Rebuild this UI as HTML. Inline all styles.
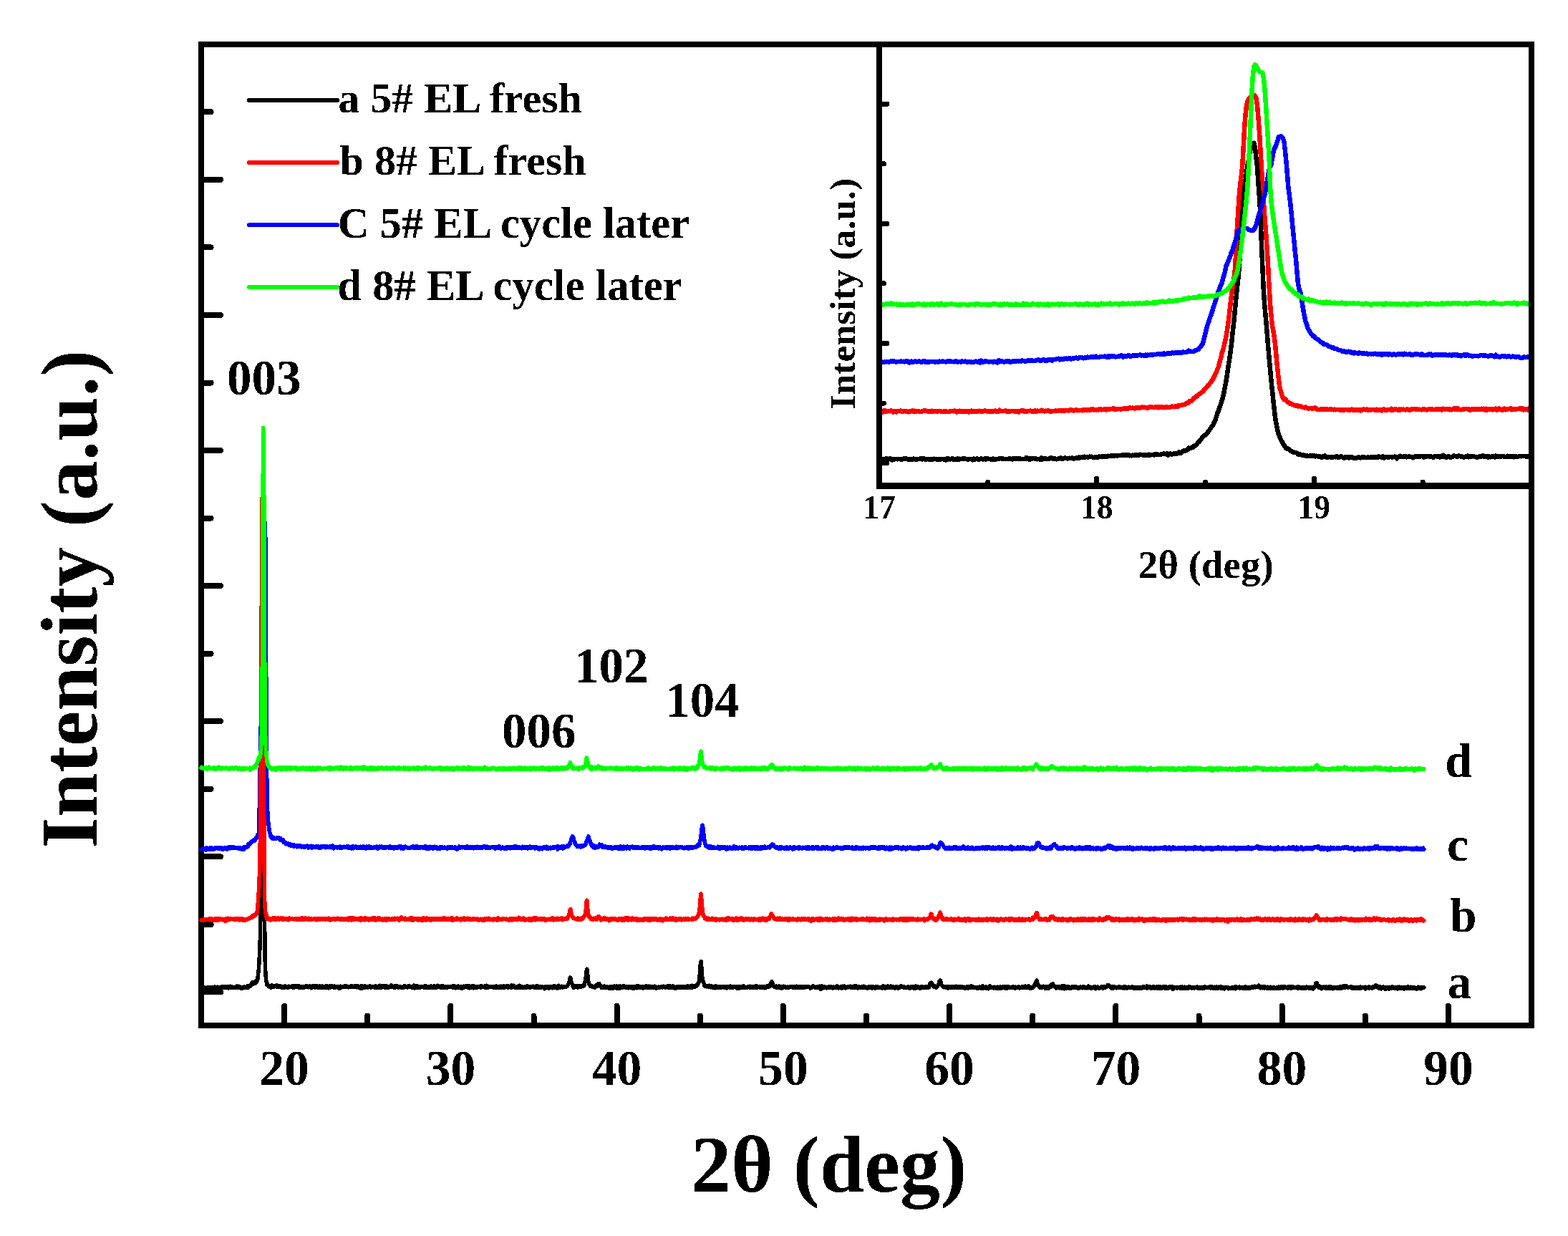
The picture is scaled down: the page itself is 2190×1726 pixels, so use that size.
<!DOCTYPE html><html><head><meta charset="utf-8"><style>html,body{margin:0;padding:0;background:#fff;}svg{display:block}text{font-family:'Liberation Serif','Times New Roman',serif;font-weight:bold}</style></head><body>
<svg width="2190" height="1726" viewBox="0 0 2190 1726" shape-rendering="crispEdges">
<rect width="2190" height="1726" fill="#fff"/>
<defs><filter id="aa" x="0" y="0" width="2190" height="1726" filterUnits="userSpaceOnUse" color-interpolation-filters="sRGB"><feComponentTransfer><feFuncA type="discrete" tableValues="0 1"/></feComponentTransfer></filter><clipPath id="cm"><rect x="277" y="58" width="1866" height="1378"/></clipPath><clipPath id="ci"><rect x="1228" y="62" width="911" height="616.5"/></clipPath></defs>
<g stroke="#000" fill="none" stroke-width="8">
<rect x="281" y="62" width="1858" height="1370"/>
</g>
<path d="M397.1 1432V1404.8M513.2 1432V1418.6M629.4 1432V1404.8M745.5 1432V1418.6M861.6 1432V1404.8M977.8 1432V1418.6M1093.9 1432V1404.8M1210.0 1432V1418.6M1326.1 1432V1404.8M1442.2 1432V1418.6M1558.4 1432V1404.8M1674.5 1432V1418.6M1790.6 1432V1404.8M1906.8 1432V1418.6M2022.9 1432V1404.8M281 250.8H308M281 156.3H294.6M281 439.9H308M281 345.4H294.6M281 629.0H308M281 534.5H294.6M281 818.1H308M281 723.6H294.6M281 1007.2H308M281 912.7H294.6M281 1196.3H308M281 1101.8H294.6M281 1385.4H308M281 1290.9H294.6" stroke="#000" stroke-width="8" stroke-linecap="round" fill="none"/>
<g clip-path="url(#cm)" fill="none" stroke-width="5.5" stroke-linejoin="round" stroke-linecap="round" shape-rendering="crispEdges">
<path stroke="#000000" d="M281.0 1379.2l.5 2 .5-1.6 .5 .4 .5 .1 .5-.5 .5-.5 .5 1.4 .5-.2 .5-1.8 .5 3.2 .5-1 .5-1.4 .5 1.3 .5-1.1 .5 .3 .5 .6 .5-1.6 .5 1.4 .5 .6 .5-.1 .5-1.3 .5 .9 .5-1.9 .5 1.1 .5 .4 .5-1.4 .5 .9 .5 1.4 .5 .6 .5-1.4 .5 0 .5-1.3 .5-.2 .5-.2 .5 1.4 .5 .2 .5-1.1 .5-.5 .5 1.1 .5 .1 .5-.4 .5 1 .5-1 .5 0 .5-.8 .5 .9 .5 .9 .5-1 .5 0 .5 .3 .5-.2 .5 .2 .5 0 .5 0 .5-1 .5 .8 .5-1.5 .5 1.4 .5-1.1 .5 .8 .5 .4 .5-.7 .5 .4 .5-1.3 .5 .6 .5 1.1 .5-1.4 .5 1.4 .5-1.6 .5 .4 .5-.2 .5 .8 .5 .4 .5-1.2 .5 .6 .4 1.4 .5-1.5 .5-.4 .5 .9 .5-.4 .5-.4 .5-.8 .5 1.9 .5-1 .5 .4 .5-.8 .5 1.7 .5-.4 .5 .2 .5-.9 .5 .5 .5 .3 .5 .1 .5-.5 .5-.3 .5-.2 .5-.3 .5-.1 .5 1 .5-.5 .5-1.3 .5 1.4 .5 1 .5-1 .5-1.2 .5 1.3 .5 .7 .5-.4 .5-.5 .5 1.7 .5 0 .5-1.5 .5 .7 .5-.3 .5 .3 .5 .5 .5-.5 .5-.5 .5-.6 .5-.1 .5 .5 .5 .9 .5-.7 .5-.2 .5 .1 .5-.2 .5 .4 .5-1.3 .5-.7 .5 1.1 .5-.6 .5 1.9 .5-1.4 .5-.3 .5-1.3 .5 .9 .5-1.1 .5 .8 .5-.7 .5-1.7 .5 .4 .5-2.8 .5 1.2 .5 1.2 .5-.6 .5-.8 .5-.4 .5-1.2 .5-.2 .5 .9 .5 .9 .5-3.1 .5 1.9 .5-.3 .5-.1 .5-1.8 .5-1 .5-2 .5-4.3 .5-4.4 .2-2.5 .1-.7 .1-1.1 .1-1.8 .1-1.5 .1-2.1 .1-1.7 .1-.3 .1-2.6 .1-1.7 .1-.9 0-1.5 .1-1.6 .1-2.3 .1-2 .1-1.5 .1-1.9 .1-1 .1-2.9 .1-1.9 .1-2.9 .1-1.6 .1-5.7 .1-1.8 .1-3.9 0-5.8 .1-2.1 .1-6.3 .1-4.4 .1-5 .1-2.9 .1-5.2 .1-5.8 .1-5.3 .1-6.7 .1-7.7 .1-9.5 .1-9.9 .1-9.5 0-11.7 .1-9.9 .1-10.4 .1-12.5 .1-13.6 .1-14.1 .1-14 .1-17.1 .1-15.5 .1-16.6 .1-16.8 .1-13.2 .1-18.8 .1-21.5 0-23.9 .1-25.3 .1-27.5 .1-24.4 .1-16.8 .1-16.1 .1-13.1 .1-12.7 .1-9.1 .1-7.7 .1-11.7 .1-7 .1-7.6 .1-4.1 .1-3.2 0 1.3 .1 .9 .1 12.9 .1 14.9 .1 9.7 .1 21.6 .1 26.1 .1 16.8 .1 36.6 .1 40.9 .1 36.5 .1 36.3 .1 29.8 .1 16.9 0 17.9 .1 17.8 .1 19.5 .1 18.4 .1 18.3 .1 17.9 .1 16.9 .1 15.8 .1 13.5 .1 15.9 .1 14.8 .1 12.2 .1 10.6 .1 5.3 0 8.4 .1 7.1 .1 1.9 .1 4.4 .1 1.7 .1 3.7 .1 3.8 .1 1 .1 2.9 .1 1.6 .1 1.5 .1 1.7 .1 1.2 .1 1.5 0 .7 .1-.2 .1 2.4 .1 .6 .1-1.3 .1 2.4 .1 .8 .1 .7 .1 .3 .1-.8 .1 1.3 .1-.9 .1 1.9 .1 2 0-.7 .1 .4 .1-.8 .1-.2 .1 .2 .1 1 .1-.6 .1 .3 .1 1.5 .1-2 .1 .4 .1 .7 .1 .5 .1 0 0-.8 .5 1.7 .5 .3 .5 .8 .5-.7 .5 1.2 .5 .2 .5-.5 .5 .3 .5-.2 .5 1.4 .5-3.4 .5 1.2 .5-.2 .5 .9 .5-.3 .5 .1 .5 .8 .5-1.9 .5 .5 .5 .4 .5-.8 .5 1.1 .5-.1 .5-.8 .5-.8 .5 2.5 .5-.8 .5 0 .5-.2 .5 0 .5 .6 .5-.6 .5-.4 .5 1 .5-.4 .5-.6 .5-.1 .5 1.6 .5-.4 .5 1.1 .5-1.9 .5-.1 .5 .9 .5 .8 .5-.6 .5-.1 .5 1.1 .5-2 .5-.3 .5 .3 .5 .4 .5 .5 .5 .5 .5-.5 .5 .8 .5-1.7 .5 2 .5-2 .5 1.5 .5-1.6 .5 .9 .5-.2 .5 .4 .5 .2 .5-.8 .5 .1 .5 .3 .5-1.2 .5 .4 .5-.6 .5 1.2 .5 1.6 .5-1.1 .5-1.2 .5 .2 .4 1.2 .5-1.1 .5-.8 .5 .4 .5 0 .5 0 .5 1.3 .5-.5 .5-1.1 .5 .7 .5-.5 .5 0 .5-.3 .5 2.5 .5-1.6 .5 .7 .5 .2 .5-.9 .5 .7 .5 0 .5-.3 .5 1.5 .5-1.4 .5-.4 .5 .7 .5 .8 .5-.6 .5-1.1 .5-.3 .5 0 .5 .2 .5 .8 .5 .3 .5-2.3 .5 1.7 .5-.9 .5 1.4 .5 .2 .5-1.3 .5 .2 .5-.3 .5 1 .5-1.5 .5 .3 .5 .4 .5 1.4 .5 .9 .5-1.8 .5-.9 .5 .9 .5-.7 .5 1 .5-1.2 .5 .6 .5 .3 .5 .4 .5-.5 .5 1 .5-.8 .5-1.5 .5 2.1 .5-.9 .5-.3 .5 1.6 .5-1.9 .5 .8 .5-.6 .5 1.6 .5-1.3 .5 .5 .5-1.3 .5 2.2 .5-1.9 .5 1.5 .5 .1 .5 .1 .5 .4 .5-2.2 .5 1.2 .5-.2 .5 .2 .5 .5 .5-.7 .5-.7 .5 .5 .5 1.2 .5-2 .5 .9 .5-.8 .5 1.6 .5-2.1 .5 1 .5 .2 .5 .2 .5 1.7 .5-.6 .5-2 .5 2.4 .5-2.5 .5-.5 .5 .3 .5 1.2 .5 .3 .5-2.1 .5 2 .5-.5 .5 .7 .5-.8 .5 1 .5-.3 .5-1.3 .5 2 .5-1 .5 .4 .5 .4 .5-1.6 .5 .6 .5-.5 .5-.1 .5 .9 .5 0 .5 .8 .5 0 .5-1 .5-.6 .5 3 .5-.8 .5-1.7 .5-.6 .5 .4 .5 .5 .5 .6 .5-.1 .5-.4 .5-.5 .5 .3 .5-.3 .5 .3 .5-.2 .5 .5 .5-1.8 .5 1.1 .5 .1 .5-.6 .5 .7 .5-.7 .5 .3 .5 .3 .5 0 .5-.2 .5 1.2 .4-.6 .5 0 .5 0 .5-.7 .5-.2 .5 1.3 .5-.9 .5-1 .5-.3 .5 1.8 .5-.7 .5 .5 .5-.4 .5 .1 .5 .2 .5-.8 .5 .9 .5 .7 .5-.2 .5-1.8 .5 .3 .5 0 .5 .8 .5 .9 .5-.4 .5-1.6 .5 1.4 .5 .5 .5-.9 .5 1.7 .5-1.9 .5 1.4 .5 .9 .5-2.7 .5 .7 .5 .6 .5 2 .5-3.7 .5 1.7 .5-.2 .5-.5 .5-.3 .5 .2 .5 .2 .5-.7 .5 2.1 .5-2 .5 .5 .5-.2 .5 .2 .5 .4 .5-.6 .5 .3 .5 1.5 .5-.5 .5-1 .5 .9 .5-1.2 .5 .7 .5-1.2 .5 .2 .5 .2 .5 1.6 .5-.8 .5 .2 .5-.3 .5 .2 .5 0 .5 .3 .5-.4 .5-.9 .5 .1 .5 1.5 .5 .2 .5-.6 .5-1.7 .5 2.4 .5-.9 .5-.3 .5 .1 .5-.3 .5 1.6 .5-.1 .5-2.1 .5 .7 .5 .4 .5 .7 .5-2.8 .5 2.5 .5 .6 .5-1.5 .5 .2 .5 1 .5-.7 .5-1.3 .5 .2 .5 .1 .5-.3 .5 1 .5-.4 .5 .5 .5 .5 .5 .8 .5-1.2 .5-1.6 .5 2.5 .5-1.2 .5 1 .5-1.2 .5 .6 .5-.4 .5 .1 .5 1 .5-1.5 .5 .7 .5 0 .5-.5 .5-1.3 .5 1.9 .5-2.4 .5 1 .5 .8 .5 .7 .5 .3 .5 0 .5-.2 .5-.7 .5 1.2 .5-1.2 .5 1.1 .5-2.5 .5 .9 .5 .3 .5 .4 .5-1.7 .5 2.4 .5 .1 .5-.2 .5-.9 .5 1.4 .5-1.5 .5 1.1 .5-.7 .5 0 .5-.1 .5 .1 .5 .9 .5 .2 .5 0 .5-.4 .5-.1 .4-.2 .5 1 .5-1.7 .5-.1 .5 .5 .5-1.3 .5 1.1 .5 .1 .5-.7 .5 .3 .5 1 .5-.7 .5 .2 .5 .7 .5-1.2 .5-.4 .5 .8 .5 .4 .5-1.7 .5 1.9 .5-.8 .5 0 .5-.4 .5 .5 .5 .9 .5-.3 .5 .2 .5-.9 .5 1.5 .5-.3 .5-.9 .5-2 .5 2 .5 2 .5-2.1 .5-.7 .5 2.1 .5-1.8 .5 .9 .5 .2 .5-1.7 .5 1.2 .5 .8 .5-1.2 .5 .8 .5-.5 .5 .8 .5 .6 .5-2.2 .5 .6 .5 .5 .5-.8 .5-.1 .5 .3 .5 .1 .5-.3 .5 .7 .5 .4 .5 0 .5-.1 .5 .4 .5-1.9 .5 .9 .5 .2 .5 .3 .5-1.6 .5 2.6 .5-2.1 .5 .9 .5 .4 .5 .2 .5-1.3 .5 .1 .5 .7 .5 .1 .5 .3 .5-.7 .5-.5 .5-.5 .5 2.3 .5-2.3 .5 1.5 .5-.3 .5 .4 .5 .1 .5 .3 .5-1 .5 .3 .5-1.8 .5 1.5 .5-.7 .5 .6 .5 1 .5-.8 .5 .7 .5-.9 .5 .4 .5-.6 .5-1.6 .5 1.4 .5 .3 .5 .3 .5-.1 .5-.1 .5 .8 .5-.2 .5-.8 .5 1 .5-2.2 .5 1.3 .5 .1 .5 1.1 .5-1.4 .5-.7 .5 1.3 .5 1.1 .5-1.4 .5 .1 .5-.1 .5 .2 .5 .9 .5 .5 .5-1.1 .5-.4 .5 1.4 .5-1.3 .5 0 .5-.3 .5 0 .5 .4 .5-.4 .5 .6 .5-.3 .5 .4 .5-.7 .5 .1 .5 .3 .5-.1 .5 0 .5 .8 .5-1.7 .5-.6 .5 2 .5-.7 .5 1.2 .5-1.1 .5-.8 .5 2.5 .5-1.3 .5-.7 .5-.2 .4 1 .5-1 .5 .8 .5 .6 .5-1.9 .5 .8 .5 .6 .5 .9 .5-.5 .5-1.1 .5 1.5 .5-1.4 .5 .1 .5 .4 .5-1.1 .5 3.2 .5-1.4 .5-.8 .5-.6 .5-.4 .5 1.1 .5 .3 .5-.8 .5 .1 .5 .6 .5-.5 .5-1.3 .5 1.9 .5-.4 .5 .4 .5-1.1 .5-1 .5 .6 .5 1.2 .5 1.3 .5 .2 .5-1.5 .5-1.3 .5 .8 .5 .6 .5 0 .5-.3 .5 1 .5-1.7 .5-1 .5 1 .5-.2 .5 2.5 .5-1.8 .5-.9 .5 1.5 .5 .3 .5-.7 .5 .1 .5 .6 .5-.3 .5-1 .5 1 .5 .3 .5-.5 .5 .4 .5-.2 .5-.6 .5 .1 .5 .5 .5-.8 .5 1.2 .5 .1 .5-2.5 .5 1.5 .5-.5 .5 .1 .5 .6 .5-.3 .5 .6 .5-.2 .5 .1 .5-.9 .5 .3 .5 1.4 .5-3 .5 3.2 .5-1.7 .5 1.3 .5-2.9 .5 1.7 .5 .9 .5-.5 .5 .6 .5-1.4 .5 .3 .5-.1 .5 .9 .5-.1 .5-.4 .5-.1 .5 0 .5 .3 .5-.8 .5 .6 .5 0 .5-.3 .5 0 .5 1.5 .5-1.6 .5 .8 .5 .7 .5-.5 .5-.5 .5 .8 .5-1.9 .5 .2 .5 .6 .5 .1 .5 .1 .5 1.5 .5-.1 .5-1.3 .5 .2 .5-.9 .5 .9 .5-1.2 .5 2 .5-1.4 .5 .8 .5-1.4 .5 2 .5-.5 .5 1 .5-1.5 .5-1.2 .5 .6 .5-.3 .5 2.1 .5-1.7 .5-.1 .5 1 .5-.2 .5 .2 .5-.8 .5-1.1 .5 .5 .5-.6 .5 2.6 .5-.3 .5-1 .5 .8 .5 0 .5 0 .5-.1 .5 .3 .4-.6 .5-1.8 .5-.4 .5 3.1 .5-.5 .5-2.4 .5 2 .5-.7 .5 .2 .5-1.5 .5 2.5 .5-.7 .5 .7 .5 .2 .5 .2 .5 .3 .5-1.1 .5 0 .5-.7 .5 .9 .5-.6 .5-.7 .5 1.8 .5-.3 .5-2.6 .5 .6 .5 1.3 .5-.9 .5 1.9 .5-.7 .5 .3 .5 .2 .5 .3 .5-1.2 .5 .7 .5-.3 .5 .4 .5-.1 .5 .6 .5-.7 .5-.7 .5 .4 .5-.9 .5 1.1 .5 .9 .5-1.6 .5-.8 .5 1.2 .5-.3 .5 .3 .5-.4 .5 .5 .5-.8 .5 1.9 .5-1.3 .5 .5 .5 .2 .5-.7 .5 .5 .5-.5 .5-.2 .5 .2 .5 .5 .5-1.3 .5 .3 .5 0 .5 .2 .5 1.3 .5-.9 .5-.2 .5 .4 .5 .6 .5-1.3 .5 1.3 .5-2.5 .5 1.1 .5 1.8 .5 0 .5-1 .5-.5 .5 1 .5-1 .5 1.5 .5-.3 .5-.3 .5-1.2 .5 1.4 .5-.9 .5 0 .5-.2 .5 .3 .5 .4 .5 .3 .5 0 .5 1.9 .5-2.8 .5 1.1 .5-1.3 .5 .3 .5-.7 .5 1.8 .5-.7 .5-.1 .5-.2 .5 .8 .5-1.1 .5 .7 .5 1.6 .5-2 .5-.4 .5-.3 .5 1.4 .5-.6 .5-.6 .5-.1 .5 .7 .5-.8 .5 2.3 .5-1.7 .5 0 .5 .1 .5-1.3 .5 .3 .5 .8 .5 .2 .5-.9 .5 2.2 .5-.9 .5 .6 .5-.1 .5-1 .5 2 .5-1.8 .5-1.5 .5-.4 .5 1.8 .5 .6 .5-.6 .5 1.3 .5-1.6 .5 .7 .5 .1 .5-1.4 .5 1 .5 .1 .5 .5 .5 0 .5-.1 .5-1.4 .5 1.1 .5 .2 .4-.8 .5 .4 .5 0 .5 .2 .5-1 .5 .2 .5-.4 .5-.4 .5-.9 .5-.3 .5-1.4 .5-.6 .5-1.1 .5-2.4 .5-2.6 .5-2.6 .5 1.1 .5 .5 .5 3.6 .5 2.1 .5 .9 .5 1.3 .5 1.9 .5 .1 .5 .5 .5 2.4 .5-1.7 .5-.2 .5 .5 .5-.9 .5 .4 .5 .5 .5-.9 .5 .6 .5-.1 .5 .3 .5-1.4 .5 2.6 .5-1.4 .5 .5 .5-1.2 .5-.2 .5 .9 .5-.3 .5 .7 .5-1.2 .5-.1 .5 .8 .5 .2 .5 0 .5-.9 .5 0 .5-1.1 .5 1.2 .5-.7 .5-1 .5-3.4 .5-.2 .5-4.5 .5-3.5 .5-5.4 .5-3.8 .5-1.3 .5 3.9 .5 4.9 .5 4.4 .5 4.7 .5 1.2 .5 2.6 .5 .1 .5 .5 .5 1.6 .5 .2 .5-1.1 .5 .8 .5 .3 .5 .6 .5-.9 .5 .3 .5 .3 .5 .6 .5 .2 .5-1 .5 1.7 .5-1 .5-.9 .5-.6 .5 .7 .5-1.6 .5 1.7 .5-.1 .5 .1 .5-1.2 .5-2.3 .5 .6 .5 .8 .5-1.8 .5 1.7 .5 1.7 .5 .1 .5-1.2 .5 1.4 .5 .6 .5 1.7 .5-1.8 .5-.3 .5 .9 .5 .1 .5 .2 .5 .6 .5-1.1 .5-.9 .5 1 .5 0 .5 .8 .5-.1 .5-1.2 .5 1.1 .5 .2 .5-.9 .5 .9 .5-.6 .5 0 .5-.2 .5 .7 .5 1.6 .5-2 .5-1.1 .5 .7 .5-.2 .5 .7 .5-.4 .5 2 .5-1.3 .5 .8 .5-1.9 .5 .4 .5 1.7 .5-2.8 .5 1.3 .5-1.2 .5 2.3 .5-2.2 .5 .8 .5 .1 .5-1.1 .5 3.1 .5-2 .5 1.4 .5-1.8 .5-.5 .4 1.2 .5 0 .5 2 .5-2.9 .5-.4 .5 .6 .5 .8 .5 .2 .5-1 .5 .3 .5 .7 .5 .4 .5-1.3 .5 .6 .5-2.2 .5 1.3 .5 1.1 .5-.3 .5-.2 .5 1.4 .5-1.4 .5-.6 .5 .9 .5 0 .5-1 .5 1.6 .5 .6 .5-1.8 .5-.2 .5 .6 .5 1 .5-1.3 .5-.2 .5 .1 .5 .7 .5-.1 .5-.2 .5 1 .5 .8 .5-2.1 .5 1.2 .5-.6 .5 2 .5-2.9 .5 .4 .5 .4 .5-1.2 .5 .9 .5 .7 .5-1.6 .5 1.2 .5 1.2 .5-1.8 .5-.2 .5-1.2 .5 1.8 .5-1.1 .5 1.6 .5 .8 .5-.8 .5-1 .5 1.1 .5-.9 .5-.4 .5 .4 .5 .6 .5-.5 .5 .7 .5 1.2 .5-1.1 .5 .1 .5-1.1 .5 1.5 .5-.7 .5 .5 .5-1.4 .5 .8 .5-2 .5 1.5 .5-.3 .5-.2 .5 2.1 .5-2.5 .5 1.1 .5 0 .5 .5 .5 .4 .5-2 .5 .8 .5-.1 .5 1 .5 .2 .5-1 .5-.1 .5-.4 .5 1.1 .5 1 .5-1 .5-.8 .5-.1 .5 .1 .5-.7 .5 2.5 .5-1.2 .5-.4 .5 2 .5-1.5 .5 .9 .5-.9 .5 .6 .5-.7 .5-.4 .5 .6 .5 .2 .5 .3 .5-.7 .5-.3 .5-.1 .5 .5 .5-.6 .5 .2 .5 .6 .5 0 .5 0 .5-1 .5-.5 .5 1.3 .5-.1 .5-.4 .5 .5 .5 .4 .5-.8 .5 .5 .5-1 .5 .5 .5-.4 .5-.5 .5 1.4 .5-2.4 .5 2 .5 .7 .5-.3 .5-1.5 .5 1.4 .5-1.6 .5 .7 .5 1.8 .5-1 .5 .8 .5-1.7 .5-.8 .4 1 .5 1.5 .5-.2 .5 .1 .5-.9 .5 0 .5-.1 .5 2.4 .5-2.2 .5 1.3 .5-1.5 .5 1.2 .5-1.8 .5 .4 .5 .6 .5-.7 .5 .2 .5 .1 .5-.2 .5 1.5 .5-.3 .5-1.9 .5 2.3 .5-1.3 .5 0 .5-.1 .5 .8 .5-.1 .5-1 .5 .5 .5-1 .5 2.3 .5-2 .5 0 .5 .1 .5 .6 .5 .5 .5-.9 .5 .3 .5-.3 .5 1.2 .5-.8 .5-1.4 .5 2.3 .5-.8 .5 1.2 .5-2 .5 .1 .5 .2 .5-.9 .5 .7 .5 1.2 .5-.4 .5-2.4 .5 2.8 .5-.8 .5 .3 .5-.6 .5 0 .5-.1 .5-.1 .5-.9 .5 1.4 .5-.7 .5-.1 .5-.2 .5-.7 .5-.1 .5-1.4 .5 .8 .5-.7 .5-1.3 .5-2.5 .5 .2 .5-4.3 .5-4.4 .5-6.3 .5-7.1 .5-5.5 .5-1.3 .5 5.1 .5 8.9 .5 5.7 .5 5.5 .5 1.5 .5 1.4 .5 1.9 .5 .1 .5 3.5 .5 .7 .5-.5 .5 .5 .5 .3 .5-.2 .5 .8 .5-1.1 .5 .5 .5 .3 .5-1.1 .5 .6 .5 1.2 .5 0 .5-2.1 .5 2.6 .5-.4 .5 .4 .5-.6 .5 .5 .5-1.4 .5 .8 .5-.6 .5 .4 .5 1.3 .5 .4 .5-1.2 .5-.3 .5 .9 .5-.2 .5 1.1 .5-1 .5-2.2 .5 1.8 .5-.3 .5-.3 .5 .7 .5-.1 .5-.3 .5 1.4 .5-.8 .5 0 .5-.2 .5 .8 .5-1.7 .5 1.7 .5-1.1 .5 1.3 .5 0 .5-.7 .5-.7 .5 .6 .5 0 .5-1.3 .5 .8 .5-.3 .5 1.6 .5 .2 .5-1.8 .5 .2 .5-.6 .5 1.2 .5 .4 .4 .7 .5-2.3 .5 1.7 .5-.8 .5-.5 .5 .3 .5-.3 .5 .9 .5-.3 .5 .9 .5-1.3 .5-1 .5 .6 .5 1 .5-1.3 .5 .5 .5 1 .5-1.4 .5 1.6 .5-.4 .5-.6 .5 .4 .5-.4 .5 .1 .5 .1 .5 .2 .5-.1 .5-.5 .5-.1 .5 2.3 .5-2.4 .5 .7 .5 1 .5-.2 .5-1.2 .5 2 .5-.2 .5-1.5 .5-.7 .5 1.4 .5-.6 .5-.1 .5-.4 .5 .2 .5 .5 .5 .6 .5-2.2 .5-.3 .5 2.5 .5-1.3 .5 1.1 .5-.4 .5 .9 .5-.3 .5-.9 .5 .1 .5 .4 .5 .3 .5-1 .5-.7 .5 1.2 .5-.1 .5-.1 .5-.6 .5 1.2 .5-1.8 .5 1 .5 1.3 .5-1.8 .5 1.1 .5 .1 .5-.1 .5-1.5 .5 2 .5-.7 .5 .3 .5-.1 .5-.2 .5 .8 .5 .2 .5-2.5 .5 .8 .5 .5 .5-1.5 .5 2.7 .5-1.7 .5 1 .5-.2 .5-.3 .5-.6 .5 .4 .5 .4 .5 .5 .5-.7 .5-.2 .5 .1 .5 1.2 .5-.8 .5-.7 .5-.5 .5 .7 .5-.4 .5 .3 .5 1.4 .5-.6 .5-.3 .5 .1 .5 1 .5-2.2 .5 1.2 .5-.5 .5 .2 .5-.1 .5-.4 .5 .6 .5-2.1 .5 1.7 .5 0 .5-1.5 .5-.5 .5 1.6 .5-2.9 .5-.6 .5-1.3 .5-.8 .5-.5 .5-.9 .5 4 .5-1.4 .5 1.9 .5 .5 .5 1.8 .5 .1 .5 .7 .5 .3 .5-.1 .5-.4 .5 .7 .5-1.8 .5 1.9 .5-.1 .5-.2 .5-1.2 .5 2 .5-1.5 .5 1 .5-1.8 .5 1.2 .5-.3 .5-.1 .4 .1 .5 1.8 .5-1.3 .5 .3 .5 1.3 .5-2.6 .5 2.2 .5-1.4 .5-.2 .5 .1 .5-1 .5 .2 .5 .3 .5 .4 .5 1 .5 .3 .5-1.1 .5 .5 .5 .1 .5-.5 .5 .3 .5-.6 .5 .9 .5-.6 .5 .2 .5 .2 .5-.1 .5-.7 .5-.4 .5 .9 .5-.3 .5 0 .5 .3 .5-.4 .5 .8 .5 0 .5-1 .5 1 .5-1 .5 1.2 .5 0 .5-.5 .5 .7 .5 .1 .5-.5 .5-1.7 .5 1.5 .5 0 .5 .5 .5-1.3 .5 1.2 .5-.2 .5 0 .5-1.2 .5 .3 .5 1.4 .5-.2 .5-.7 .5 .9 .5-.6 .5-.5 .5-.9 .5 2 .5-.9 .5 .3 .5-1.5 .5 .9 .5 .6 .5-.4 .5-.3 .5-.3 .5 1 .5-.5 .5 .1 .5 0 .5-.3 .5 .3 .5-.2 .5 .4 .5-1 .5 .2 .5 .8 .5-.1 .5 .2 .5 1.4 .5-.9 .5 .3 .5-.6 .5-.4 .5-.5 .5-.8 .5 .4 .5-.7 .5 .9 .5-.4 .5 .5 .5 .7 .5-.3 .5 1 .5 0 .5 .1 .5-.1 .5-.5 .5-.6 .5 .8 .5-.6 .5 .1 .5 .4 .5-1.1 .5-.4 .5 1.5 .5 1 .5-.4 .5 1.9 .5-3.8 .5 .5 .5-1.2 .5 1.1 .5 2 .5-.2 .5-1.9 .5 .5 .5-.4 .5-.4 .5 .9 .5-.1 .5 .3 .5 .1 .5 .4 .5 .5 .5-1.1 .5-.1 .5 .1 .5 .4 .5-.5 .5-.6 .5 .4 .5 .9 .5-1.3 .5 1.3 .5-1.6 .5 1.5 .5 0 .5-.6 .5 .1 .5-.1 .5 1.4 .5-1.6 .5-.2 .5 .8 .5 .6 .4-.6 .5-.4 .5 .9 .5-1.3 .5 0 .5-.4 .5 1.8 .5-2.5 .5 .7 .5 1.1 .5 .2 .5 .9 .5-.9 .5-.7 .5 1.4 .5-.3 .5 .1 .5-.1 .5-.4 .5-1.4 .5 .3 .5 2.2 .5-1.4 .5-1.4 .5 1.4 .5 .7 .5-.4 .5-.3 .5-1.8 .5 1.8 .5-.1 .5 1.3 .5-1.2 .5-.1 .5-.3 .5 .3 .5 .3 .5-.6 .5-.3 .5-.3 .5 1.1 .5-.4 .5 0 .5-.9 .5 .6 .5-.8 .5 2.1 .5 .1 .5-.5 .5-.4 .5 .4 .5-1.4 .5 .1 .5 1.8 .5-1.6 .5 .7 .5-.4 .5-1.3 .5 1.3 .5 1.1 .5 .3 .5-2.8 .5 .7 .5 .7 .5 1.2 .5 .2 .5 .3 .5 0 .5-1.5 .5-.5 .5 1.5 .5-.9 .5 .2 .5-.3 .5 0 .5 1 .5-1.5 .5-.5 .5 .8 .5 .6 .5-.4 .5 .2 .5-1.4 .5 .8 .5 1.5 .5-1 .5-.3 .5 1.3 .5-1.2 .5 .9 .5-.4 .5 .2 .5 .4 .5 .9 .5-.7 .5-1.6 .5-.2 .5 .6 .5 .1 .5 .7 .5-.5 .5 .1 .5-1.4 .5 1.2 .5 .5 .5 .8 .5-.6 .5-.6 .5-.9 .5 .9 .5 0 .5-.1 .5 .2 .5 .2 .5 0 .5 1.3 .5-2.4 .5-.4 .5 1.5 .5-1.2 .5 .7 .5 .1 .5-.5 .5 1.2 .5-.2 .5-.3 .5 .3 .5 .2 .5-.9 .5 .7 .5-.3 .5-.1 .5-.4 .5 1.7 .5-1.1 .5-1.3 .5 1.4 .5-2.2 .5 2.1 .5 .3 .5 .5 .5-.9 .5-.7 .5 2 .5-.7 .5 .2 .5-1.1 .5 .6 .5-1.7 .5 1.6 .5-1.9 .4 .8 .5-.3 .5 1.9 .5-.1 .5-1.2 .5 1.4 .5-.9 .5-1.5 .5 1.2 .5-1 .5 1.3 .5 .2 .5-.8 .5 1.2 .5 .2 .5-1.5 .5 1.1 .5-.5 .5-.1 .5 1.4 .5-1.8 .5 .3 .5 .2 .5 .5 .5 .2 .5-1.3 .5 1.7 .5 .4 .5 .1 .5-1.4 .5-.5 .5-.4 .5 1 .5-.3 .5 0 .5-.4 .5-1.2 .5 1.5 .5 .1 .5-.2 .5-.8 .5 .9 .5 .1 .5-.8 .5 1.4 .5-.5 .5 .1 .5 .2 .5-.5 .5 .1 .5 .5 .5 .2 .5 .1 .5-.8 .5 .7 .5 .3 .5-2 .5 .8 .5 .3 .5 0 .5 1.3 .5-.4 .5-1 .5 0 .5-.9 .5 .3 .5 1.7 .5-2.3 .5 1.8 .5-1 .5 .3 .5 .1 .5 1.5 .5-1.1 .5 .1 .5 .4 .5-2.5 .5 3.1 .5-2.7 .5 .8 .5 1 .5-1.4 .5-.4 .5 2.2 .5-1.1 .5 .9 .5-.3 .5-.6 .5 1.5 .5-1.5 .5 1.7 .5-2.2 .5-.1 .5 .2 .5 .7 .5-1 .5 .3 .5 1.6 .5-.9 .5 .7 .5-.6 .5-.7 .5-.2 .5 .7 .5-.1 .5-.5 .5-.1 .5 1.5 .5-.4 .5-.6 .5-.6 .5-.2 .5 1.6 .5-2.3 .5 1.6 .5-3 .5-1.7 .5 1.4 .5-2.9 .5 .5 .5-.7 .5 .5 .5 2.1 .5 .3 .5 1.5 .5 .3 .5-.8 .5 1.9 .5-.5 .5 .4 .5 .5 .5-1.4 .5 1.5 .5 0 .5 .9 .5-.9 .5-.6 .5-1 .5 0 .5-1.8 .5 .3 .5-1.9 .5-1.9 .5-1.5 .5-.9 .5-.1 .5 .2 .5 3.7 .5 .8 .5 1.7 .5 .8 .4 .1 .5 1.3 .5-.2 .5-.1 .5 .8 .5 .6 .5 0 .5-.3 .5-.5 .5 .2 .5 .2 .5-.9 .5 1.7 .5-.6 .5-1 .5 2.1 .5 .4 .5-2.4 .5 .8 .5-.5 .5 1.2 .5-1.5 .5 1.3 .5 0 .5 .5 .5-2.2 .5 .8 .5 .5 .5 .8 .5-.6 .5 .5 .5-.2 .5-1 .5 .5 .5-.2 .5 .1 .5-.4 .5 1.2 .5-.3 .5-1.7 .5 2 .5-1 .5-.6 .5 2 .5-1 .5 .3 .5-.3 .5 0 .5-1.3 .5 1.9 .5-1.1 .5 .6 .5-.1 .5-.7 .5-.2 .5 .9 .5 1 .5-1.4 .5 0 .5 .5 .5-.5 .5 1.5 .5-.7 .5 1.5 .5-1.7 .5 1.5 .5-2 .5 .6 .5-1 .5 .5 .5 .1 .5 .7 .5 .5 .5-1.2 .5-.9 .5 1.1 .5-.1 .5-.2 .5 1 .5 .2 .5-1.4 .5 0 .5-1.4 .5 1.5 .5 1.1 .5-1.4 .5 1.4 .5-.2 .5 0 .5 0 .5-.5 .5 .8 .5 0 .5-.5 .5-.3 .5 1 .5 .2 .5-1.6 .5 1.1 .5-.6 .5 1.7 .5-2 .5-.2 .5-.2 .5 1.4 .5-1.5 .5 1.3 .5-.9 .5 1.4 .5 .2 .5-.4 .5-2.3 .5 .4 .5-.9 .5 3.9 .5-2.4 .5 .2 .5 .3 .5 .4 .5-.7 .5 .3 .5 0 .5-1 .5 2.3 .5 0 .5-1.3 .5-.1 .5 1.5 .5 .4 .5-1.8 .5 .4 .5-.7 .5 .5 .5-2.1 .5 .2 .5 2 .5-.4 .5 .4 .5-.2 .5 .4 .5-.3 .5-.3 .5 .4 .5-.8 .5 1.6 .5-1.8 .5 .4 .5 1 .5-1 .5 1 .5 .4 .4-.5 .5-.9 .5 1.8 .5-1.1 .5-1.1 .5 2.2 .5-1.3 .5 .3 .5 .2 .5-1 .5 1 .5-1.6 .5 .2 .5 .4 .5 2 .5-1.2 .5 .4 .5-1.2 .5 .7 .5-1.9 .5 1.4 .5 .5 .5-.8 .5-1 .5 .2 .5 1.7 .5 .6 .5-1.3 .5 1.4 .5-2.1 .5 1.4 .5-.2 .5 .5 .5-1.9 .5 1.9 .5-.7 .5-.7 .5 .3 .5 .2 .5 .3 .5-.8 .5 0 .5 .7 .5-.1 .5 .4 .5 .3 .5-2.1 .5 1.3 .5 .3 .5-.2 .5-.8 .5 1.3 .5 .8 .5-1.4 .5-.5 .5 1.2 .5-.6 .5 .1 .5 .1 .5-.6 .5 .4 .5-.6 .5-.9 .5 2.3 .5-.6 .5-.3 .5 1.1 .5-1.1 .5 .9 .5-.2 .5-.8 .5-.8 .5 1.3 .5-.2 .5 .6 .5-1.9 .5 1.1 .5 .2 .5 .1 .5-.2 .5 .2 .5-2 .5 1.5 .5-.3 .5-.7 .5 1.3 .5-.4 .5-.6 .5-.2 .5 1.3 .5-2.2 .5 1.9 .5-.8 .5 .9 .5 1.3 .5-.7 .5-.8 .5 1.1 .5 .3 .5-.7 .5 .5 .5-1.3 .5 .2 .5-.7 .5-.5 .5 0 .5-1.2 .5-.3 .5 .6 .5-2.6 .5-2.4 .5 0 .5-1 .5-1.6 .5 1.5 .5 3.5 .5 .3 .5 1.4 .5 .4 .5 .3 .5 2.1 .5-1.1 .5 1.2 .5 1.1 .5-.9 .5-.5 .5 .7 .5 0 .5-.7 .5 .5 .5-1.1 .5-.4 .5 1 .5-.9 .5 .8 .5 .4 .5 .3 .5 1.2 .5-2.1 .5 .4 .5 0 .5-.5 .5 2.3 .5-2.1 .5 .4 .5 0 .5 1.9 .5-2.2 .5-.4 .5 1.4 .5-1.7 .4-1.4 .5 2 .5-.7 .5-2.4 .5-.4 .5 .4 .5-.8 .5-.2 .5 .7 .5 2.9 .5 .1 .5-1.1 .5 1.1 .5 .4 .5-.1 .5 .4 .5 1.5 .5-1.8 .5-.1 .5 .6 .5-.4 .5 .2 .5 0 .5-.4 .5 1.7 .5-1.4 .5 1.5 .5-1.6 .5-.1 .5 .9 .5-.4 .5 .9 .5-.1 .5 1.2 .5-4 .5 1.5 .5 .7 .5-.1 .5 .1 .5 2.1 .5-3.8 .5 2.3 .5-.7 .5 .2 .5 .8 .5-.9 .5 .7 .5 .4 .5-.1 .5-2.4 .5 1 .5-.5 .5 .4 .5 .4 .5 1.8 .5-2.1 .5 .3 .5 .1 .5 1.3 .5-1.6 .5 .7 .5 .3 .5-.2 .5-2 .5 .6 .5 1.5 .5-1.9 .5 1.2 .5-1 .5 1.5 .5-.4 .5-1.1 .5 1 .5-.6 .5 .3 .5 1.4 .5-.7 .5 0 .5 1 .5-1.1 .5 .9 .5-.7 .5-.1 .5-.5 .5-.4 .5-.1 .5 .1 .5 1.1 .5-.1 .5-1 .5 1.6 .5-1.4 .5 .2 .5-.8 .5 .4 .5 1.4 .5-.4 .5-.8 .5 1.4 .5-1 .5 .2 .5 .7 .5-.5 .5-.6 .5-.5 .5 1.8 .5-2.8 .5 1.3 .5-.8 .5 .8 .5 1.1 .5-.9 .5 0 .5 .3 .5 1.5 .5-.5 .5-.8 .5-.7 .5 .2 .5 .6 .5-.5 .5 .1 .5-.7 .5-.2 .5 .2 .5 1 .5-.9 .5 2.6 .5-1.5 .5 .1 .5 .3 .5-1.6 .5-.1 .5 .7 .5 .7 .5-.1 .5 .9 .5-.2 .5-.3 .5 .1 .5-.7 .5 .5 .5-.9 .5-.1 .5 1 .5-2 .5 2.4 .5 .3 .5-1.8 .5 .9 .5-.5 .4-.9 .5 1 .5 0 .5 .3 .5-1.2 .5 .1 .5-.9 .5 .9 .5-1.3 .5 .3 .5-1.5 .5 .5 .5-.7 .5 .4 .5 1.8 .5-.6 .5 .5 .5 .9 .5-.9 .5 2.3 .5-1.9 .5 .4 .5 2 .5-2.9 .5 2.7 .5-1 .5 .1 .5-1.1 .5 .9 .5-1.1 .5 1.7 .5-.9 .5-.3 .5 .1 .5 .3 .5 .9 .5-.5 .5-.9 .5 0 .5-.2 .5 1.4 .5-.2 .5-1.2 .5-.4 .5 1.2 .5-.4 .5 .8 .5-.5 .5 .4 .5 .3 .5 .2 .5-.9 .5 .7 .5-1 .5-.5 .5 1.1 .5 .7 .5 .2 .5-1.1 .5-1.3 .5 1.6 .5-.4 .5 .6 .5 .4 .5-1.2 .5-.2 .5 .2 .5-.2 .5-.2 .5 .9 .5-.7 .5 .3 .5 0 .5-.2 .5 .9 .5-.8 .5 .3 .5 .6 .5-.7 .5-1 .5 .8 .5 0 .5 .8 .5 .8 .5-1.1 .5-.3 .5 1.2 .5-1.6 .5 .8 .5 .1 .5-.4 .5-.1 .5 .3 .5 1 .5-.7 .5-.9 .5 .7 .5 .5 .5 .6 .5-.8 .5-.4 .5 .9 .5-.4 .5-.5 .5-.7 .5 .6 .5 .7 .5-1.6 .5-.3 .5 1.5 .5-1.5 .5 .2 .5 .8 .5 0 .5 .2 .5 .1 .5 .2 .5-.4 .5-.6 .5-1.5 .5 3.1 .5-.4 .5-.1 .5-.5 .5-.6 .5 1 .5-.4 .5-1 .5 1.8 .5-1.8 .5 .7 .5 1.6 .5-1.9 .5 .8 .5 .6 .5-.8 .5-1 .5 .7 .5 .3 .5-1.1 .5 2.2 .5-.8 .5 .3 .5-.4 .5 .1 .5-.5 .5-.9 .5 1.6 .5-.5 .5 1.2 .5-2 .4 .9 .5 1.5 .5-2.6 .5 .1 .5 1.1 .5 1.1 .5-2.2 .5 1 .5-.2 .5-.3 .5 .2 .5 1.1 .5-.8 .5-1.1 .5 .6 .5 .5 .5-1.1 .5 .5 .5 .2 .5-1.3 .5 3 .5-2.6 .5 1.3 .5-.2 .5-.3 .5 1.3 .5-.8 .5-.7 .5 1.5 .5-.5 .5-1.2 .5-.3 .5 1.8 .5-.8 .5-1 .5 1.5 .5-1.5 .5 .6 .5-.1 .5-.9 .5 2 .5 2.1 .5-2.1 .5-.2 .5-.5 .5 .2 .5 .2 .5 .3 .5-.8 .5 .4 .5-.2 .5 .6 .5 .2 .5 .2 .5-1.2 .5 0 .5 .9 .5-.7 .5 0 .5 .5 .5 0 .5 .7 .5-1.9 .5 1.7 .5-1.2 .5 .9 .5-1.5 .5 .9 .5-.4 .5 1.8 .5-2 .5 1.6 .5-1.5 .5-.2 .5 1 .5 .6 .5-.8 .5 .5 .5-.3 .5-.2 .5 1.1 .5-1.1 .5 .7 .5-1.6 .5 .8 .5 .8 .5-1 .5-1.3 .5 2.2 .5-.1 .5-.7 .5 .3 .5-.3 .5 .5 .5 .6 .5-.6 .5-.3 .5-.3 .5 .2 .5-.2 .5 1.1 .5-1.5 .5 .3 .5 .7 .5 0 .5-.1 .5-.5 .5 .5 .5-1.2 .5-.1 .5 .2 .5 1.2 .5 .8 .5-1.4 .5-.1 .5 .2 .5 1.6 .5-1.2 .5-.1 .5-.4 .5 .7 .5 .7 .5-.9 .5-.7 .5 1.6 .5-1 .5 1.3 .5-2.1 .5 .7 .5 .3 .5-1.5 .5 1.4 .5 .3 .5-.5 .5 .4 .5-.2 .5-.7 .5 1.1 .5-1.1 .5 .4 .5-.4 .5 1.1 .5-.9 .5 0 .5-1.2 .5 1.4 .5 .9 .5-2.3 .5 1.9 .5-.4 .5-1.2 .4 1 .5 1 .5-.7 .5 .2 .5 .6 .5-1.1 .5 .9 .5-1.6 .5 .3 .5 1.8 .5-.1 .5-.3 .5-1.8 .5 .9 .5-.5 .5 2.1 .5-2.4 .5 0 .5 .6 .5 .6 .5-.6 .5 .2 .5 .4 .5-.2 .5-1.4 .5 .5 .5 2.1 .5-1.2 .5 1.4 .5-.3 .5-.3 .5-.7 .5 1.1 .5-1.5 .5 2 .5-1.2 .5 0 .5-.8 .5-.1 .5 .3 .5-.2 .5-.3 .5-.2 .5 1 .5 .7 .5 .6 .5-.9 .5-.6 .5 .5 .5 .8 .5-1.1 .5 .6 .5-.4 .5-.2 .5-.5 .5 .9 .5-1.1 .5-.2 .5 1 .5 .5 .5 0 .5-.1 .5-.8 .5 .1 .5 .9 .5 .7 .5-3.5 .5 2.9 .5-.8 .5-.2 .5-.5 .5 .1 .5-.4 .5 1.1 .5-.9 .5 .5 .5-.9 .5 2 .5-.4 .5-1.4 .5 1.2 .5-.6 .5-.4 .5 .7 .5 .6 .5 .5 .5-.9 .5 .6 .5-.3 .5 0 .5 .2 .5-1.8 .5 .8 .5 1.4 .5-2.2 .5 .4 .5 2 .5-2.1 .5 .8 .5 .1 .5-.4 .5 .9 .5-.1 .5-1.1 .5 1.8 .5-1.9 .5 .2 .5 .2 .5 .3 .5-1 .5 1 .5-1.9 .5 1.2 .5-.3 .5 .1 .5 .4 .5 .1 .5-.8 .5 .4 .5-1.2 .5 .7 .5 .8 .5-1.3 .5 .1 .5 .1 .5 .6 .5-.3 .5-.4 .5-.5 .5 1.1 .5-2.2 .5 2.6 .5-.8 .5 1.2 .5-.4 .5 1.1 .5-1.4 .5-.9 .5 1.5 .5-.3 .5 .3 .5 1 .5-1.5 .5 1.2 .5 .1 .5 .2 .5-2.3 .5 1.6 .5-.6 .5 .4 .5-.5 .4 .4 .5 .9 .5 .6 .5-.7 .5-1.4 .5 1.8 .5-1.8 .5 .6 .5 1.1 .5-1.3 .5 1 .5-.7 .5-.7 .5 1 .5-.5 .5 1.7 .5 0 .5-.2 .5-1.9 .5 2.2 .5-1.2 .5 .2 .5-.3 .5-.5 .5 .5 .5 .6 .5 .4 .5-.7 .5-.4 .5-.3 .5 .1 .5 1.4 .5-.7 .5-.3 .5-1.4 .5-.1 .5 1.8 .5 0 .5 .3 .5-.6 .5-.7 .5-.7 .5 .5 .5-1 .5 1.9 .5 .2 .5 .6 .5-2.3 .5 .3 .5 1.5 .5-.2 .5-1.8 .5 1 .5 .6 .5-.4 .5 .6 .5-.3 .5-.4 .5 .7 .5-.3 .5 .9 .5-2 .5 .9 .5-.3 .5 .3 .5 .5 .5 .2 .5-2.1 .5 2.5 .5-.5 .5 0 .5-.3 .5 .6 .5-.4 .5-1.6 .5 .8 .5 .3 .5-.1 .5 0 .5 .8 .5-1.3 .5 .3 .5-.2 .5 .7 .5 .3 .5-1 .5 1 .5-.7 .5 1.5 .5-2.8 .5 1.7 .5 .9 .5-1.2 .5-.5 .5 .2 .5 1 .5-.8 .5 1.2 .5-.7 .5-.5 .5 .1 .5 .7 .5 .4 .5-1.4 .5-.3 .5 0 .5 1.3 .5 1 .5-1.8 .5 .9 .5-.8 .5 1 .5-1.8 .5 1.5 .5-1.4 .5 .4 .5 .8 .5-.4 .5 .1 .5 .5 .5-.3 .5 1 .5-.6 .5-1.2 .5 .5 .5-.3 .5 .1 .5 1.6 .5-2 .5 1.5 .5 .1 .5 .8 .5-2.2 .5 0 .5-.3 .5-1 .5 1 .5-.8 .5-4.2 .5 .5 .5 .5 .5-1.7 .5 .9 .5 1.6 .5 1 .5 .7 .5 .7 .5 2 .5-2.8 .5 1.6 .5-.4 .4 1.2 .5-.5 .5 .8 .5-.4 .5 1.8 .5-2.7 .5 .6 .5 1.1 .5-.9 .5 .4 .5-1.3 .5 1.7 .5-.6 .5 .5 .5-1.1 .5 .3 .5-.2 .5 1.9 .5-2.6 .5 1.6 .5-.1 .5 .8 .5-.8 .5-1 .5 1.2 .5-1.7 .5 2.1 .5-.8 .5-.5 .5 .2 .5 .8 .5-1.7 .5 2.5 .5-1.8 .5 1.7 .5-1 .5 1.3 .5-2.4 .5 1.6 .5-.7 .5-.5 .5 1.2 .5-.9 .5-.3 .5 .4 .5-.5 .5 .4 .5 .2 .5 .8 .5-.9 .5-.5 .5 1.1 .5-.8 .5-.5 .5-.2 .5 2.2 .5-1.4 .5 1.3 .5-2.1 .5-.1 .5 2 .5-1.6 .5-.1 .5-.2 .5-.8 .5 1.4 .5-1.9 .5 1.2 .5-1.5 .5 2.7 .5-1.5 .5 .4 .5-1.9 .5 1.8 .5-.6 .5 .1 .5 .2 .5 1.4 .5-.4 .5-.3 .5 0 .5 0 .5 .1 .5 .3 .5-.7 .5 .2 .5-.9 .5 1.6 .5 .5 .5-.8 .5 1.5 .5-1.7 .5 .6 .5 .9 .5-.7 .5-.8 .5 .9 .5-.6 .5 1.2 .5-.3 .5-.7 .5 .6 .5 .9 .5-.5 .5-.2 .5-.8 .5-.3 .5-.1 .5 1.4 .5-1.6 .5 1.1 .5 .9 .5-2.4 .5 1.4 .5-1 .5 .7 .5 .5 .5-1.2 .5-.2 .5 .7 .5 .4 .5-.4 .5-.5 .5 1.3 .5-1.4 .5-.2 .5 1.1 .5 1.6 .5-2 .5 .3 .5-.7 .5 .3 .5-.4 .5 1 .5-.7 .5-.1 .5 1.3 .5-1.8 .5 1.8 .5-.9 .5-.6 .5 .7 .5-.2 .5 .4 .5-.5 .5 1.5 .5-.7 .5-.1 .5-1.8 .5 .5 .5 1 .4-.7 .5-.6 .5-.3 .5 .7 .5-2.3 .5 .7 .5-.4 .5 2 .5-1.8 .5 1 .5 1.4 .5-1 .5 .6 .5 0 .5 .6 .5 1.3 .5-2.5 .5 1 .5 1.4 .5 .6 .5-2 .5 1.3 .5-.5 .5 0 .5-1.6 .5-.1 .5 1.4 .5-.2 .5 0 .5-.8 .5 2 .5-1.2 .5 2.2 .5-2.3 .5 .5 .5 .3 .5-.8 .5-.5 .5 .3 .5 .5 .5-.4 .5 1.9 .5-1.9 .5 .9 .5 .1 .5-.5 .5-.9 .5 1.2 .5 .3 .5-.6 .5-.1 .5-1.7 .5 .8 .5 .7 .5 .3 .5 .5 .5-.8 .5 .3 .5-.9 .5 1.3 .5 0 .5-.6 .5 .8 .5-.9 .5-.2 .5 .2 .5 1.7 .5-2.7 .5 1.3 .5-.4 .5 .4 .5-1.2 .5 1.7 .5-.1 .5-.7 .5-.1 .5 .4 .5 .6 .5-1.8 .5 2.2 .5-1.3 .5 .9 .5-1.3 .5 2.1 .5-1.3 .5 1.2 .5-1.8 .5-.1 .5 1.4 .5-.3 .5-.3 .5 .7 .5-.6 .5-.6 .5-1.2 .5-.3 .5 2.2 .5 0 .5-1.1 .5 1.1 .5-.6 .5 .2 .5 .7 .5-1.9 .5 1.4 .5 .2 .5-.6 .5 .3 .5-1 .5 1 .5 .4 .5 .1 .5-1.2 .5 1.2 .5-.4 .5 .3 .5-.6 .5 .6 .5-.4 .5 1.7 .5-2.1 .5 1.1 .5-.8 .5-1.2 .5 1.5 .5 .6 .5-.4 .5 .1 .5-1.2 .5 .8 .5-1.3 .5 2.4 .5-.1 .5-2 .5 .5 .5-.7 .5 .4 .5 .2 .5-.5 .5 .5"/>
<path stroke="#0000ff" d="M281.0 1186.6l.5-.8 .5 .8 .5-.8 .5 .2 .5-1.1 .5 1.7 .5-1.7 .5 .6 .5-.7 .5 1.3 .5-1.2 .5 1.1 .5 1 .5-1.2 .5-2 .5 2.4 .5-.6 .5 .3 .5-.2 .5 .5 .5-.1 .5-.9 .5-.9 .5 .9 .5 .6 .5-2.1 .5 1.5 .5-1.5 .5 2.2 .5 .6 .5-.8 .5-1 .5 .9 .5 .4 .5 .2 .5-.2 .5-.3 .5-1.6 .5 .6 .5 .4 .5-.3 .5-1.5 .5 1.3 .5-.5 .5 .7 .5 .1 .5-1.4 .5 .5 .5 .7 .5-1 .5 .8 .5-.6 .5 0 .5 1.2 .5-.8 .5-.3 .5 1.5 .5-1.4 .5 .2 .5 0 .5 2.3 .5-1.8 .5 .1 .5-.9 .5 .9 .5 .2 .5-1.8 .5 1.2 .5 .9 .5 .1 .5-1.2 .5 1.6 .5-2.3 .5 1.3 .5-.4 .4-1.3 .5 1.6 .5-1.8 .5 .5 .5 .4 .5-.8 .5 1.7 .5-1.2 .5-.6 .5 1.1 .5-.2 .5-.9 .5 .4 .5 1.1 .5 0 .5-1.9 .5 1.9 .5 0 .5 .2 .5-1.2 .5-.2 .5 .6 .5-.4 .5 .4 .5-.2 .5 .2 .5-.1 .5 .5 .5 .1 .5-.2 .5-.2 .5 1.7 .5-.5 .5-.3 .5-1 .5 1.2 .5-.5 .5 .6 .5-.3 .5 1.8 .5-1.8 .5-.8 .5 1.7 .5 0 .5 .1 .5-3.2 .5 1.1 .5-.2 .5-1 .5 1 .5 0 .5-.1 .5-.5 .5-1 .5 .7 .5-1.5 .5-2.8 .5 1.3 .5-1 .5 .3 .5-1.2 .5-.5 .5 .8 .5-2.1 .5-.9 .5 .9 .5 0 .5-.9 .5-.2 .5-.7 .5-.9 .5 .2 .5-.6 .5 1.3 .5-1.5 .5 .7 .5-1.7 .5-1.3 .5 .1 .5-.8 .5 .1 .5-3.4 .5 .5 .5-.2 .5-2.3 .2-.2 .1-.7 .1 .9 .1-.6 .1-3.4 .1-1 .1-1.3 .1-1.7 .1-2.6 .1-3.2 .1-3 0-6 .1-8 .1-8.1 .1-7 .1-6.5 .1-4.2 .1-5.1 .1-6.4 .1-3.1 .1-6.3 .1-4.7 .1-6.2 .1-6 .1-5.3 0-7.1 .1-5 .1-5.9 .1-3.5 .1-5.2 .1-4.7 .1-5 .1-4.2 .1-6 .1-7.2 .1-7.5 .1-5.3 .1-6.3 .1-7 0-2.7 .1-4.6 .1-4.2 .1-4 .1-6 .1-2.3 .1-6.3 .1-7.8 .1-6.1 .1-5.4 .1-6 .1-4.4 .1-4 .1-2 0-.6 .1-.9 .1-.6 .1-.2 .1 .5 .1-.8 .1-.6 .1 2.9 .1-.8 .1 2.3 .1-.2 .1 .9 .1-.7 .1 .7 .1-.9 0-.9 .1-1.1 .1-4.1 .1-4.5 .1-8.1 .1-6.2 .1-4.6 .1-5.5 .1-5.2 .1-5.5 .1-7.2 .1-6.4 .1-7.4 .1-7.5 0-8.2 .1-8.7 .1-11.7 .1-11.4 .1-8.6 .1-5 .1-2.7 .1-7.2 .1-15.2 .1-7.9 .1-5.7 .1-3.6 .1-2.8 .1-5.7 0-4.3 .1-4.5 .1-2.1 .1-1.3 .1 2.3 .1 1.2 .1 3 .1 5.1 .1 14.4 .1 16.7 .1 19.7 .1 21.4 .1 22.2 .1 14.2 0 10.9 .1 18.1 .1 19.8 .1 16.3 .1 20.1 .1 16.5 .1 16.1 .1 21.2 .1 19.5 .1 19.9 .1 9.9 .1 4.8 .1 6.4 .1 8.7 0 11.8 .1 11 .1 11.4 .1 6.7 .1 7.5 .1 7.1 .1 2.3 .1 6.8 .1 .4 .1 3.3 .1 4.3 .1 1.6 .1 2.2 .1 1.2 0 2.2 .5 7 .5 5.4 .5 4.1 .5 3.3 .5 4.7 .5 1.2 .5 3 .5 1.9 .5 .9 .5-.1 .5-1.1 .5 2.8 .5 .5 .5-.5 .5 1 .5-.1 .5-2.1 .5 1.1 .5-.2 .5 1.5 .5-.4 .5-.8 .5 .3 .5 .2 .5-1.2 .5 .4 .5 .1 .5-.2 .5 .2 .5 .5 .5-1 .5 .3 .5 1.6 .5 .8 .5 .5 .5-2.5 .5 2 .5-.6 .5 .6 .5 .7 .5 .9 .5 .6 .5-1.8 .5 1.9 .5 1.9 .5-.2 .5-1 .5 .7 .5 .3 .5 1.6 .5 .7 .5-2 .5 1.5 .5-.5 .5 .9 .5-.5 .5-.5 .5 .6 .5 .1 .5 1.8 .5-1.5 .5 1.1 .5-.9 .5 .3 .5 .8 .5-.5 .5 2.1 .5-.4 .5-1.7 .5 1.3 .5 .9 .5-2 .5 .7 .5 1.6 .5-1.7 .4 1.2 .5-.5 .5 .3 .5-.9 .5 .8 .5-.2 .5 1.8 .5-.8 .5-.4 .5 0 .5 .6 .5-1.7 .5 .5 .5 .1 .5 .1 .5-.6 .5 1.7 .5-.7 .5 1.4 .5-1.1 .5-.1 .5 .6 .5 .1 .5-.6 .5 .7 .5 .6 .5-1.3 .5 1.4 .5-1.1 .5 .8 .5-.7 .5-.2 .5 .5 .5-1 .5-.4 .5 1.2 .5-.1 .5-.7 .5 2.5 .5-1.3 .5-.8 .5 1 .5 0 .5-.7 .5 .1 .5-1.2 .5 1.6 .5 1.3 .5-.6 .5 0 .5-1.3 .5-.3 .5 1.5 .5-.5 .5-.3 .5-.1 .5 1 .5-.3 .5-.8 .5 .3 .5-1.2 .5 .4 .5 1.3 .5-.7 .5-.3 .5 .8 .5 .8 .5-1.6 .5 .4 .5 .1 .5 2 .5-1 .5-.6 .5-1.3 .5 1.7 .5-.2 .5-.5 .5-.5 .5 .3 .5-.9 .5 .9 .5 0 .5-.3 .5 .4 .5-.9 .5 2 .5-1 .5-.7 .5 1.5 .5-.2 .5-.8 .5-.6 .5 .9 .5 .4 .5 .2 .5 .2 .5-.1 .5-1.7 .5 1.2 .5-1.5 .5 2.1 .5-.4 .5 .4 .5-.6 .5-.1 .5-.4 .5-1.7 .5 2 .5 2.1 .5-1 .5-1.1 .5 .4 .5 .1 .5-.8 .5 .5 .5 .2 .5-.6 .5 .7 .5 .6 .5-.3 .5-.4 .5-.3 .5 .6 .5-.9 .5-.1 .5 1.5 .5-1.3 .5-.7 .5 1.7 .5-.1 .5 .3 .5-1 .5 1 .5-1 .5-.6 .5 .6 .5 .3 .5-1 .5 .7 .5 .3 .5-.5 .5 .4 .5-.1 .5-.5 .5 .8 .5 .2 .5-1.9 .5 1 .5 1.1 .5-.3 .5-1.7 .4 1.6 .5 .8 .5-.3 .5-.1 .5-.7 .5 .2 .5-.9 .5 .8 .5 1.8 .5-1.8 .5-.7 .5 1.1 .5-1.9 .5 3.2 .5-1.2 .5-.7 .5 0 .5-.4 .5 .7 .5 0 .5-1.2 .5 1.9 .5-1 .5-.6 .5 1.6 .5-.2 .5-1 .5 0 .5 1.3 .5-1.1 .5 .4 .5 .9 .5-1.9 .5-.2 .5 .5 .5 .2 .5 .4 .5 .7 .5-1 .5 1.6 .5-1.1 .5-1.7 .5 1.5 .5 .6 .5 .2 .5-1.3 .5 .4 .5 1.8 .5-1.6 .5-.8 .5-.4 .5 .8 .5 .6 .5-1.1 .5 1.9 .5-1.6 .5-.9 .5 1.9 .5-.4 .5-.2 .5 1.1 .5-1.4 .5 1 .5-.9 .5 1.6 .5-1.2 .5 0 .5 .4 .5-.5 .5 .4 .5-.5 .5 .6 .5-.4 .5-.4 .5 .8 .5-.1 .5-1.1 .5 .6 .5-1.1 .5 1.4 .5 .5 .5 1.2 .5-1.6 .5 .6 .5 .3 .5-.6 .5-1.9 .5 1 .5 .6 .5 0 .5-.1 .5-.8 .5-.7 .5 1.7 .5 .6 .5-1.3 .5 .8 .5-.8 .5 .3 .5-.3 .5 1 .5-1.3 .5 .8 .5 .6 .5-.7 .5-.9 .5 1.2 .5-.4 .5-.8 .5 .8 .5-.1 .5 .7 .5-.8 .5 .4 .5 .4 .5-1.9 .5 2.1 .5-.7 .5-.7 .5 .8 .5 .7 .5-1.3 .5 .1 .5 1.4 .5 .2 .5 .3 .5-1.4 .5-.8 .5 0 .5 .5 .5-.5 .5 1.1 .5 .6 .5-1.8 .5 1.9 .5-1.7 .5 .1 .5-.5 .5 1.6 .5-.6 .5 .1 .5-2.2 .5 1.7 .5 .7 .5-2.3 .5 3.5 .5-1.2 .5 .6 .5-1.1 .5 .9 .5 .3 .4 1 .5-2.7 .5 2.3 .5-2.3 .5 .9 .5-.4 .5 .2 .5-1.4 .5 1.3 .5-.7 .5 .7 .5 .4 .5-.2 .5-.1 .5 1.1 .5-.7 .5 .2 .5 .5 .5-1 .5 .1 .5 .4 .5-.7 .5 1.1 .5-1.4 .5 .4 .5 0 .5-.1 .5 .2 .5-.3 .5-1.5 .5 2.7 .5-1.2 .5 .9 .5-1.4 .5 1.2 .5-1.4 .5 2.1 .5-1.2 .5-.2 .5-1.8 .5 .4 .5 1.3 .5-.1 .5 0 .5 .1 .5 1.1 .5-1 .5 0 .5-.3 .5-.2 .5 1.1 .5-.6 .5 0 .5 .5 .5-.2 .5 .6 .5-.1 .5-1.5 .5 .4 .5 1.3 .5-1 .5 .8 .5-1.2 .5-1.1 .5 .1 .5 1.2 .5 .2 .5 2.1 .5-1.2 .5-.1 .5 .2 .5-1.9 .5 1.3 .5-.2 .5 1.6 .5-2 .5-.6 .5 1.2 .5-.2 .5 .2 .5 .1 .5 0 .5-.6 .5 .1 .5 2.1 .5-2.2 .5 .8 .5-1.1 .5-.5 .5 1.9 .5-.5 .5 .9 .5-.2 .5-.6 .5-.8 .5 2 .5-1.3 .5 1.5 .5-1 .5 .1 .5-.2 .5-.1 .5-.5 .5 1.9 .5-2.4 .5-.5 .5 1.4 .5-.7 .5 1.2 .5-.9 .5 1.1 .5-.8 .5-.7 .5 .3 .5 .8 .5-1 .5-.1 .5 .4 .5 .4 .5 .7 .5-.6 .5 .3 .5-.8 .5 1.5 .5 .3 .5-2.1 .5 .7 .5-.3 .5 .3 .5-.5 .5-.2 .5-.5 .5 .6 .5 .4 .5 .7 .5-.3 .5-.7 .5-.2 .5-.6 .5 1.6 .5-.5 .5 .4 .5 .1 .5-.1 .5-.5 .5-.1 .5-.6 .5 .3 .5 .8 .5 1.3 .5-1.9 .4 .4 .5 2.2 .5-2.3 .5-.3 .5 .3 .5-.2 .5-1.3 .5 2.1 .5-2 .5 .9 .5 .1 .5 .6 .5-.5 .5-.1 .5-.3 .5 .8 .5-.5 .5-.3 .5-.4 .5 .3 .5 .8 .5-1.3 .5 1.3 .5-.1 .5 .8 .5-1.4 .5-.2 .5 .7 .5-.3 .5-1.6 .5 2.8 .5-.7 .5-.1 .5-.7 .5 .9 .5-.5 .5 1.4 .5-.7 .5 .6 .5-2 .5 .3 .5 .3 .5-.1 .5 1.6 .5-.9 .5-1.1 .5 .6 .5 1.6 .5-1.6 .5 .7 .5-1.7 .5 .8 .5 .3 .5-.1 .5 .2 .5 .3 .5 .6 .5-2.2 .5 1.4 .5 .5 .5-.4 .5 .7 .5-1 .5-.2 .5-.3 .5 1.3 .5-1.6 .5 .6 .5 .3 .5 .5 .5-.7 .5-.5 .5 1.2 .5-1.3 .5 .3 .5-1 .5 1.7 .5-.1 .5-1.4 .5 1.2 .5 .5 .5-.9 .5-.7 .5 1.1 .5 .6 .5-1.9 .5 2 .5-.6 .5 .7 .5-1.5 .5 1.5 .5-.4 .5 .3 .5-.5 .5 .6 .5-.8 .5-.2 .5-.4 .5-.4 .5 1.2 .5-.3 .5 .1 .5-.1 .5 .5 .5-.2 .5-.5 .5 1 .5 1 .5-2.2 .5 .3 .5 .7 .5-.9 .5 1.3 .5-1.3 .5-.4 .5 .2 .5 1.5 .5-2.3 .5 1.6 .5-1.6 .5 2.1 .5-.2 .5 .2 .5 1.1 .5-1.7 .5 1 .5-.4 .5 .3 .5-1.3 .5 1.4 .5-1.1 .5 1.4 .5-.4 .5-.7 .5 .4 .5 0 .5-.2 .5 1.8 .5-2.6 .5-.4 .5 0 .5 .8 .5 .2 .5 .5 .5 .3 .5-.6 .5-.1 .5-.8 .5 1.5 .5 .3 .5-1.1 .4 .6 .5-1 .5 .4 .5 .1 .5 .6 .5-1.7 .5 1.1 .5 .6 .5-.4 .5 .2 .5-2.3 .5 1.2 .5 .3 .5-.2 .5-1.2 .5 2.5 .5-.6 .5-1.6 .5 1 .5 .4 .5 .7 .5-.2 .5-1.3 .5 .3 .5 .7 .5 .5 .5-1.1 .5-.1 .5 .9 .5-.3 .5 .9 .5-.7 .5 .4 .5-2.2 .5 .4 .5-.1 .5 .6 .5 .8 .5-.5 .5 .6 .5-.9 .5 1.3 .5-.1 .5-2 .5 .5 .5 .4 .5 1 .5 0 .5 .8 .5-2.5 .5 1.3 .5-.2 .5-.2 .5 .1 .5-1.5 .5 1.8 .5-.5 .5-.6 .5 2 .5-1.6 .5 .7 .5-.7 .5-.7 .5 .8 .5 .6 .5-1 .5 1.2 .5 .9 .5-.4 .5-1.1 .5-.4 .5 1.3 .5-1.7 .5 .2 .5 2.1 .5-1 .5 .1 .5-.6 .5 2.4 .5 .2 .5-2.5 .5 .8 .5-.9 .5 .6 .5 .7 .5-.1 .5-1.1 .5 .5 .5 1.8 .5-1.4 .5 .4 .5-.7 .5-.5 .5-.8 .5 .1 .5-.5 .5 .4 .5 .2 .5 1.2 .5-1.8 .5 1.6 .5-1.8 .5 3.4 .5-2.4 .5 .6 .5 1.2 .5-1.5 .5 .2 .5 0 .5 .4 .5-.9 .5 1.8 .5-.5 .5-.8 .5 .9 .5-1.1 .5-.3 .5 .3 .5 .5 .5-1.6 .5 .9 .5 .6 .5-1.2 .5 1.1 .5-1.1 .5 1 .5-.2 .5 .3 .5-.9 .5-.9 .5-.5 .5 4.8 .5-4 .5 .5 .5-.7 .5 2.4 .5-.6 .5 .1 .5-1.5 .5 1.6 .5-1.4 .5 1.5 .5-1 .5-1.8 .5 1.7 .5-.6 .5 2.5 .5-3 .5 .8 .5-.1 .5-.5 .4 0 .5 .5 .5 .2 .5-.7 .5 0 .5 0 .5-.9 .5 .4 .5-.1 .5 .5 .5-.7 .5-.6 .5-.2 .5-2.1 .5 .6 .5-2.2 .5-1.2 .5-1.8 .5-.9 .5-2.8 .5-.6 .5-1.7 .5-.1 .5 1.5 .5 .5 .5 3.3 .5 .3 .5 1.8 .5 2.6 .5-1 .5 2.8 .5 .1 .5 .5 .5 .6 .5-.5 .5 2.2 .5-.6 .5 .3 .5 .2 .5 .3 .5-.4 .5-.9 .5-.3 .5 0 .5 .7 .5 1.1 .5-1.8 .5 .7 .5 .7 .5-.8 .5 0 .5-.8 .5 .8 .5-.8 .5-.4 .5-.1 .5 .1 .5-.1 .5-2.3 .5 .3 .5-2.3 .5-2 .5-.7 .5-1.1 .5-1.6 .5-.7 .5-2.1 .5 3.3 .5 1 .5 1.5 .5-.1 .5 3.1 .5 .5 .5 1.1 .5 1.2 .5-.6 .5 2.6 .5 .4 .5 .1 .5 .8 .5-2.2 .5 1.3 .5 .1 .5-.6 .5 1.7 .5 1.4 .5-2.7 .5 1.2 .5-.3 .5 0 .5-.1 .5 .4 .5-1.2 .5-.1 .5 1.3 .5-1.7 .5-.4 .5-1.8 .5 1.3 .5-.1 .5-.1 .5 1.3 .5-2.2 .5 2.7 .5-1.5 .5 .9 .5-.4 .5 2.3 .5-.5 .5-.1 .5 .5 .5-1.6 .5 1.2 .5 .6 .5-.5 .5 .4 .5-1.1 .5 1.3 .5-.3 .5 .4 .5 1 .5-1.1 .5-.5 .5 .8 .5-1.2 .5 2.1 .5-1.2 .5 0 .5 .4 .5-1.3 .5 .9 .5-.1 .5 1.8 .5-.6 .5 .3 .5-1.3 .5 .1 .5 .7 .5-1.4 .5-.1 .5 1.8 .5-.8 .5 0 .5-1.6 .5 1 .5-.1 .5-.1 .5 .7 .5-.9 .5-.2 .5 2.4 .4-1.1 .5-1.2 .5 2.4 .5-1.2 .5-.1 .5-2.3 .5 3.2 .5-1 .5 .8 .5 .4 .5-2.3 .5 2.4 .5-.8 .5-.5 .5-1.8 .5 3.2 .5-1.2 .5 .2 .5-1.4 .5 1.4 .5 0 .5 .7 .5-1.9 .5-.9 .5 1.2 .5-.3 .5 .9 .5-.3 .5 .3 .5 .8 .5 .3 .5-1.2 .5-1.3 .5 1.2 .5-.1 .5 .1 .5-.1 .5 .1 .5-1.6 .5 2 .5 0 .5-.1 .5-.4 .5 .8 .5-2 .5 1.2 .5 .5 .5-.7 .5 .2 .5 .9 .5-.9 .5-.6 .5 .3 .5 .7 .5-1.1 .5 .8 .5-.3 .5 .3 .5 .6 .5-.1 .5-.4 .5 .1 .5 .4 .5-1.2 .5 .7 .5-.9 .5 1.7 .5-.8 .5-1 .5 .6 .5 .9 .5-.4 .5-1.4 .5 2.5 .5-1.1 .5 .1 .5-.5 .5-.4 .5-.5 .5 1.3 .5-.2 .5-.1 .5 .7 .5-.3 .5-1 .5 .4 .5 1.2 .5-1.9 .5 2.6 .5-2 .5 2.4 .5-1.6 .5-1.5 .5 1.5 .5-.3 .5-.3 .5 .3 .5 0 .5-2.4 .5 2.9 .5-.7 .5 .2 .5 .5 .5-.5 .5-.9 .5 1.5 .5-.9 .5 .5 .5-.7 .5 .4 .5-.7 .5 2 .5-2 .5 1.5 .5-2.1 .5 1.6 .5-.4 .5 .9 .5-.5 .5 1.5 .5 .5 .5-2.6 .5 .9 .5-1.2 .5 0 .5 .7 .5 .7 .5-.2 .5-.6 .5 .9 .5-1.7 .5 .2 .5 .7 .5-1.3 .5 2.3 .5-1.1 .5-.1 .5 .5 .5-1.3 .5 .9 .5-1.2 .5 1.2 .5 .2 .5 1.1 .5-1.2 .5 1 .5-1 .5-1.2 .5 1.8 .5-.5 .5-.5 .4 1.1 .5-1.5 .5 .5 .5 .8 .5 .1 .5-1.1 .5 .7 .5-.1 .5 .4 .5-.7 .5-1.4 .5 1.3 .5 1.4 .5-1.7 .5 .4 .5 .8 .5-.8 .5-.6 .5 .8 .5-.2 .5-.5 .5 .6 .5-1 .5-.1 .5 .3 .5 .7 .5 .2 .5-.5 .5 1.3 .5-.4 .5-.4 .5 .8 .5 .2 .5-.5 .5-1 .5 1 .5 .3 .5-.6 .5-.4 .5 .3 .5 0 .5-1.6 .5 2.5 .5-1.1 .5 1.4 .5-1.4 .5-.7 .5 1.2 .5-.6 .5 .6 .5-1 .5 0 .5-.2 .5-.1 .5 .8 .5-1.3 .5 1.1 .5 .6 .5-1.6 .5 .5 .5-.5 .5 .2 .5 .3 .5 .3 .5 .1 .5-1.3 .5 .8 .5-1.1 .5-.6 .5-.2 .5-1 .5 1.1 .5-2 .5 .9 .5 .9 .5-4 .5-2.6 .5-.5 .5-4.3 .5-3.2 .5-4.7 .5-4.7 .5-2.2 .5-2.5 .5 2.2 .5 4 .5 4.5 .5 4.6 .5 3.3 .5 4.3 .5 1.4 .5 2.2 .5 .9 .5 2.2 .5-1.1 .5 1 .5-.5 .5 1.6 .5-.8 .5 .4 .5-.9 .5 1.6 .5 1 .5-.2 .5-1.7 .5 1.6 .5-1.1 .5-.7 .5 .4 .5 1.9 .5-1.1 .5-.7 .5 1.3 .5 0 .5-.5 .5 .6 .5-.6 .5 1.3 .5-.4 .5-.6 .5 .4 .5 .4 .5-.8 .5 .5 .5-.5 .5-.1 .5-1.2 .5 .5 .5 .2 .5 .8 .5 1.9 .5-2.6 .5 .4 .5-.7 .5 .7 .5 .1 .5 .7 .5-1.5 .5 1.4 .5-.2 .5-.4 .5-.7 .5 .1 .5 .7 .5 .6 .5-.5 .5-.5 .5 .8 .5-1 .5 1.4 .5 1.6 .4-2.7 .5 1.3 .5-1.6 .5 .8 .5 .4 .5 .5 .5-.9 .5 1 .5-2 .5 .8 .5 .2 .5 .1 .5-.2 .5 1.5 .5-1.7 .5 1.1 .5-.4 .5 1.2 .5-1.7 .5 .7 .5-.1 .5-2.9 .5 2.8 .5 .4 .5 .4 .5-1.9 .5 .6 .5 1.1 .5-1.8 .5 .3 .5 1 .5 .1 .5 .5 .5-.2 .5-.6 .5-1 .5 .3 .5 .5 .5 .3 .5-.3 .5 .6 .5-1.2 .5 .3 .5-.7 .5 2.5 .5-1.6 .5 .9 .5 .2 .5-.7 .5-.4 .5-.2 .5 .1 .5-1.1 .5 .9 .5 1 .5-.3 .5 .4 .5 0 .5-.1 .5-.5 .5 .1 .5 .5 .5-.9 .5-.8 .5 1.7 .5-.6 .5 .8 .5-1.3 .5-.8 .5 1.1 .5-.3 .5-.3 .5 1.9 .5-.9 .5-1.1 .5-.4 .5 1.2 .5 .5 .5-.2 .5 .6 .5-.6 .5 .1 .5-1.8 .5 2.4 .5-1.4 .5 1.1 .5-1.8 .5 .5 .5 1.5 .5-1.8 .5 1.1 .5-.5 .5 1.6 .5-1 .5 .7 .5-1 .5-1.3 .5 2.9 .5-2 .5 .5 .5-.1 .5-1.2 .5 1.7 .5-.8 .5-1.1 .5 .2 .5-.6 .5 1.1 .5 .5 .5-.6 .5 .6 .5-.2 .5 .6 .5-.4 .5-.2 .5-.5 .5-.4 .5 .1 .5 .9 .5-.9 .5 1.2 .5-.8 .5-2.1 .5 .8 .5-.1 .5-2.1 .5 .8 .5-1.9 .5 1.7 .5-.5 .5 0 .5-.4 .5 1.9 .5 .1 .5 1.4 .5-.6 .5 1.3 .5-.5 .5 .9 .5 .3 .5-.4 .5 .3 .5 .5 .5-1.5 .5 1.2 .5-.2 .5 1 .5-1.3 .5 .9 .5-2 .4 2.2 .5-.6 .5 0 .5 .4 .5-1.7 .5 .8 .5 .3 .5-.3 .5-.2 .5 1.1 .5-.6 .5-.3 .5 .3 .5 .9 .5 .5 .5-.6 .5-.5 .5-1.4 .5 .6 .5-.3 .5 0 .5 1.7 .5-1.4 .5 1.5 .5-1 .5-.1 .5-.1 .5-.9 .5 .8 .5 .9 .5-.1 .5-.4 .5 .4 .5-.4 .5 .2 .5 1.5 .5-1.7 .5-1.4 .5-.3 .5 1 .5 .7 .5 .6 .5-.7 .5 .1 .5 .4 .5-1.2 .5 .7 .5 .2 .5-.5 .5-.3 .5 1 .5 .4 .5-.7 .5-1.9 .5 1.2 .5 .3 .5 .6 .5-.7 .5 .1 .5 1 .5 .2 .5-.8 .5-.9 .5-.1 .5 1.4 .5-1.1 .5 .6 .5-.2 .5 .3 .5 .1 .5-1 .5 .3 .5 .6 .5-.1 .5-1 .5 2.4 .5-2.5 .5 1.9 .5-2 .5 1.9 .5-2.1 .5 2.1 .5-.6 .5 .5 .5-1.2 .5 .8 .5 0 .5-.1 .5-.5 .5 1.4 .5-2.4 .5 .2 .5 .1 .5 2.2 .5-1.8 .5 .1 .5 0 .5 .3 .5 .1 .5-.2 .5-.8 .5 1.5 .5-.3 .5 1.1 .5-.8 .5-.4 .5-1 .5 1.2 .5 .3 .5 .9 .5-1 .5 .3 .5-.1 .5 .7 .5-.3 .5-.9 .5-1.1 .5 2.3 .5-1.1 .5-.7 .5-.5 .5-.2 .5 1.5 .5-.3 .5 .3 .5 .7 .5-1.4 .5 .7 .5-.6 .5-.2 .5-1.1 .5 1.1 .5 1.4 .5-1.2 .5 .6 .5-.1 .5 1.5 .5-.5 .5-1.6 .5 .2 .5 1.2 .5-.7 .5-.1 .5 .8 .5-.4 .5-.3 .5 2.1 .5-1.9 .5-1.4 .5 1.3 .5 0 .4 1 .5-1 .5-.7 .5 .7 .5-1.2 .5 .7 .5 .5 .5-.9 .5-.9 .5 .8 .5 .1 .5 1.1 .5-.8 .5 .3 .5-.7 .5 .8 .5-.5 .5 .9 .5-.3 .5 .9 .5-.6 .5-.7 .5-.4 .5 .8 .5 .4 .5 .6 .5-1.6 .5-.6 .5-.4 .5 .7 .5 .6 .5-.1 .5 0 .5 .2 .5 .2 .5-1.5 .5 1.3 .5-.1 .5 0 .5-.2 .5-1.1 .5 1.7 .5-.7 .5 .3 .5 .3 .5-.2 .5 .3 .5 0 .5-1 .5-.2 .5 1.5 .5-1.2 .5 2.2 .5-2.4 .5 .9 .5-.2 .5 .3 .5-.9 .5 .9 .5 1.3 .5-1.9 .5-1.3 .5 2.2 .5-.2 .5 .2 .5-1.1 .5 .9 .5 .4 .5-1.1 .5 .4 .5 .4 .5 .1 .5-.7 .5 .3 .5 1.4 .5 0 .5-2.3 .5 2.4 .5-1.9 .5 1.1 .5-1.7 .5 .7 .5-.3 .5 1.1 .5-.5 .5 .2 .5 0 .5-.2 .5 .6 .5-.6 .5-.2 .5-.4 .5-.2 .5 .3 .5 .7 .5 .4 .5-.8 .5 1.6 .5-.6 .5-.9 .5 .3 .5-.3 .5-1.4 .5 2 .5-.4 .5-1.5 .5 1.9 .5-1 .5 .2 .5-1.1 .5 1.3 .5 .3 .5-.6 .5 .3 .5-1.4 .5 1.8 .5-.5 .5 0 .5 .6 .5 .3 .5-.9 .5 .8 .5 .7 .5-2.2 .5 .8 .5-1.2 .5 1.4 .5 .8 .5-1.1 .5-.8 .5 .5 .5 .7 .5-1.4 .5 0 .5 1.4 .5-1.3 .5 1 .5-.8 .5-.4 .5 1.8 .5 .2 .5-1.4 .5 2.3 .5-1.6 .5 .3 .5-.3 .5-.9 .5 1.6 .5-.7 .5 .3 .5-.3 .4-.4 .5 2.1 .5-1.4 .5-.5 .5 .6 .5-1.4 .5 1.2 .5 1.8 .5-2.6 .5 .9 .5-1.3 .5 1 .5 .8 .5-1.6 .5 0 .5 1.6 .5-.7 .5 .3 .5-.1 .5-1.3 .5-.3 .5-.2 .5 1.8 .5-1.4 .5-.3 .5 .9 .5 .3 .5 .3 .5-1.5 .5 2.3 .5-1.7 .5 .8 .5-.1 .5-.7 .5 1 .5 0 .5 .6 .5 .6 .5 .2 .5-.9 .5-.2 .5-.8 .5-.9 .5 1.5 .5-.8 .5 .3 .5-.2 .5 .7 .5-.7 .5 2.2 .5-1.2 .5-1 .5 .6 .5 .8 .5-1.9 .5 1 .5-.5 .5 .4 .5-.4 .5 .5 .5 .2 .5 .1 .5-1.6 .5 1.7 .5-.5 .5-.5 .5 .4 .5 1.3 .5-1.3 .5-.6 .5 1.2 .5-.7 .5 .7 .5-.3 .5 .8 .5-1.5 .5 .2 .5 1.1 .5 .5 .5-1.2 .5 .8 .5-.6 .5-.3 .5-1.3 .5 2.9 .5-.7 .5-2.7 .5 2.4 .5-1.1 .5-.3 .5 .3 .5 1 .5-.6 .5-.1 .5 0 .5-.2 .5 .7 .5-1.9 .5 .5 .5 .9 .5-.8 .5 1 .5-.4 .5 .6 .5-.5 .5 .6 .5-.5 .5 .5 .5-.8 .5-1.1 .5 1.3 .5-.1 .5-.5 .5 1 .5-.5 .5 .5 .5-1.8 .5-.4 .5 .2 .5 .2 .5-2.2 .5 .4 .5-.6 .5-.1 .5 1.3 .5 .5 .5 .4 .5-.5 .5 .9 .5-.9 .5 1.9 .5-1.3 .5 .9 .5 .9 .5-.8 .5 .2 .5-.6 .5 2.3 .5-3.1 .5 .2 .5-.1 .5 1.6 .5-3.2 .5-.5 .5-.5 .5-3.4 .5 1.2 .5-1.1 .5 .7 .5 .5 .5 .2 .4 1.7 .5-.2 .5 .7 .5 1.5 .5 1 .5 .2 .5 .9 .5 .4 .5 1 .5-1.3 .5-.1 .5 .8 .5-.1 .5 .3 .5 .9 .5-1.9 .5 1.2 .5 .5 .5 0 .5-2.1 .5 .9 .5 1.3 .5-1 .5 .3 .5-.4 .5 1.1 .5-.8 .5-.4 .5 .3 .5 1 .5-.7 .5-1.6 .5-.3 .5 2.1 .5-1.8 .5 1.4 .5-.7 .5 .7 .5-.7 .5-1.3 .5 2.9 .5-1.1 .5-.1 .5 1.3 .5-.7 .5 .3 .5-.9 .5 .2 .5 .3 .5-.8 .5 1 .5-.3 .5-.5 .5-.1 .5 1 .5-.8 .5 .4 .5-.1 .5-.3 .5-2.3 .5 2.7 .5 .3 .5-1 .5-.1 .5 1.2 .5-1.6 .5 1.9 .5-.5 .5 .6 .5-1.1 .5 .1 .5 .2 .5-1.4 .5 .5 .5 1.5 .5-1.3 .5-.3 .5 1 .5 .8 .5-1.1 .5-.1 .5 .2 .5 .3 .5-1.5 .5 1.4 .5 .1 .5 .5 .5 0 .5-.3 .5 1 .5-1.5 .5-.1 .5 1.3 .5-1.1 .5-.5 .5 0 .5 .4 .5-1 .5 1.8 .5-.6 .5 .8 .5-1.8 .5 .6 .5-.3 .5 .9 .5-.1 .5 .3 .5-.1 .5-1.3 .5 1 .5-.1 .5-.1 .5 .4 .5-1.8 .5 .9 .5 .3 .5-.4 .5-.3 .5 1.6 .5 0 .5 .6 .5-2 .5-1 .5 2.2 .5-.8 .5-.5 .5 1.2 .5-.5 .5-1.2 .5 1.3 .5-1.3 .5 1.6 .5-1.3 .5-.2 .5 1.7 .5 .1 .5-.9 .5-.6 .5 1.3 .5-.4 .5 .1 .5-.5 .5-.8 .5 .8 .5 1.4 .5-1.6 .5 .5 .5 0 .5 .7 .5-.5 .5-.5 .4 1.7 .5-1.2 .5 .1 .5-.8 .5-.6 .5 1.5 .5-.6 .5 .5 .5-1.9 .5 2.9 .5-1.2 .5 .5 .5-1.3 .5 .8 .5 .1 .5 .7 .5-.3 .5-2.1 .5 1.7 .5 0 .5-.4 .5 .4 .5 .3 .5 .3 .5-1.6 .5 .2 .5 .7 .5 .5 .5-1.3 .5 .8 .5-1 .5 1 .5-.2 .5 .5 .5 .7 .5-1.6 .5 .9 .5-1.5 .5 1.4 .5 1.1 .5-2.5 .5 .8 .5-2 .5 2.7 .5 1.3 .5-2.3 .5 .9 .5 .8 .5-1.6 .5 .7 .5-.7 .5 .2 .5 .4 .5 .6 .5-.4 .5-.2 .5-.1 .5 .9 .5-.4 .5-.1 .5-1.7 .5 1.2 .5-.6 .5 2.1 .5-.8 .5 .6 .5-1.7 .5-.6 .5 .6 .5 1.1 .5-1 .5 1 .5 .5 .5-1.3 .5 1 .5-2.4 .5 .8 .5 .4 .5 .2 .5-.8 .5 .8 .5 1 .5-.1 .5-.3 .5-1 .5 1.7 .5-.6 .5-1.2 .5 1.5 .5-1 .5 .6 .5-.1 .5 .1 .5 .7 .5 .8 .5-1.6 .5-.2 .5-.2 .5 .4 .5 0 .5-1.4 .5 1 .5 1.6 .5-1.2 .5 .2 .5-1 .5 1.6 .5-1.4 .5-.9 .5-.7 .5 .4 .5 .3 .5-2.6 .5-1.2 .5-2.1 .5 1.3 .5-2.1 .5 0 .5 .1 .5 1 .5 2.3 .5-.2 .5 1.7 .5 .1 .5 .8 .5 1.3 .5 .3 .5-1.1 .5 1 .5-.6 .5 1.3 .5-.9 .5-.2 .5 1.4 .5-1 .5 .5 .5 .5 .5-.9 .5 .1 .5 .7 .5 1.3 .5-1.3 .5 .1 .5-.5 .5-.1 .5 1.2 .5-1.7 .5 0 .5 1.6 .5-1.8 .5-.4 .4 1.2 .5 .3 .5 .4 .5 .1 .5-3.7 .5 1.1 .5-.7 .5-.2 .5-1.7 .5 0 .5-.4 .5-.3 .5-.6 .5 1.4 .5-.1 .5 .8 .5 1.2 .5 1.3 .5-1.6 .5 1.8 .5 1.4 .5-.8 .5-.4 .5 .7 .5 1.1 .5-1.3 .5-.3 .5 1.1 .5-.7 .5-.3 .5 1.1 .5-1.2 .5 .4 .5 1.3 .5-.9 .5 .8 .5-2.3 .5 .2 .5 .6 .5 .5 .5-1.3 .5 1.6 .5-.6 .5 0 .5 .4 .5-.2 .5-.7 .5 .8 .5-.8 .5 1.9 .5-1.3 .5 .1 .5-.3 .5 .6 .5 .1 .5-.2 .5-.7 .5 1.6 .5-.9 .5-1.4 .5-.2 .5 .8 .5 0 .5-.4 .5 .5 .5 1 .5 .7 .5-.8 .5 .1 .5 .6 .5 .8 .5-.8 .5-.4 .5-.5 .5-.7 .5 1.1 .5 .6 .5-.7 .5-.6 .5 .8 .5-.5 .5-.4 .5-1 .5 1.9 .5-.9 .5 1.4 .5-1.4 .5 .6 .5-.5 .5 1.7 .5-.3 .5-1 .5 1.1 .5-2 .5 1.4 .5-.9 .5 .3 .5-.2 .5 .8 .5-1.9 .5 1.1 .5 1.3 .5-2.7 .5 1.5 .5-.8 .5-1 .5 2.3 .5-.7 .5 1.4 .5-2.4 .5 1.7 .5 .9 .5-2.6 .5 1.9 .5 0 .5-.3 .5 .9 .5-.6 .5-1 .5-.1 .5 .5 .5 1.4 .5-1.4 .5 .8 .5-.8 .5 .6 .5-.1 .5 .6 .5 .4 .5-1.8 .5-.5 .5 .9 .5 0 .5 .2 .5 .6 .5-1.1 .5 .3 .5 0 .5 .9 .5-1.2 .5 1.2 .5 .6 .5-1.7 .5 1.3 .5-.7 .5-.5 .5 1.6 .5-.6 .5-1.2 .5 .6 .5-1 .4-.5 .5 1.8 .5-.9 .5 1.1 .5-1.2 .5-.1 .5-.5 .5 0 .5-1.1 .5 .1 .5-1.4 .5-.4 .5 .1 .5 .4 .5 .4 .5 .1 .5 1.3 .5 1.3 .5-3.4 .5 3.2 .5-.1 .5-.9 .5 .8 .5-1.4 .5 1.4 .5 1.5 .5-2 .5 .5 .5 .5 .5 .5 .5-.4 .5-.5 .5 1 .5-1 .5 2.3 .5-.8 .5-.9 .5-.7 .5 .2 .5-.1 .5 .3 .5 .6 .5-1.3 .5 1.1 .5-.1 .5-.8 .5 1.7 .5-.6 .5-.1 .5-.7 .5-.1 .5 .6 .5-1.1 .5 1.4 .5-1.2 .5 .9 .5 .5 .5-.7 .5-.3 .5-.1 .5 .7 .5-1 .5 .8 .5 .8 .5-2.1 .5 .8 .5 .8 .5-1.1 .5 .1 .5-.2 .5 1.6 .5-2.2 .5 1.5 .5-.1 .5 .2 .5-.6 .5 .6 .5-.4 .5-.3 .5 2.6 .5-1.2 .5-1.6 .5 .3 .5 .9 .5 .7 .5-1.2 .5 .7 .5-.4 .5 .8 .5-1.3 .5-.2 .5 .8 .5 0 .5-.2 .5 .9 .5-.4 .5-.4 .5-1 .5 1.4 .5 .1 .5-1.1 .5 .4 .5-.7 .5 .9 .5-.3 .5-1.1 .5 1.3 .5-.3 .5 0 .5 1.1 .5-.4 .5 .3 .5-.9 .5 1.2 .5-1.6 .5 1.2 .5-1.7 .5 1.3 .5-1 .5-.3 .5 1.6 .5-.3 .5 .2 .5-.4 .5 .2 .5-.2 .5-.1 .5 .2 .5 1.7 .5-2.5 .5-.4 .5 .4 .5 .2 .5 .9 .5 .5 .5 0 .5-1 .5 .7 .5 .9 .5-1 .5 .6 .5-1.8 .5 1.4 .5 0 .5-1.5 .5 .9 .5 .4 .5-1.1 .5 1.4 .5 0 .5-.5 .4-.3 .5-.1 .5 .5 .5 .5 .5-1.8 .5 1.1 .5 .1 .5-.9 .5-.3 .5 .8 .5-1.1 .5 1.4 .5-.3 .5-.7 .5 .9 .5-.7 .5 .1 .5 1.4 .5-1.4 .5-1.4 .5 2.2 .5-1 .5 .1 .5 1.8 .5-1.2 .5 .7 .5-1.7 .5 .3 .5 .1 .5 1.2 .5-1.1 .5-.9 .5 2 .5-1 .5 .5 .5 .5 .5 1.1 .5-1.7 .5 1.2 .5-2.2 .5 1.2 .5 .1 .5-1.9 .5 .9 .5 .2 .5 .9 .5-.7 .5 0 .5-.2 .5 .9 .5-.4 .5 0 .5-.1 .5 .7 .5-1.1 .5 .5 .5 .1 .5 .3 .5 .4 .5-.5 .5-1.2 .5 1.7 .5 .2 .5 .1 .5-.3 .5-1.9 .5 1.1 .5 .7 .5 0 .5-.6 .5 .1 .5-.9 .5 1.1 .5-1.8 .5 1.4 .5 .9 .5-1.7 .5 1.9 .5 .5 .5-1.1 .5-.7 .5 0 .5-.6 .5 1.5 .5-1.4 .5 1 .5-1 .5 1.3 .5-1.5 .5 1 .5-.5 .5 1.3 .5-1 .5 .1 .5 1 .5-1.7 .5-.1 .5 .9 .5-.7 .5 2 .5-1.1 .5 0 .5-.4 .5-2.1 .5 3.3 .5-1 .5-1.5 .5 .7 .5 .8 .5 1 .5-.7 .5 0 .5 0 .5-.9 .5 .1 .5 .6 .5-1.1 .5 1.1 .5 .4 .5-2.2 .5 1.6 .5-.1 .5 .3 .5 1.3 .5-2.4 .5 2.5 .5-.9 .5 1.3 .5-2.1 .5 .5 .5-.3 .5 .4 .5-1 .5 .1 .5 .4 .5 .6 .5-1.4 .5 .7 .5-.2 .5 .7 .5 .4 .5-1.8 .5 .4 .5 .5 .5-.5 .5 1.8 .5 .2 .5-.7 .5-.2 .5-1.2 .5 .1 .4 1.1 .5 .8 .5-1.4 .5 .5 .5 1 .5 0 .5-2 .5 .9 .5 .4 .5-1.8 .5 .9 .5 .5 .5-.6 .5 .8 .5-.7 .5-1 .5 .4 .5-.7 .5 .6 .5 1.5 .5-.3 .5 .2 .5 .6 .5-1.9 .5 .5 .5 .5 .5 1.2 .5-1.1 .5-.3 .5 .3 .5-.9 .5-.8 .5 1.9 .5-.7 .5 .6 .5-1.2 .5 .2 .5 1.3 .5-.4 .5 .5 .5-1.2 .5 .6 .5 .4 .5 .2 .5-.7 .5 .2 .5-.3 .5 0 .5 .1 .5 .4 .5-1.4 .5 1 .5-.8 .5 .8 .5-.2 .5 .3 .5-.3 .5 .1 .5-1 .5 2.1 .5-2.1 .5-.4 .5 1.7 .5 .2 .5-.5 .5-.2 .5-.6 .5 2.3 .5-2.7 .5 3 .5-2.9 .5 .4 .5 .6 .5-.2 .5 .7 .5-1 .5 .4 .5-.9 .5 2 .5-1.1 .5-.3 .5 .6 .5 .6 .5-.4 .5-.8 .5 .7 .5 .1 .5 .1 .5-.6 .5 .8 .5-1.3 .5 .9 .5-.7 .5 .6 .5-.5 .5 1 .5-.8 .5 1.2 .5-1.6 .5 1.4 .5-1.4 .5-1.2 .5 1.1 .5 1.4 .5-.5 .5 .2 .5-.7 .5 .6 .5-1.1 .5 2.1 .5-.2 .5-.9 .5-.8 .5-.1 .5 .9 .5-.3 .5-1 .5 1.1 .5-.1 .5-.4 .5-.3 .5-.3 .5-.3 .5-.4 .5-.4 .5 1.4 .5-2.1 .5 1.3 .5 .7 .5 1.2 .5-1.8 .5 1.5 .5 .1 .5 0 .5 .8 .5-2.5 .5 2.1 .5-.7 .5 .4 .5-.3 .5-.5 .5-.7 .5 1.7 .5-.5 .5-.8 .5 .9 .5-.7 .5 .2 .5 .8 .5 .5 .5-2.1 .4 1.4 .5 .5 .5-1.4 .5 .7 .5 .5 .5 .5 .5-1.6 .5-.3 .5 .7 .5 .1 .5 .4 .5 0 .5-1.5 .5 2 .5-1.8 .5 1.6 .5 .1 .5-.1 .5-.1 .5 .1 .5-.9 .5 0 .5 2.2 .5-.4 .5-.2 .5-.4 .5-1.8 .5 2.6 .5-1.6 .5 .2 .5 .6 .5-1.1 .5 1.5 .5-2.8 .5 2.7 .5-.5 .5-1 .5 1.3 .5 .2 .5-.3 .5 .1 .5-.9 .5 1 .5 0 .5 .2 .5-.5 .5-1.7 .5 1.6 .5-1.4 .5 .4 .5 .5 .5 .2 .5-.3 .5 .4 .5 .2 .5-.3 .5-.1 .5 .2 .5 .3 .5-1.2 .5-.5 .5 2 .5-.7 .5-1.9 .5 2.6 .5 0 .5-2.2 .5 .5 .5 .5 .5-.6 .5 .5 .5 .4 .5 .8 .5-2.6 .5 1.9 .5 .8 .5-2.7 .5 2.1 .5-.3 .5-.4 .5 1 .5 .5 .5-.2 .5 .7 .5-2.1 .5-1 .5 1.2 .5 .5 .5 .8 .5-.5 .5-.9 .5 1.5 .5-.7 .5-.1 .5-.4 .5 .5 .5 .1 .5-.4 .5-1.8 .5 1.1 .5 1 .5 .9 .5-.3 .5-.1 .5 .5 .5-.8 .5 .5 .5-.2 .5-.6 .5-.9 .5-.5 .5 1.5 .5-1.2 .5 .8 .5 .7 .5-1.1 .5 1.2 .5-.7 .5-.7 .5 1.1 .5 .1 .5-.9 .5 .7 .5-1.2 .5 .9 .5 .2 .5-1.1 .5 .9 .5 1 .5-1.7 .5-.4 .5-.3 .5 .4 .5-.4 .5-.6 .5 1.2 .5-.1 .5-1.2 .5 .5 .5 .4 .5-.7 .5-.3 .5 .3 .5-.9 .5 1.4 .5 1 .5-1.7 .5-.6 .5 1.1 .5 0 .5 1.1 .4 1 .5-.4 .5 1 .5-.9 .5-.3 .5-1.5 .5 1.8 .5-.7 .5 .1 .5 .2 .5 1.5 .5-.6 .5-.6 .5-1.1 .5 .7 .5 .2 .5 .8 .5-.2 .5 0 .5-1.1 .5 1.4 .5 1.4 .5-3.2 .5 .3 .5 .8 .5 .7 .5-.5 .5-.1 .5 1 .5-1.9 .5-.8 .5 .4 .5 1.8 .5 .1 .5-1 .5-.8 .5 .4 .5 1 .5 .4 .5-1.2 .5-.2 .5-.1 .5 .3 .5 .9 .5-.3 .5 .1 .5-.2 .5 0 .5-1.1 .5 .2 .5 1 .5 .1 .5 .5 .5-.9 .5-.7 .5 .5 .5-.1 .5 .6 .5-.6 .5 .4 .5-.1 .5-.1 .5-.1 .5-1.3 .5 1.4 .5 .3 .5-.8 .5 .4 .5-1 .5-.9 .5 .8 .5-.4 .5 .1 .5 1.4 .5-1.7 .5 1.8 .5-1.1 .5-.8 .5 2.1 .5-.4 .5 .2 .5 .2 .5 .7 .5-.5 .5-.4 .5 .2 .5 .4 .5-.7 .5 .7 .5-1.8 .5 1.5 .5 .1 .5 .5 .5-1.3 .5 .7 .5 .5 .5 1.8 .5-2 .5 .3 .5-.9 .5 2.1 .5-1.8 .5 0 .5 .3 .5-1.1 .5 .2 .5 .5 .5-.4 .5 1.4 .5-1.1 .5 2 .5-1.5 .5-.7 .5 .7 .5 .4 .5-.6 .5 .4 .5-.5 .5-.5 .5 .5 .5 1.4 .5-1.6 .5 .3 .5-1.1 .5 .6 .5 .7 .5-.5 .5 1.1 .5-.1 .5-1.1 .5 .3 .5 .6 .5-.3 .5-.5 .5-1.1 .5 2.4 .5-1.1 .5 .1 .5-.6 .5 1.6 .5-1.2 .5 .2 .5-1.7 .5 1.2 .5 .2 .5 .3 .5 .2 .5-.8 .5 .8 .5-.9 .5-.2 .4 0 .5-1.4 .5-.6 .5 2.8 .5-2.8 .5 .6 .5 .8 .5-1 .5 1.3 .5-2.2 .5 1.7 .5 .6 .5 1.3 .5-.3 .5-1.5 .5 1.4 .5-.3 .5-1 .5 .6 .5 1.2 .5-.9 .5-.4 .5 .3 .5-.5 .5-.2 .5 1.5 .5 .1 .5 .4 .5-1.9 .5 .3 .5 1.2 .5-.2 .5-.2 .5-.8 .5 .7 .5-.8 .5 2.1 .5-.6 .5-1.2 .5 1.6 .5-1.6 .5 1.1 .5-.3 .5-.4 .5 1.3 .5-2.2 .5 1 .5 0 .5-1.1 .5 .2 .5 1.2 .5 .1 .5-.9 .5 1.1 .5 0 .5 .2 .5-.7 .5 .1 .5 .5 .5-.9 .5-.2 .5-.2 .5 1.2 .5 .6 .5-2.3 .5 1.2 .5 .7 .5 .6 .5-.9 .5-.8 .5 1.1 .5 1.2 .5-1.4 .5 .3 .5 .7 .5-2.3 .5 1.7 .5 .5 .5-.4 .5-.6 .5-.4 .5-.1 .5-.5 .5 .5 .5-.5 .5 .8 .5 0 .5-.3 .5 .1 .5 .4 .5-1 .5 1.4 .5-.4 .5 .3 .5-.6 .5 .1 .5 .2 .5 0 .5-.4 .5 .1 .5-.2 .5 .2 .5-.3 .5-.1 .5-.1 .5 1.7 .5-1.5 .5 .5 .5-.7 .5 .8 .5 .8 .5-1.4 .5 .6 .5-.1 .5 .7 .5-.7 .5 0 .5-.1 .5-1.3 .5 2.2 .5 .4 .5-1.8 .5 1.3 .5-.6 .5 1 .5-1.4 .5 .7 .5 .6 .5-.5 .5-.3 .5-.1 .5-.4 .5 .5 .5-.8 .5 1.9 .5-.8 .5-.5 .5-1 .5 1.9 .5 .2"/>
<path stroke="#ff0000" d="M281.0 1284.8l.5 .3 .5 0 .5-.6 .5-.2 .5 .2 .5 .8 .5-1.3 .5-.7 .5 1.2 .5 0 .5-.2 .5 .2 .5-1 .5 .2 .5 .4 .5 .2 .5 .4 .5 .1 .5-.4 .5-.2 .5-.6 .5 .3 .5-.8 .5 .6 .5 .8 .5 .1 .5-1.1 .5 1.5 .5-2.5 .5 2 .5-.4 .5-.1 .5 .4 .5-.6 .5 1.9 .5-1.9 .5 0 .5 .5 .5-1.6 .5 1.3 .5-1 .5 2 .5-1.3 .5 .2 .5-1.1 .5 2.5 .5-2.5 .5 .1 .5 .5 .5-1 .5 .6 .5 .6 .5 1.1 .5 0 .5-1.6 .5 .4 .5 .9 .5 .3 .5-1.4 .5 .4 .5 .2 .5 .1 .5-.3 .5 1.4 .5-1.4 .5 1 .5-.5 .5 2.1 .5-1.4 .5-2.4 .5 1.8 .5-1.9 .5 2.4 .5-1.2 .5-1.3 .4 .8 .5 .4 .5 1.3 .5-.9 .5 .2 .5-.8 .5 .1 .5-.7 .5 .7 .5 .1 .5 .2 .5-.6 .5 .4 .5-.1 .5 .4 .5-.6 .5 0 .5-.2 .5 .2 .5 .3 .5-.5 .5 1.7 .5-.2 .5-.4 .5 .3 .5-1.4 .5 .4 .5 .2 .5 .5 .5 .4 .5 .1 .5-1.6 .5 1 .5 .9 .5-1 .5 .5 .5-1.5 .5 1.3 .5-.2 .5-1.3 .5 2 .5 .4 .5-.4 .5-.8 .5 .1 .5-.4 .5 .9 .5-.1 .5 .7 .5-1.1 .5 .7 .5-.9 .5-.4 .5 .4 .5-.8 .5-.2 .5 .9 .5-.2 .5-1.4 .5-.4 .5 .3 .5-.7 .5 .8 .5-1.1 .5-1 .5 0 .5 .6 .5 .8 .5-1.5 .5-1.7 .5 0 .5 .4 .5-.5 .5 0 .5 1.1 .5-2.4 .5-.1 .5 .4 .5-.3 .5-.6 .5-1.6 .5-3.7 .5-4.4 .5-7.7 .5-6.8 .2-4.8 .1-.8 .1-1.1 .1-.7 .1-2.6 .1-1.9 .1-1.6 .1-.2 .1-4.3 .1-.9 .1-2.5 0-1.5 .1-3.2 .1-3.5 .1-2.2 .1-3 .1-4.7 .1-4.7 .1-3.8 .1-4.2 .1-6.6 .1-5.5 .1-5.6 .1-6.9 .1-4.6 0-7.8 .1-7.5 .1-6.4 .1-8.2 .1-11.8 .1-10 .1-11.7 .1-15.9 .1-13.1 .1-15 .1-10.5 .1-12.7 .1-9.7 .1-16 0-30.4 .1-35.1 .1-27.2 .1-28 .1-23.4 .1-14.9 .1-13.5 .1-14.3 .1-21.2 .1-33.7 .1-28.9 .1-19.4 .1-13.1 .1-8.3 0-4.4 .1-1.7 .1-1 .1-3.2 .1 .5 .1-.6 .1-.7 .1-.5 .1-.6 .1 3.4 .1 9 .1 14.1 .1 22.2 .1 22.8 .1 28 0 28.6 .1 26.7 .1 25.1 .1 25.6 .1 22.3 .1 23.5 .1 19.6 .1 26.4 .1 27.1 .1 31.5 .1 29.3 .1 22.3 .1 14.6 .1 13.4 0 9.6 .1 9.8 .1 13.4 .1 17.5 .1 17.4 .1 15.6 .1 15.2 .1 14.6 .1 7.6 .1 5.4 .1 3.8 .1 3.7 .1 .1 .1 3.6 0 1.4 .1 1.2 .1 2.3 .1 .2 .1 1 .1 .5 .1 .2 .1 1.8 .1 2.3 .1 .7 .1-1.3 .1 1 .1 1.5 .1-1.4 0 .9 .1-.3 .1 2.6 .1-1.3 .1 .6 .1 .6 .1-.3 .1 2.9 .1-.8 .1 1 .1-2.9 .1 2.4 .1-.5 .1-.5 0 1.1 .1 1.3 .1-.2 .1-1.1 .1 3.1 .1-1.6 .1-1.3 .1 .1 .1 .2 .1 .6 .1-.2 .1 0 .1 1.3 .1-1.1 0 .6 .5 0 .5 .7 .5 1.5 .5-.6 .5 .7 .5-.5 .5 .9 .5-.9 .5 .9 .5-1.9 .5 1.8 .5-.6 .5-1.1 .5 .1 .5-1.1 .5 1.3 .5 .2 .5-.6 .5 1.1 .5-2.5 .5 1.4 .5-.8 .5 .5 .5 1.1 .5-.7 .5 1.2 .5-1.4 .5-.2 .5 .3 .5-.9 .5 .5 .5 .7 .5 .7 .5-1.4 .5 .1 .5-.5 .5 .1 .5 1.1 .5 .1 .5 .2 .5-.4 .5 1 .5-2.1 .5 1.3 .5 .6 .5-.8 .5 .6 .5-.5 .5-.1 .5 .4 .5-.6 .5 .5 .5 .4 .5-1.2 .5 1.3 .5 .4 .5 .3 .5-1.4 .5 1.1 .5-2.3 .5 .4 .5 1 .5-.8 .5 .1 .5-.1 .5 .5 .5-.2 .5-.2 .5 .6 .5-.3 .5 .4 .5 .2 .5 .2 .5-.6 .5-.1 .4 0 .5-.5 .5 1.1 .5-.4 .5 .8 .5-.5 .5-.6 .5 1 .5-.8 .5 .1 .5 .4 .5-.2 .5-.7 .5 1.1 .5-.2 .5-.3 .5-.2 .5 .3 .5-1.2 .5 2 .5-2.8 .5 1.1 .5 0 .5 1 .5-.2 .5 .2 .5-1.1 .5 1.7 .5-.2 .5-2.2 .5 1.7 .5-1.6 .5 1 .5 .8 .5-.3 .5-1 .5 .5 .5 1.2 .5-.6 .5 .4 .5-1.8 .5 1.6 .5-.2 .5-.9 .5 1.8 .5-1.1 .5 .7 .5-1 .5 .6 .5 .1 .5-.4 .5 .1 .5 .2 .5-.3 .5-.9 .5 1.2 .5-.3 .5 .2 .5-.7 .5 1.7 .5-.5 .5 .4 .5 .3 .5-.6 .5-.9 .5-.8 .5 1.8 .5-.6 .5 .4 .5 .3 .5-1 .5-.6 .5 1 .5-.6 .5-.3 .5 .9 .5-.5 .5 .5 .5-1.1 .5 .7 .5-.1 .5 .2 .5-.5 .5 1 .5-1.6 .5 1.4 .5 .5 .5-.8 .5 0 .5-.6 .5 .8 .5 .1 .5-.2 .5 .1 .5 .2 .5-.3 .5-1.4 .5 .5 .5 .7 .5 1.6 .5-.7 .5-.8 .5-.2 .5-.1 .5 .7 .5-.6 .5 .2 .5-.6 .5 .3 .5-.4 .5 .1 .5 .3 .5 1.1 .5-.6 .5 .5 .5-1 .5 .5 .5-.6 .5 .2 .5 .1 .5-1.1 .5 1.2 .5-.9 .5 1.2 .5-.8 .5-.6 .5 .2 .5 .2 .5 1.7 .5-1.9 .5 .6 .5 .4 .5-.2 .5 0 .5 .6 .5-1 .5 1.7 .5-.3 .5-.8 .5 .8 .5-.8 .5-.4 .5-.6 .5 .4 .5 .9 .5-.2 .5 .9 .5 0 .5-.5 .5-.5 .5 1.1 .4-1.2 .5-1.7 .5 1.5 .5 .5 .5 .1 .5 0 .5 .1 .5-2.4 .5 3.5 .5-1.2 .5-.4 .5-1.4 .5 2 .5-1.4 .5-.6 .5 1.8 .5 0 .5-.5 .5-.6 .5 1 .5-.3 .5 .2 .5 .1 .5-1.4 .5 1.4 .5-1.2 .5 1.2 .5-.6 .5-.1 .5 1.5 .5-1 .5 0 .5 .4 .5 1 .5-3.6 .5 2.4 .5-.3 .5 .8 .5-.8 .5-.1 .5 .5 .5-.4 .5-.6 .5 .6 .5 1.3 .5-.9 .5-2.1 .5 1.6 .5-.6 .5 1.4 .5-1.5 .5 .7 .5 .5 .5 .2 .5-1 .5 .6 .5 1.4 .5-2.1 .5 .5 .5-.6 .5 .5 .5 .5 .5-.4 .5 .5 .5-1.4 .5 1 .5-.3 .5-1.9 .5 2.9 .5-.7 .5-.5 .5 1.2 .5-.4 .5-2.1 .5 2.1 .5 1.4 .5-1.5 .5 .3 .5-1.8 .5 .1 .5 .1 .5 1.8 .5-.1 .5-2.5 .5 2.5 .5-2.2 .5 .5 .5 1 .5-.5 .5 .5 .5 .2 .5 .7 .5-1.2 .5-.2 .5 0 .5 2.3 .5-.9 .5 0 .5-.4 .5-.3 .5 .9 .5-1.1 .5-1.1 .5 0 .5 3 .5-2.6 .5 .2 .5 .4 .5 .9 .5-1.6 .5 .7 .5 .4 .5-1.2 .5 1 .5 .8 .5-.7 .5-.1 .5 .3 .5-.4 .5-.3 .5-.1 .5 1.1 .5-1.9 .5 .3 .5 1.5 .5 .3 .5-.8 .5-.7 .5-.6 .5 1.7 .5-.3 .5 .1 .5 0 .5-1.1 .5 .2 .5 .5 .5 0 .5-1.1 .5 .3 .5 .7 .5 1.2 .5 .8 .5-1.6 .5-.5 .5 .5 .5-.2 .5-.7 .5-1.8 .5 2.6 .5-.6 .5 .4 .4-.7 .5 .5 .5 .4 .5-1.1 .5 .5 .5 1 .5 .1 .5-1.9 .5 1.9 .5 .4 .5-.7 .5 .1 .5-.3 .5 .2 .5-.6 .5 1.3 .5-1 .5-1.1 .5 1.5 .5 .3 .5-.4 .5-1 .5 1.2 .5-2.6 .5 3.4 .5-.9 .5-1.7 .5-.2 .5 3.3 .5-1.6 .5-.7 .5 .8 .5-.4 .5 0 .5 .4 .5-.1 .5-1 .5 1.1 .5-.1 .5-.9 .5 1.4 .5-.3 .5-1.1 .5 2.1 .5-.9 .5 .6 .5-1.6 .5 .2 .5 .4 .5-.5 .5 .3 .5-.9 .5 2.6 .5-1.2 .5 .6 .5 .4 .5-1.4 .5 1.6 .5-3.3 .5 1.5 .5-.2 .5 .4 .5-.8 .5 1.5 .5 .8 .5-1.3 .5 .3 .5-2.1 .5 1.1 .5 .8 .5-.8 .5 .8 .5-.6 .5 .6 .5-1.3 .5 1.4 .5 .7 .5-.5 .5 1.1 .5-1.7 .5 .7 .5-1.6 .5 1.7 .5-.4 .5-.5 .5 1 .5-1.7 .5 .7 .5 .4 .5-1 .5 0 .5 1.5 .5-1 .5-.5 .5 .4 .5-.1 .5-.1 .5 .8 .5-1 .5-.3 .5 1.1 .5-.1 .5 1 .5-1.9 .5 .5 .5 1.2 .5-.5 .5-.7 .5-.2 .5 1.2 .5-.6 .5-.6 .5 .3 .5 0 .5 1 .5-2.6 .5 1.5 .5 1.4 .5-2.2 .5 1 .5 .9 .5-1.6 .5 .5 .5-.2 .5 .8 .5-.7 .5-.3 .5 .9 .5 .1 .5 .7 .5-1.2 .5 .2 .5-.3 .5 1.3 .5 0 .5-1.5 .5-1 .5 3.1 .5-2.9 .5 .1 .5 .9 .5 1.8 .5-.5 .5-1.1 .5 .7 .5-.6 .5 1 .5-1.2 .5 1.5 .5-.7 .5-.9 .4-.9 .5 2.2 .5-.5 .5-1.1 .5 .1 .5 .3 .5 .1 .5 .1 .5 .1 .5 0 .5-.4 .5 1.9 .5-1.7 .5-.3 .5 .9 .5-1 .5 .9 .5-.2 .5 .7 .5-1.5 .5-.7 .5 2.3 .5-1 .5 1.4 .5-.7 .5-.9 .5 .6 .5-1.1 .5 .1 .5 .7 .5 .1 .5-1.3 .5 1.8 .5-.2 .5 .4 .5-1.8 .5 1.5 .5-.9 .5 .1 .5 1.1 .5-.7 .5 .4 .5 .2 .5 .2 .5-1.5 .5 0 .5 .9 .5 .2 .5-.9 .5 .8 .5-.9 .5 .4 .5 .1 .5 .3 .5 .3 .5-.7 .5 .4 .5-.8 .5 1.2 .5-.1 .5-.8 .5 1.8 .5-1.5 .5-.1 .5-.1 .5 .6 .5-.2 .5-.5 .5 .8 .5 .4 .5 .3 .5-.6 .5-.6 .5-.4 .5 1 .5 .5 .5 .7 .5-1.8 .5-.6 .5 .1 .5 1 .5 .2 .5-1 .5-.4 .5-.5 .5 1.9 .5-1.6 .5 1.5 .5-.6 .5-1.3 .5 .6 .5 1.5 .5-.7 .5-.2 .5 1.1 .5-.9 .5 .1 .5 0 .5 0 .5 .7 .5-1.2 .5 1.2 .5 .3 .5-1.5 .5 .7 .5-1.1 .5 .9 .5 .8 .5-.2 .5-1 .5 .7 .5 0 .5-.3 .5 0 .5 1.3 .5-3.3 .5 1.5 .5 1 .5-.7 .5 .4 .5-.1 .5-.4 .5 .2 .5-.5 .5 .5 .5 .6 .5 .1 .5-.3 .5-.6 .5-.1 .5-.9 .5 1.1 .5-.6 .5 .2 .5 .2 .5 .3 .5 .1 .5-.1 .5-.8 .5 .5 .5 .8 .5-.6 .5 .4 .5-.3 .5 1.1 .5 .1 .5 .7 .5-2.2 .5 .9 .5-1.5 .5 1.4 .4-.2 .5-.6 .5 1.4 .5-1 .5-1.2 .5 2.2 .5-1 .5 .5 .5-1 .5-.1 .5-.3 .5 .1 .5 1.3 .5-.2 .5-1.6 .5 1.2 .5 0 .5-.5 .5 .7 .5-.8 .5 1.3 .5-.9 .5 .3 .5-2.6 .5 2.1 .5 .4 .5-.5 .5 .3 .5-.6 .5 1.3 .5-1.3 .5 .5 .5 1.2 .5-.2 .5-.8 .5-.9 .5-.5 .5 1.7 .5-.2 .5-.3 .5 0 .5 1.7 .5-.9 .5-.6 .5-.2 .5 0 .5 .4 .5-.4 .5 .3 .5-.4 .5 .9 .5-.4 .5-1 .5 2.9 .5-1.9 .5-.5 .5-.6 .5 1 .5-.5 .5 1.7 .5-.9 .5-.8 .5-.9 .5 1.9 .5-1.8 .5 1.6 .5-.3 .5-2.1 .5 1.8 .5 1.4 .5-1.8 .5-1 .5 .4 .5 1.2 .5 .2 .5 .4 .5-.4 .5-.9 .5 .4 .5 .1 .5 .1 .5-.8 .5 1.4 .5 .3 .5-.9 .5 .2 .5-1 .5 1.1 .5-.8 .5 0 .5 1.2 .5-.5 .5-.4 .5-.9 .5 1.2 .5 1.2 .5-.9 .5-.1 .5 .7 .5 .7 .5-1.1 .5 .3 .5-.6 .5 .2 .5 0 .5 .5 .5-1.2 .5 .6 .5 0 .5-.3 .5-.4 .5 1.1 .5-.9 .5-.9 .5 1.7 .5-1.6 .5 1.6 .5-2.4 .5 1.9 .5 1.3 .5-1.5 .5 1 .5-1.1 .5-.3 .5 .4 .5 .9 .5 .2 .5 .1 .5-.4 .5-.7 .5-1.4 .5 .9 .5 1.6 .5-2.3 .5 1.6 .5-.1 .5-1.6 .5 1.5 .5-.5 .5 .4 .5-.2 .5-.1 .5-.6 .5-.8 .5 2.8 .5-2 .5 .4 .5-.1 .5 0 .5-.4 .5 1 .4-.5 .5-.4 .5-.2 .5 .7 .5-1.1 .5 .9 .5 .4 .5-.5 .5-.7 .5-2.3 .5 .9 .5-1.6 .5-1 .5-3.9 .5-2.7 .5-.6 .5-1.7 .5 3.5 .5 2.1 .5 .4 .5 3.3 .5 1.3 .5 .2 .5 .2 .5 1.8 .5-.5 .5 .4 .5 0 .5 .6 .5 .6 .5 .3 .5-.1 .5-.6 .5 .1 .5 .6 .5 .5 .5-1 .5-.9 .5 1.2 .5 .3 .5-.9 .5 1.2 .5-1.2 .5 .3 .5 .2 .5 .9 .5-2.2 .5 1.2 .5 .1 .5-.9 .5 .7 .5-1.5 .5-.7 .5-.4 .5-.2 .5-1.2 .5-.2 .5-2.5 .5-4.3 .5-2.2 .5-6.4 .5-5.8 .5-.4 .5 5.5 .5 6.3 .5 3.4 .5 4.3 .5 2.8 .5 .7 .5 .2 .5-.1 .5 .9 .5 1.8 .5-.7 .5-.6 .5 .6 .5 .2 .5 1.1 .5-1.2 .5 1.9 .5-1.1 .5 .1 .5-1.1 .5 1.2 .5-.1 .5 .3 .5-1.2 .5 .7 .5-1.5 .5 .1 .5 2.1 .5-2.7 .5-.9 .5 .6 .5-1.4 .5 2.1 .5-1.4 .5 1.2 .5 0 .5 1.6 .5-.3 .5 2.3 .5-2.4 .5 1 .5 .3 .5-1.4 .5 .5 .5-.1 .5-.7 .5 1.6 .5-2.4 .5 1.2 .5 .1 .5 1.1 .5-.3 .5 .9 .5 .1 .5-.8 .5-.8 .5 1.3 .5-1.1 .5 .3 .5 .3 .5 1.1 .5 .9 .5-1.1 .5-1.3 .5 1.1 .5 .3 .5-1.6 .5 .7 .5-.6 .5 .1 .5 .5 .5 0 .5-.7 .5 .6 .5-.9 .5 .8 .5 .2 .5-.4 .5-.8 .5 .6 .5 .8 .5 .5 .5 0 .5 0 .5 .6 .5-1.7 .5 1.2 .5-1.5 .4 2 .5-.6 .5-1.5 .5 1.3 .5 .2 .5-1.4 .5 .9 .5 .4 .5 .8 .5-1.9 .5 1.6 .5-1.9 .5 .1 .5 1.7 .5-.5 .5-1.1 .5 1.7 .5-.8 .5-.2 .5-.3 .5-1.8 .5 2 .5 .7 .5-.8 .5 .6 .5-.6 .5 1.1 .5-3.2 .5 2.5 .5-1 .5 .8 .5 .4 .5 .3 .5-.2 .5 .3 .5-1.7 .5 .9 .5-1.8 .5 1.9 .5-1.5 .5 2.1 .5-.7 .5-.3 .5-.3 .5 .6 .5-.6 .5-.6 .5 1.4 .5-1 .5 1 .5-1.1 .5-.2 .5 2.6 .5-1.2 .5 .5 .5-1.1 .5 .1 .5 0 .5 1.5 .5-.9 .5-.5 .5-.1 .5 .1 .5 .8 .5-.8 .5 0 .5 1 .5-.3 .5-.1 .5 .9 .5-1.6 .5-.8 .5-.3 .5 1.1 .5 .3 .5 .5 .5-1.8 .5 .1 .5 .8 .5 0 .5-.9 .5 .9 .5 .7 .5-.7 .5 1.9 .5-1.2 .5-1.2 .5 .5 .5-.9 .5 2.7 .5-1.9 .5 0 .5 .8 .5-.8 .5-.3 .5 .5 .5 .8 .5 0 .5-1.8 .5-.2 .5 1.6 .5-.6 .5-.1 .5 1.1 .5-.4 .5-.8 .5 .9 .5-1 .5 .1 .5 1.9 .5-1.6 .5 .6 .5-.7 .5 0 .5-.6 .5 0 .5 1.8 .5 .7 .5-1.1 .5-.1 .5-.9 .5 .4 .5 1.2 .5 .8 .5-1.4 .5-.2 .5 .5 .5-.7 .5-.7 .5-.1 .5 .5 .5-.1 .5-1.5 .5 .4 .5 2 .5 .1 .5-.1 .5-.8 .5-.3 .5 .4 .5 .3 .5-.6 .5 1.2 .5-1.4 .5-1.2 .5 2.3 .5 .2 .5-.9 .5 1 .5 .1 .5-2.9 .4 2.3 .5-1.3 .5 1.5 .5-.3 .5 .4 .5-.8 .5-.3 .5 .7 .5 1.6 .5-1.5 .5-1.1 .5 .7 .5-.1 .5 1.1 .5-.8 .5-.4 .5 .4 .5-.7 .5 .9 .5-1.2 .5 .5 .5 .5 .5-1.2 .5 0 .5 .4 .5 1.8 .5-.5 .5-.6 .5 .7 .5-.1 .5-1.1 .5-.4 .5 1.7 .5-1.4 .5 1 .5-1.7 .5 1.1 .5-.9 .5 1.5 .5 .1 .5-.3 .5 .3 .5-1.1 .5 .7 .5 .2 .5-1.2 .5 1.1 .5-.2 .5 .1 .5-.6 .5 .2 .5 .3 .5-.3 .5 .3 .5-1.5 .5 1.8 .5-1.4 .5 1.3 .5-1.9 .5 .5 .5 .6 .5 0 .5-.7 .5-.5 .5 1 .5 .1 .5-1.7 .5-.6 .5 .1 .5-.1 .5-1.9 .5-.4 .5-.1 .5-3.3 .5-3.2 .5-2.8 .5-6.4 .5-6.7 .5-6.9 .5-.9 .5 4.5 .5 6.3 .5 5.9 .5 6.6 .5 2.9 .5 3.5 .5 1.8 .5-.8 .5 .8 .5 1.8 .5 1.3 .5 .4 .5-1.5 .5 .8 .5 1.2 .5-1.5 .5 0 .5 1.8 .5-1.4 .5-.3 .5 2.2 .5-1.5 .5 0 .5 .8 .5 .8 .5-.5 .5-.4 .5 .2 .5 0 .5-.1 .5-1.5 .5 1.6 .5-1.3 .5 .5 .5 .7 .5-.2 .5 .4 .5-.3 .5 .4 .5 1 .5-2.2 .5 1.7 .5 .6 .5-1.7 .5 0 .5 .2 .5 .4 .5-.8 .5 .2 .5 .3 .5 .1 .5 1 .5-1.4 .5 1 .5-.1 .5-.4 .5 0 .5-.8 .5 .1 .5 .8 .5-.1 .5-.3 .5 1.1 .5-.8 .5-.1 .5-.1 .5 .9 .5-.4 .5-.2 .5-1.2 .5 2.3 .4-2.4 .5 1.4 .5-1.2 .5-.3 .5-1.2 .5 2.5 .5 .1 .5-.5 .5-.1 .5-.7 .5 1 .5-.2 .5-.9 .5 .8 .5 .1 .5-.6 .5 1.6 .5-1.8 .5 2.5 .5-.6 .5-1.2 .5 1.5 .5-.3 .5 .1 .5-.8 .5-.9 .5-.9 .5 1.8 .5-.3 .5-.3 .5 2 .5-1.2 .5-1.5 .5 1 .5 .5 .5-1.3 .5 1.1 .5-.4 .5-.9 .5 1.5 .5 .2 .5-2.5 .5 2.3 .5-.8 .5 .2 .5-1 .5 .5 .5 2.1 .5-.8 .5-.7 .5 .2 .5-.7 .5 .6 .5-.6 .5 .8 .5-1 .5 1 .5 .4 .5-.8 .5 .4 .5 .1 .5-.6 .5-.7 .5 1.9 .5-.8 .5-.3 .5 1.2 .5-1.6 .5 .3 .5-.2 .5-.2 .5 .7 .5-.4 .5 1.5 .5-1.5 .5 1.4 .5-1.6 .5 .4 .5 .3 .5-.7 .5 1.2 .5-1 .5 0 .5 1 .5-1.1 .5 1 .5 .4 .5-.3 .5 .5 .5-1.4 .5 1.3 .5-1.4 .5-.8 .5 1.1 .5 1.6 .5-2.2 .5 2 .5-2.4 .5 1.8 .5-.3 .5-.7 .5-1.4 .5 2.2 .5-.1 .5-.1 .5 .4 .5-1.4 .5 2.1 .5-.8 .5-1.3 .5 2.2 .5-1.7 .5 .3 .5 .2 .5-1.4 .5-.1 .5 .4 .5-1 .5 .4 .5 .7 .5-2.6 .5 .1 .5-1.5 .5-.1 .5-2.4 .5-.5 .5 .8 .5 2.4 .5-1.2 .5 .5 .5 1.5 .5 2.1 .5 .7 .5-.3 .5 .5 .5-1 .5 1.5 .5-.3 .5-.3 .5 1.3 .5 0 .5-1.1 .5 .6 .5-1.6 .5 .7 .5 1.8 .5-1.8 .5 .1 .5 1.6 .5-2.6 .4 1.2 .5 1.1 .5-.9 .5-.3 .5-.1 .5 .9 .5-.8 .5 .9 .5-.3 .5 .1 .5 .8 .5-1.1 .5-.4 .5 .7 .5 .2 .5-.3 .5-1.1 .5 1.7 .5-1.8 .5-.1 .5 2.1 .5 .5 .5-1.4 .5-.4 .5 1.7 .5-2 .5 .9 .5-.4 .5 .9 .5-.2 .5-.8 .5 1.4 .5-.3 .5-.5 .5-.2 .5 .1 .5-.8 .5 .7 .5 0 .5 .6 .5-.6 .5-.1 .5 .5 .5 .5 .5-.3 .5-.5 .5-.2 .5 1.3 .5-1 .5-.9 .5 1.1 .5-1.5 .5 .9 .5 .9 .5-.6 .5-.1 .5 .8 .5 .3 .5-1.6 .5-.1 .5 .3 .5-.3 .5 1.2 .5 .2 .5-.7 .5-.7 .5-.4 .5 1.1 .5-.5 .5 1 .5-1.3 .5 .5 .5 .1 .5 1.1 .5-.2 .5-.2 .5-.2 .5 .3 .5-1.8 .5 2 .5-.9 .5 1.3 .5-.4 .5 .2 .5-1.4 .5 2.7 .5-1.7 .5-.2 .5-.7 .5 .7 .5-1.8 .5 2.6 .5-.7 .5-.4 .5 1.1 .5-.6 .5-.1 .5-.7 .5 .6 .5-1.1 .5 0 .5 1 .5-.6 .5-.5 .5 .8 .5-1.2 .5 2.6 .5-1.9 .5 0 .5 1.8 .5-2.2 .5-.6 .5 1.7 .5-.2 .5 .9 .5-.8 .5-1.1 .5 1.3 .5-.3 .5 1.1 .5-.7 .5-.9 .5 .2 .5 .5 .5-.3 .5 .4 .5 .1 .5-1.1 .5 1.1 .5 .4 .5-1.5 .5-.2 .5 1.7 .5-.2 .5 .3 .5 .6 .5-1.4 .5-.7 .5 1 .5-.7 .5 .8 .5 .3 .5-.5 .5 .3 .5-.4 .5 .2 .5-1.1 .5 2.2 .5-1.8 .5 .2 .5-.2 .4 .3 .5-.1 .5-1.2 .5 2.7 .5-.9 .5-.5 .5 .2 .5 .8 .5-.2 .5-.4 .5 .5 .5-2.6 .5 2.5 .5-.8 .5-.4 .5-.2 .5 .8 .5-1.3 .5 1.5 .5-.8 .5 1.1 .5-1.9 .5 1.7 .5-.7 .5-.5 .5 1.8 .5-.1 .5-1.5 .5 .4 .5 1.3 .5-1 .5-.5 .5-.3 .5 .2 .5 1 .5 .2 .5-.9 .5-.5 .5 .1 .5-.7 .5 1.7 .5-.4 .5 .8 .5 .9 .5-.7 .5-1.3 .5 .1 .5-.8 .5-.6 .5 3 .5-1.2 .5-1.4 .5 1.7 .5-2.1 .5 1.4 .5 .3 .5-.6 .5 .1 .5 1 .5-1 .5 1.2 .5-2.2 .5 1.1 .5 1.6 .5-2.1 .5 0 .5 .8 .5-.4 .5 .5 .5 .6 .5-.3 .5-.3 .5-.4 .5 .4 .5 .6 .5-1.4 .5 .3 .5-.5 .5 .9 .5 .1 .5-.5 .5-.5 .5 .3 .5 1.1 .5-.9 .5 1 .5-1.1 .5-.1 .5 1.2 .5-1.2 .5 1.5 .5-2.6 .5 1.7 .5-.4 .5 .1 .5 .5 .5-1.7 .5 3.1 .5-1.9 .5 2.2 .5-1.3 .5-.4 .5-1.4 .5 2.5 .5-.8 .5 .4 .5-2.1 .5-.1 .5 1 .5 .7 .5 .2 .5 .3 .5-1.6 .5-.3 .5 1.6 .5-1.4 .5 .8 .5 1.6 .5-1.9 .5 .6 .5-.1 .5-.2 .5 .3 .5 .1 .5-.3 .5 1.1 .5-.4 .5-1.5 .5 1.8 .5-1 .5-.2 .5-.5 .5 1.2 .5-.6 .5-.6 .5 0 .5 1.5 .5-1.1 .5-.1 .5 2.3 .5-1.7 .5 .3 .5-.4 .5-.2 .5-.7 .5 1.3 .5-.3 .5-.9 .5 .6 .5 1.4 .5-1.1 .4-.2 .5-.5 .5 0 .5 .9 .5 .2 .5-.5 .5 .6 .5-1.4 .5 .4 .5 .5 .5 .6 .5-1.2 .5 1.1 .5-1.5 .5 1.6 .5 .1 .5-1.2 .5 .5 .5 .3 .5-1 .5 .2 .5 0 .5 .7 .5 .3 .5-1.4 .5 .1 .5 1.1 .5-1 .5 .3 .5 .8 .5-.6 .5 .8 .5-.7 .5-.2 .5-.5 .5-1.1 .5 1.4 .5-1.1 .5 2 .5 0 .5-.3 .5 .5 .5 .8 .5-2.9 .5 1.2 .5 .7 .5-.8 .5 .1 .5 .9 .5-.4 .5-1.4 .5 2.1 .5-1.7 .5 .8 .5 .2 .5-1.7 .5 2.6 .5-.8 .5-.2 .5 .3 .5-.8 .5 .7 .5 0 .5-2.2 .5 .8 .5 1.6 .5-1.5 .5 1.2 .5-.5 .5 .6 .5-1.8 .5 1.4 .5-.1 .5 .2 .5 0 .5-.2 .5 .3 .5 0 .5-.7 .5 1.5 .5-1.1 .5-.5 .5 1 .5-1.6 .5 1.9 .5-1.1 .5 .3 .5 0 .5 .3 .5-.8 .5 .1 .5 .6 .5-.8 .5 .5 .5-.1 .5-.2 .5-.3 .5-.1 .5 .3 .5-.6 .5 .1 .5 2.8 .5-2 .5 .7 .5-.5 .5 .3 .5-.5 .5 .6 .5-.6 .5-.1 .5-1.2 .5 1.5 .5-1.1 .5-.2 .5-.1 .5-.9 .5-1.2 .5-.2 .5-2.8 .5-1.5 .5 1.4 .5-.6 .5 2.7 .5 2.2 .5 1.1 .5-1.3 .5 1.6 .5-1 .5 1.3 .5 .9 .5-1.4 .5 1.6 .5-1 .5 1.8 .5-2.5 .5-.3 .5 1.5 .5-.6 .5-.7 .5-1.7 .5-.3 .5-1.9 .5-.2 .5-2.3 .5-2.1 .5-.1 .5 .8 .5 2.3 .5 2.2 .5 1.7 .5 1.5 .4-.5 .5 1.7 .5-2.1 .5 1.6 .5 .7 .5-.8 .5 .7 .5 .4 .5-.9 .5 .6 .5 .7 .5-1.7 .5 1.7 .5-.9 .5-.9 .5 1.3 .5 .3 .5-.6 .5 .4 .5 .1 .5-.3 .5 0 .5 .6 .5-.1 .5-.5 .5-1.4 .5 .4 .5 .7 .5 1.1 .5-.4 .5 .9 .5-.9 .5-.1 .5-.5 .5 1.1 .5-1.9 .5 1.3 .5-.4 .5-.3 .5 1.1 .5-.2 .5-.2 .5-.5 .5-.8 .5 0 .5-.8 .5 .8 .5 1.3 .5 .8 .5-1.9 .5 1.8 .5 .5 .5-.6 .5 .4 .5-1.3 .5-.3 .5 .6 .5 .5 .5-.4 .5-.2 .5 .5 .5-1.3 .5 1.3 .5-2.1 .5 2.6 .5-.1 .5 .7 .5-2.4 .5 .3 .5-.4 .5-.3 .5-.6 .5 2.3 .5-.8 .5 .1 .5-1.2 .5 1.4 .5 1.4 .5-1.4 .5 .5 .5-1.5 .5 1.7 .5-.8 .5 .1 .5 .2 .5-.5 .5 .7 .5-.6 .5-.2 .5-.5 .5-.1 .5 1.6 .5 .1 .5-.9 .5 0 .5-.3 .5 .6 .5 .9 .5-.9 .5-.6 .5 1.2 .5-.2 .5-1.9 .5 1 .5 1.3 .5-.7 .5-.3 .5 .4 .5-1.2 .5 0 .5 .8 .5 .1 .5 1.2 .5-1.3 .5 .3 .5 .9 .5-1.6 .5 .2 .5 .3 .5 .2 .5-.1 .5 .4 .5-1.5 .5 0 .5 .9 .5-1.2 .5 2.4 .5-1.8 .5 .2 .5 .9 .5-.2 .5 .2 .5-.5 .5-1 .5 .9 .5-.4 .5-.8 .5 1.1 .5 .9 .5-1.4 .5 .1 .5 0 .5 1.2 .5-2.1 .5 1.8 .5-.2 .5-.2 .5-.6 .5 .5 .5 1.6 .5-1.2 .4-.5 .5 .9 .5-1.6 .5 1.8 .5-.9 .5 2 .5-.2 .5-1.3 .5-.1 .5-.6 .5 .7 .5 .1 .5-1.5 .5-.1 .5 1.5 .5-.8 .5 .5 .5 0 .5 0 .5-.3 .5 .6 .5 .7 .5 .1 .5-1.5 .5 .4 .5-.1 .5-1.2 .5 0 .5 1.1 .5 .4 .5 .2 .5-1 .5 .9 .5-.5 .5-.3 .5 1.1 .5-2 .5-.5 .5 3.2 .5-1.5 .5 .6 .5-.6 .5-.5 .5-.3 .5-.5 .5 1.5 .5-.9 .5 .7 .5 .3 .5-.3 .5 .1 .5 1.1 .5-.9 .5-.1 .5-.3 .5 1.2 .5-.1 .5-1.4 .5 .7 .5-.4 .5-.2 .5-.3 .5 2 .5-1 .5-2 .5 2.4 .5 .6 .5-1.3 .5-.1 .5 .1 .5 .6 .5-1.1 .5 .7 .5-1.4 .5 2 .5-1.7 .5 .5 .5 .6 .5 .5 .5-1.3 .5 0 .5 1.6 .5-1.6 .5-.1 .5 .2 .5 .9 .5 0 .5 .2 .5-.4 .5-.7 .5 .7 .5 .2 .5-1.5 .5 .4 .5 .4 .5 1.2 .5-1.5 .5 .3 .5-.1 .5 .2 .5 .2 .5-1.4 .5-1.5 .5 2.6 .5-2.4 .5 1.4 .5-.5 .5-.6 .5-2.4 .5-.5 .5-1.4 .5-1.5 .5-.4 .5-1.3 .5 1.6 .5 1.8 .5 1.7 .5 2.2 .5 .8 .5 .1 .5 1.7 .5-.5 .5-1.2 .5 2 .5-1.8 .5 .1 .5 .6 .5 0 .5 .4 .5 .1 .5-.6 .5 .1 .5 1 .5-.2 .5-.4 .5-.5 .5 .7 .5-.8 .5-.2 .5 1.7 .5-.2 .5-.8 .5 1.4 .5-1.3 .5 .6 .5-.2 .5-.3 .5-.1 .5 .9 .5-.6 .5-2.3 .4 1.5 .5-2.6 .5 .3 .5 .4 .5-1.8 .5 1.2 .5-1.4 .5 1 .5 .4 .5 1 .5 1.1 .5-1.5 .5 1.5 .5 .5 .5 .9 .5-.2 .5-.5 .5-.8 .5-.1 .5 .6 .5 .8 .5 0 .5 1 .5-.8 .5 .4 .5-1.6 .5 1.2 .5-.6 .5 0 .5 1.4 .5-1 .5 0 .5 .1 .5-1.1 .5-.2 .5 2.7 .5-1.4 .5 0 .5 .1 .5-.5 .5 .2 .5-.5 .5 .9 .5-.3 .5 .9 .5 .4 .5-2 .5 1.3 .5-.8 .5 1.9 .5-1.4 .5 .5 .5-1.1 .5 1.4 .5-1.5 .5-.4 .5-.9 .5 1.8 .5-.3 .5 .4 .5-.8 .5 .7 .5 0 .5-.8 .5 2.3 .5 .2 .5-1.5 .5 .2 .5 .1 .5 .1 .5-1.2 .5 .8 .5 1.2 .5-1.5 .5-.1 .5-.4 .5 .3 .5-1.3 .5 1.6 .5 .9 .5-.6 .5-.1 .5-.1 .5 0 .5-.8 .5-.7 .5 2.9 .5-1.1 .5-2 .5 2.9 .5-1.5 .5 1 .5-.8 .5-.4 .5 1.1 .5-.9 .5-1.6 .5 2.3 .5-.5 .5 0 .5-.2 .5 .6 .5 .8 .5-.4 .5-.5 .5-.2 .5-.6 .5 1.9 .5-2.8 .5 .7 .5 .6 .5 .3 .5 .1 .5-.5 .5 1.7 .5-.5 .5-2.4 .5 .7 .5-.3 .5 2.1 .5-1.4 .5-.8 .5 .9 .5-.7 .5 1 .5 .5 .5-1.4 .5 1 .5 .1 .5-.8 .5 .9 .5-.8 .5 1 .5-.6 .5-.3 .5 1.4 .5-.3 .5-1 .5-2.1 .5 2.5 .5-.6 .5 .7 .5-.3 .5-.2 .5-.1 .5 1.3 .5 .1 .5-.2 .5-1.9 .5 .6 .5 .4 .4-1.7 .5 2.2 .5-1.7 .5 1.4 .5-1.3 .5 .5 .5-2 .5-1 .5 1 .5-.9 .5-.3 .5 .5 .5 .6 .5 .7 .5-.9 .5-.1 .5 1.5 .5-.4 .5 .1 .5 .8 .5 1.3 .5-.5 .5-1.7 .5 3.1 .5-2.5 .5 1.2 .5-.7 .5 1.4 .5-.4 .5 .6 .5-.8 .5-.2 .5 1 .5-2.4 .5 .5 .5-.1 .5 1 .5-.3 .5-.2 .5 1.2 .5-.2 .5-.7 .5-.7 .5 2.7 .5-1.4 .5-.7 .5 .6 .5 .1 .5-.7 .5 1.1 .5-.5 .5-.5 .5 1.3 .5-1.2 .5 1.3 .5-.9 .5-.3 .5 1.1 .5-1.1 .5 .7 .5 .6 .5-1.3 .5-.2 .5 1 .5 .2 .5-2.4 .5 2 .5 .5 .5-1.3 .5 1.2 .5-1 .5-.2 .5 .2 .5 .8 .5-.8 .5-.1 .5 .4 .5 .6 .5-2.2 .5 2.4 .5 .3 .5-1.9 .5 .7 .5 .4 .5-.3 .5 1.4 .5-1.3 .5-.6 .5 .2 .5 .5 .5-.8 .5 .1 .5 .1 .5 1.7 .5-.8 .5-1.4 .5 1.3 .5-2.5 .5 2.1 .5 .5 .5-.2 .5 .1 .5-.2 .5-.7 .5 .4 .5-.1 .5-.9 .5 1.2 .5-.8 .5 1.2 .5 1.3 .5-.1 .5 .4 .5-2.4 .5 0 .5 .8 .5-1.1 .5 1.1 .5-.9 .5 .7 .5-.5 .5 1.5 .5-.4 .5-.2 .5-1.6 .5 1.9 .5-1.2 .5-.8 .5 1.3 .5 .6 .5-2 .5 1.8 .5-.8 .5 0 .5 .6 .5-.7 .5-.2 .5 1.3 .5-2.7 .5 2.7 .5-1.8 .5 1.9 .5-1.8 .5 1.9 .5-2.3 .5 2.7 .5-1.3 .5-.3 .5 0 .5 1 .5-.9 .4 .6 .5-.4 .5-.9 .5 2.1 .5-1.4 .5 .3 .5 0 .5-.2 .5 1.3 .5-1 .5-.5 .5 .3 .5-.3 .5-.6 .5 1.7 .5-1.6 .5 1.7 .5-.9 .5 .6 .5-.7 .5-.2 .5 2 .5-2.1 .5-.4 .5 1.1 .5 .7 .5-2 .5 .5 .5 1.1 .5 0 .5-.2 .5-.8 .5 .5 .5-.7 .5 .9 .5-.4 .5 .2 .5-.3 .5 .7 .5-.5 .5-.6 .5 1.6 .5-.9 .5-.4 .5 .1 .5 1.3 .5-1.1 .5 .2 .5-.9 .5 .4 .5-.2 .5-.2 .5-.2 .5 .5 .5-.7 .5 1.5 .5 .1 .5-1.3 .5 1 .5-.9 .5 .8 .5 .1 .5-1.6 .5-.6 .5 2.2 .5 0 .5-.4 .5-.4 .5-.1 .5-1.4 .5 3 .5-2.8 .5 1.9 .5-.4 .5 .4 .5-1.1 .5 .3 .5 .9 .5-1.2 .5 .9 .5-1 .5 1.1 .5 .2 .5-.3 .5 .4 .5-1.3 .5 .5 .5 .1 .5 1.3 .5-1.5 .5 .5 .5 .8 .5-.7 .5 .5 .5-1.4 .5 1.5 .5-.8 .5 .4 .5 .1 .5-1.9 .5 2.3 .5-1.2 .5 1.2 .5-1.1 .5 .4 .5-1.3 .5 .3 .5 1.6 .5-1.4 .5 .8 .5-.2 .5-.8 .5 .6 .5 .1 .5 .6 .5-.8 .5-.1 .5 1.5 .5 0 .5-1 .5-.8 .5 1 .5-.6 .5 1.4 .5-1.1 .5-.4 .5 .2 .5-.5 .5 .7 .5-.9 .5 1.1 .5 .5 .5-.3 .5-1 .5 .9 .5-.6 .5-.7 .5 1 .5 .7 .5-.5 .5-.4 .5-.3 .5 .5 .5 .4 .5-.3 .5 .8 .5-.3 .5 .2 .5-1 .5 .6 .5-.3 .4 .2 .5 0 .5 1.6 .5-2.7 .5 1.1 .5-.6 .5 .7 .5-.1 .5 .9 .5-1.2 .5-.4 .5 .7 .5 0 .5-1.8 .5 3 .5-2.1 .5 1.8 .5-.2 .5 .1 .5-.9 .5-.7 .5 .1 .5 1.4 .5-1.2 .5 .6 .5-.6 .5-.1 .5 1.1 .5-1.4 .5 .6 .5-.1 .5 .3 .5-.2 .5-.6 .5 .4 .5 .1 .5 1.7 .5-.9 .5-.6 .5 .2 .5-.4 .5 1.4 .5-1.3 .5-.6 .5 3.7 .5-3.6 .5 .2 .5-.3 .5 1 .5-.8 .5 0 .5 1.3 .5 .3 .5-.8 .5-1 .5 1.1 .5-.8 .5 .6 .5 0 .5-1 .5 1.5 .5-.7 .5 0 .5-.8 .5 1.5 .5-1.2 .5 .6 .5-.8 .5-.2 .5 0 .5-.3 .5 .9 .5 1.3 .5-.2 .5-1.4 .5 0 .5 1.7 .5-.5 .5-.6 .5-.3 .5 0 .5-1.4 .5 1.2 .5 2 .5-.3 .5-1.4 .5 .8 .5-.2 .5-.8 .5-.3 .5 .3 .5 .5 .5 .9 .5-.8 .5-.2 .5-.2 .5 1.1 .5 .3 .5-1 .5-.4 .5 .4 .5 .2 .5 .4 .5-.1 .5-1.3 .5 .5 .5-.3 .5 .8 .5-1.3 .5-.5 .5 1.3 .5-.4 .5 0 .5 .2 .5-.7 .5 .7 .5-1 .5-.1 .5 1.1 .5-.7 .5 .9 .5-.7 .5-.9 .5 0 .5-.5 .5 .7 .5 .4 .5-.3 .5 .2 .5-.7 .5 1.8 .5-.4 .5 .4 .5-1.4 .5 .8 .5-.3 .5 1.8 .5-1.2 .5 1.8 .5-1.3 .5-.7 .5 1.4 .5 .3 .5-1.3 .5-.3 .5 .4 .5-.8 .5 .1 .5-.8 .5 1.1 .5-.5 .4 1.1 .5 .1 .5 .5 .5-.5 .5-.4 .5 1.1 .5-1.4 .5-1 .5 .5 .5 .7 .5 .7 .5 .3 .5-1.4 .5 1.5 .5-.5 .5 .2 .5-1.2 .5 .5 .5-1.3 .5 1.6 .5-.4 .5 .8 .5 .3 .5-1.4 .5 1.3 .5 .1 .5-1 .5 1.6 .5-1.9 .5-.5 .5 1 .5 1.3 .5-.9 .5-1.6 .5 .9 .5 1.2 .5-1.4 .5 .4 .5-.6 .5 2.2 .5-.2 .5-2.2 .5-.4 .5 1.8 .5-.1 .5-.3 .5 0 .5-.2 .5 .8 .5 0 .5 .3 .5-.3 .5-1 .5 .1 .5 .1 .5 .3 .5-.6 .5-.1 .5 .4 .5-.1 .5 .2 .5 1.2 .5-.2 .5-1.3 .5 .4 .5-.2 .5-.4 .5 1 .5-1.9 .5 1.6 .5-.4 .5-.7 .5 1.3 .5 .3 .5-.5 .5 .1 .5-.9 .5 .9 .5 .8 .5-1.9 .5 2.4 .5-2.9 .5 2 .5-1.1 .5 .6 .5-.2 .5 0 .5 .7 .5-.9 .5 .3 .5 .8 .5-1 .5-1.5 .5 1.2 .5 0 .5-.3 .5 1.2 .5-.4 .5-.7 .5 .2 .5-.7 .5 .7 .5 1.8 .5-2.7 .5 2.7 .5-1.5 .5-.1 .5-.2 .5-.5 .5 1.3 .5-.7 .5-.2 .5 .4 .5 1.2 .5-1.5 .5 .2 .5 1.1 .5-1.7 .5 1.3 .5 1.2 .5-1.8 .5-1.2 .5 1.9 .5-1 .5 1.2 .5-.6 .5-.2 .5-.9 .5 1.5 .5-.6 .5 0 .5-.1 .5-.2 .5-.3 .5-.6 .5-1.6 .5 .1 .5-.7 .5 0 .5-1 .5-2.1 .5 .3 .5 .6 .5 1.7 .5 1 .5 1.1 .5-.2 .5 .7 .5 2.1 .5-2.2 .5 2.1 .4-.4 .5 .2 .5-.6 .5 0 .5 .6 .5-.7 .5 .1 .5-.1 .5 .5 .5-.4 .5-.1 .5 .7 .5-.3 .5-1.1 .5 .9 .5 1.1 .5-.7 .5 .8 .5-2.4 .5 1.6 .5-1.7 .5 1.8 .5-.9 .5 .4 .5 .4 .5-.9 .5 .1 .5 .2 .5 .8 .5 .5 .5-1.6 .5-.1 .5 .7 .5-.9 .5-.1 .5 1.3 .5-.7 .5 1.5 .5-1.8 .5 1.7 .5-.2 .5-1.1 .5 .4 .5-2.1 .5 2.1 .5-.1 .5-.6 .5 1.5 .5-2.7 .5 2.2 .5-.4 .5 0 .5-1.2 .5 1.5 .5-.8 .5 .5 .5 .5 .5-1.4 .5-1.4 .5 2.2 .5-.2 .5-.4 .5-.4 .5-.4 .5 .6 .5 .1 .5-1 .5 1.1 .5-1.3 .5 .6 .5-.6 .5 .2 .5 .9 .5 0 .5 .6 .5 .2 .5-.6 .5 .7 .5-.1 .5 .1 .5 .4 .5-.5 .5 .1 .5 .3 .5-1 .5 1.3 .5 .1 .5-2.2 .5 2.1 .5-1.1 .5 0 .5 1 .5-1.1 .5 .8 .5-.6 .5-.4 .5 2.2 .5-1.9 .5-.3 .5 .6 .5 1.6 .5-2.5 .5 2 .5-1.4 .5 .7 .5-.2 .5 .8 .5-1.3 .5 1.9 .5-1.6 .5-.7 .5 1.1 .5 .5 .5-.1 .5 .2 .5-.9 .5 1.2 .5-.4 .5-1.3 .5 .4 .5-.2 .5 .3 .5 .4 .5-.5 .5 .2 .5 .6 .5 .1 .5 .4 .5-3.3 .5 1.8 .5 0 .5 .1 .5-.3 .5 0 .5 1.2 .5 .4 .5-1.8 .5 1.4 .5-2.2 .5 2 .5 .8 .5-.6 .5-1.3 .5-.1 .5 .4 .5 1.1 .5-.8 .5-.2 .5 .1 .5-1.3 .5-1 .4 1 .5-.2 .5 .4 .5-.3 .5 2.2 .5-2.8 .5 0 .5 1.5 .5-.9 .5 1.6 .5 .1 .5-.6 .5 .2 .5-1.6 .5 2.3 .5-.7 .5 .4 .5 .4 .5-.6 .5-.7 .5 .4 .5-.4 .5 1.5 .5-.7 .5 .1 .5-.4 .5 .3 .5-.8 .5 1 .5-.9 .5 1 .5-.4 .5 .5 .5 .5 .5-.4 .5-.2 .5 .5 .5-1.1 .5 .4 .5 .4 .5-1.4 .5 .6 .5 2 .5-1.4 .5 0 .5 .3 .5-.5 .5-.2 .5 .1 .5 1 .5 .4 .5-1.6 .5 .3 .5 .4 .5-1.1 .5 .9 .5 .7 .5 0 .5 1 .5-2 .5 .2 .5 .7 .5-.4 .5 .6 .5-.8 .5-1.3 .5 .6 .5-.6 .5 1.4 .5 .8 .5-.5 .5-.8 .5-1.1 .5 1.4 .5-.5 .5 0 .5 .5 .5 1.7 .5-2 .5-.2 .5-.6 .5 1.8 .5-1.4 .5-.7 .5 1 .5 .6 .5-1.1 .5 .8 .5-1.1 .5 2.1 .5-1.8 .5 .8 .5-.6 .5 .3 .5 .6 .5-.7 .5 .4 .5 .9 .5 1.1 .5-1.3 .5-.6 .5 .1 .5-1 .5 .1 .5 0 .5 1.1 .5-.4 .5-.2 .5 2 .5-1.7 .5 .6 .5-.3 .5-.3 .5 .3 .5-1.4 .5 1.2 .5 .6 .5 .5 .5-1.4 .5 1.2 .5-.4 .5-.9 .5-.9 .5 1.4 .5-.7 .5 1.4 .5-.6 .5-1.4 .5 .8 .5 .6 .5 .7 .5-2.9 .5 2.3 .5-1.4 .5 .8 .5-.5 .5 1.4 .5-.5 .5 1.1 .5-.4"/>
<path stroke="#00ff00" d="M281.0 1072.4l.5-1.1 .5 1.4 .5-.2 .5 .5 .5-.6 .5 0 .5 1.1 .5-.4 .5-.7 .5 .8 .5-1 .5 .7 .5 .7 .5-1.1 .5-.6 .5 1.1 .5-.4 .5 1.6 .5-1.4 .5-.4 .5-.4 .5-.8 .5 1.1 .5 .6 .5-.7 .5 1.1 .5 .3 .5-.2 .5-1 .5-.1 .5 1.2 .5-1.1 .5 0 .5 .1 .5 1.4 .5-2.4 .5 2.2 .5-.1 .5 .5 .5-.9 .5 1.4 .5-1.1 .5-1.2 .5-.5 .5 1.1 .5 .3 .5-.1 .5 .5 .5 .1 .5-2.6 .5 1.8 .5 0 .5 .4 .5-1 .5 1.5 .5-.9 .5 1 .5-1.5 .5 .4 .5-.9 .5 .3 .5 .5 .5-.2 .5 .6 .5 .1 .5-.3 .5 0 .5-.8 .5 .5 .5 .1 .5-.4 .5 1.2 .5-.2 .5-1 .5 .2 .4 .3 .5 .1 .5 1.1 .5-1.3 .5-.3 .5 .7 .5 .2 .5 .5 .5-1.7 .5 .6 .5 .3 .5 0 .5-1.3 .5 1.4 .5 .8 .5-.6 .5-.6 .5-.6 .5 0 .5 .8 .5-.5 .5 0 .5-.7 .5 1.6 .5 .3 .5-.6 .5 .5 .5-.4 .5 1.2 .5-1.3 .5 .1 .5-.9 .5 .9 .5-.3 .5 0 .5 1.5 .5-.6 .5 .2 .5-.5 .5-.9 .5 .8 .5 .7 .5-1.4 .5 .5 .5 .2 .5 .7 .5-.7 .5 .6 .5-.1 .5-.7 .5 .4 .5-1.1 .5 .6 .5 .7 .5-.1 .5 0 .5-.3 .5 .6 .5-.2 .5-.4 .5-1.3 .5 3.4 .5-.5 .5-2.4 .5 1.7 .5-1.4 .5 1 .5-1.6 .5 .5 .5-.5 .5 .7 .5-.1 .5-.8 .5-2 .5 1.4 .5-1.2 .5 1.3 .5-2.3 .5-2.1 .5 .4 .5-1.9 .5 0 .5-2.9 .5-.5 .5-3 .2 1.5 .1-1.1 .1 .4 .1-.9 .1 1.5 .1-1.8 .1 .5 .1-.7 .1 .9 .1-2.1 .1-.2 0 1.4 .1-1 .1-.3 .1 .9 .1-.5 .1-2 .1 1.8 .1-.7 .1-.5 .1 1.1 .1-.3 .1 .3 .1-1.7 .1-.6 0 2.2 .1-1.7 .1-.6 .1-1.7 .1-.3 .1 .3 .1-3.5 .1 .5 .1 .3 .1-2.7 .1 .7 .1-2 .1-2.6 .1-.4 0-1.6 .1-2 .1-1.8 .1-4.2 .1-2.1 .1-2.3 .1-3.5 .1-3.4 .1-1.6 .1-6.6 .1-5.5 .1-6.8 .1-10.8 .1-10.9 0-13.6 .1-11.6 .1-15.3 .1-14.4 .1-14.9 .1-16.9 .1-15.6 .1-17.5 .1-21.3 .1-31.6 .1-35.5 .1-40 .1-44.5 .1-38.9 .1-27.2 0-17.4 .1-6.5 .1-.8 .1 2.1 .1 3.4 .1 3.9 .1 2.4 .1 2.6 .1 1.2 .1 0 .1 .2 .1 4.1 .1 14 .1 20.2 0 23.4 .1 26.2 .1 28.9 .1 27.8 .1 29.6 .1 52.7 .1 22.9 .1 17.4 .1 13.5 .1 13.9 .1 11.2 .1 8.8 .1 11.8 .1 10.2 0 12.8 .1 11.7 .1 11 .1 11 .1 10.9 .1 8.8 .1 3.7 .1 5.4 .1 4.9 .1 3.3 .1 1.8 .1 3.8 .1 2.1 .1 1.1 0 1.8 .1 1.4 .1 2 .1 1.2 .1 2 .1-.9 .1 3.3 .1 .5 .1 2.4 .1 1 .1 .1 .1 1.2 .1 .8 .1 .5 0 1.6 .1 1.5 .1 0 .1-.2 .1 1.5 .1-.2 .1 1.3 .1 .9 .1 .6 .1 .6 .1-1.1 .1-.9 .1 2.3 .1 .2 0 .8 .5 1.4 .5 .2 .5 1 .5 1.3 .5-.6 .5-.7 .5 2.2 .5 0 .5-.4 .5 1.5 .5-.9 .5-.4 .5 .8 .5 1.2 .5-2 .5 1.5 .5-1.5 .5 1.5 .5-.9 .5 .1 .5 .8 .5 1.4 .5-3.3 .5 1.1 .5-.6 .5 1.4 .5-.9 .5-.9 .5 1.2 .5-.3 .5-.7 .5 .6 .5-.4 .5 .4 .5-1.6 .5 1.3 .5 .3 .5-1.4 .5 3.4 .5-1.5 .5-.9 .5-.5 .5 .3 .5 .2 .5 .5 .5-1.2 .5 .2 .5 1.8 .5-2 .5 2.5 .5-1.6 .5-1 .5 .5 .5 1.9 .5-1.1 .5-.9 .5 1.7 .5-.6 .5-.8 .5-.4 .5-.3 .5 1.2 .5 .3 .5 .8 .5 0 .5-.4 .5-1.9 .5 .7 .5 .9 .5-.6 .5 .2 .5-.4 .5 .4 .5 .7 .5-.3 .4-1.5 .5 .7 .5-.5 .5-.4 .5 2 .5-.8 .5 1.9 .5-1.3 .5-.1 .5-.8 .5-.2 .5 1.2 .5-1 .5 1.6 .5-.5 .5 0 .5-.6 .5-.8 .5 1.6 .5-1.3 .5 .4 .5 .6 .5-.9 .5 0 .5-.7 .5 1.8 .5 .5 .5-1.9 .5 1.5 .5 .6 .5-.1 .5-.6 .5-1.2 .5-.6 .5 .5 .5 1 .5 .6 .5 0 .5-1.1 .5 .4 .5-.6 .5-1.1 .5 .9 .5 1.3 .5-.2 .5-.5 .5-.1 .5 1.8 .5-1.4 .5-.6 .5-.8 .5 .5 .5 .8 .5-.7 .5 .8 .5-.8 .5 2.5 .5-2.4 .5 1 .5-1.3 .5 .8 .5 .5 .5-.5 .5-1.5 .5 2.4 .5-.6 .5-1.2 .5 .3 .5 .8 .5-1.1 .5 1.1 .5-1.4 .5 1 .5 .5 .5-.9 .5 .4 .5 .2 .5 .8 .5-.2 .5-.7 .5 0 .5-.5 .5 0 .5 0 .5-.1 .5 1 .5-.8 .5-.5 .5 0 .5 .6 .5 .4 .5-.8 .5-.3 .5 .9 .5 .6 .5-1.5 .5 .4 .5-1.1 .5 3.3 .5-2.6 .5-.2 .5 1.1 .5-.4 .5 .8 .5-1.2 .5 .7 .5 .1 .5 .2 .5 1.1 .5-1.5 .5-.6 .5 1 .5-.9 .5 1.3 .5-.5 .5-.2 .5-1.2 .5 0 .5 .7 .5 .4 .5-1.5 .5 1.2 .5 .5 .5-.6 .5 1.2 .5-.6 .5 1 .5-1.7 .5 .9 .5-2.4 .5 1.4 .5 1.4 .5-1.1 .5 0 .5-.6 .5 2.2 .5-.3 .5-1 .5 .3 .5-.3 .5-1 .5 1.3 .5-.7 .5-.2 .5 1.5 .5-.8 .5-.8 .5 1.2 .5-.5 .5 .3 .5-.3 .4 .3 .5 0 .5-.9 .5 2.3 .5-1.4 .5-2.1 .5 2.6 .5-1.9 .5 1.5 .5 .8 .5-1.4 .5 .2 .5 .9 .5-.4 .5 0 .5-.6 .5 .2 .5-1.5 .5 1.1 .5 .3 .5 .5 .5-.1 .5-1.3 .5 .4 .5-1.1 .5 1.5 .5 1.3 .5-1 .5-.8 .5 .7 .5-.2 .5-.8 .5 .2 .5 .6 .5 .7 .5-1 .5-.1 .5-.6 .5 1.1 .5-.8 .5 2.2 .5-1.3 .5-2.4 .5 3.3 .5-.8 .5-.3 .5 .2 .5-.6 .5-.2 .5 .1 .5 .5 .5 .4 .5 1.1 .5-1.1 .5 .3 .5 .1 .5-1.3 .5-.1 .5 0 .5 1.9 .5-2.2 .5 1.4 .5-1 .5 2.6 .5-3 .5 .1 .5 .5 .5-.4 .5 1.4 .5 .1 .5 .1 .5 .8 .5-2.3 .5 .9 .5-.4 .5-.3 .5 .8 .5 1.4 .5-2.3 .5 2.3 .5-1.4 .5-.6 .5-.5 .5 1.5 .5-.5 .5-.2 .5-.4 .5 .4 .5-.2 .5 .4 .5-1.5 .5 1.6 .5 .5 .5-.1 .5-1.6 .5 1.1 .5 .1 .5 .7 .5-.2 .5 .1 .5-.9 .5 .6 .5-.6 .5-.1 .5-1 .5 1.4 .5-.4 .5-1 .5 2.2 .5-1.3 .5 .6 .5 0 .5-.4 .5 .3 .5 .5 .5-1.3 .5-.4 .5 1.8 .5-.4 .5-1 .5 1.4 .5-1.7 .5 1 .5 .2 .5-.3 .5 .4 .5-.7 .5-.9 .5 .8 .5 .9 .5-.4 .5-.1 .5-.2 .5 1.1 .5-1.3 .5 .6 .5 .1 .5-1 .5 1.3 .5-.2 .5 .1 .5-1.5 .5 1.9 .5-1.2 .5 .3 .5 .3 .5 .4 .5-1.1 .5 .7 .5-.2 .5-.1 .4 0 .5-.7 .5 .7 .5 .9 .5-1.6 .5-.5 .5 2.3 .5-2.1 .5 .8 .5-.3 .5 .7 .5-.5 .5 .7 .5-.7 .5-.5 .5 2.6 .5-1.7 .5 .3 .5-1.3 .5 .4 .5 .2 .5 1.1 .5-1.4 .5 1 .5-.6 .5-.3 .5 1.1 .5-.3 .5-1 .5 1.2 .5-1.4 .5 1.3 .5-.4 .5 1.7 .5-1.3 .5 1.2 .5-1.1 .5-.7 .5 .8 .5-1.6 .5 .1 .5 .9 .5 1.2 .5-.5 .5-1.7 .5-.5 .5 1.8 .5-1.4 .5 .3 .5 .4 .5-.3 .5 .1 .5 .5 .5 .9 .5-1.3 .5 .6 .5 .3 .5 0 .5-.4 .5-.5 .5 .5 .5-1.1 .5 1.1 .5 1 .5-.5 .5-2.7 .5 2.6 .5 .1 .5-.7 .5 .7 .5 0 .5-.6 .5-.1 .5-.6 .5 1.6 .5-2.4 .5 1.9 .5-.5 .5 .3 .5-.4 .5 .3 .5-.6 .5-.1 .5 2 .5-1.5 .5 1.3 .5-.5 .5-.4 .5 .1 .5-.3 .5 .8 .5-.8 .5-.2 .5 .7 .5-.5 .5 .4 .5-.8 .5 .4 .5 .8 .5 0 .5-1.6 .5 .8 .5-.7 .5 1.3 .5-1.3 .5-.6 .5 .5 .5 0 .5 2.6 .5-2.2 .5 1 .5-1.1 .5 .8 .5 .7 .5-.3 .5 .3 .5-.3 .5-.8 .5 .5 .5-.2 .5-.5 .5 1.9 .5-2.3 .5-.2 .5 .6 .5 1.2 .5-1.1 .5 .4 .5-.7 .5 1.5 .5-.7 .5-.2 .5 1 .5-1.6 .5 1.7 .5-.5 .5-1.5 .5 .7 .5 .5 .5-1.1 .5 .2 .5 1.6 .5 1 .5-.8 .5-.8 .5-.3 .5-.8 .5 1.3 .5-1 .5 .4 .5 .1 .4 .5 .5-.2 .5-2 .5 1.2 .5 1.1 .5 .3 .5-.4 .5 .2 .5-1.6 .5 .8 .5 .1 .5 .6 .5-.6 .5-.5 .5 1.1 .5-.6 .5 .4 .5-1.7 .5 1.3 .5 .3 .5 .7 .5-1 .5-1.2 .5 .2 .5 1.7 .5 0 .5-.9 .5-.5 .5 1.4 .5-1.2 .5 .4 .5-1.1 .5-.8 .5 2.1 .5 1.2 .5-1.6 .5-.7 .5 1.9 .5-1.7 .5-.9 .5 1.2 .5 .6 .5-.8 .5 .6 .5 0 .5 0 .5 1.1 .5-1 .5 .3 .5 .6 .5-1.2 .5 .9 .5-1.1 .5 .5 .5-.1 .5 .7 .5 0 .5-1.2 .5-.2 .5-.1 .5 .1 .5 .2 .5 .5 .5-.6 .5 2 .5-.5 .5 .7 .5-1.2 .5 .1 .5-.6 .5 1 .5-.4 .5-.5 .5 .3 .5 1.1 .5-.1 .5-1.2 .5-1.5 .5-.7 .5 2.1 .5 0 .5 0 .5 .3 .5 .1 .5-.9 .5 .1 .5 1.6 .5 .5 .5-1.5 .5 0 .5 .5 .5-.3 .5-.2 .5-.1 .5 1.1 .5-1.6 .5 .9 .5-1.2 .5 1.2 .5-.1 .5-.3 .5 .3 .5-1.5 .5 .6 .5 .3 .5 .4 .5-.1 .5-.5 .5 .6 .5 .2 .5 1.6 .5-1.7 .5 .1 .5 0 .5-.5 .5-.1 .5 .9 .5-.8 .5-.1 .5 .3 .5 1.2 .5-2 .5 .6 .5 .5 .5 .2 .5 .8 .5 .2 .5-1.9 .5 1 .5 .9 .5-.6 .5-1.5 .5 .2 .5 .5 .5 .6 .5-1.4 .5 1.4 .5-1.1 .5 .9 .5 .1 .5-.2 .5 .4 .5-.7 .5 .1 .5 .8 .5-1.3 .5-.1 .5-.6 .5 2.3 .5-1.8 .5 1.3 .4-.7 .5 .3 .5-.6 .5 .2 .5 .8 .5-.7 .5-.8 .5 .6 .5-.9 .5 1.4 .5 .3 .5-.5 .5 .9 .5 .1 .5-1.3 .5 .9 .5-1 .5 .3 .5-.3 .5 .3 .5-1 .5 .8 .5-.8 .5 2.1 .5-1.6 .5 .4 .5-1.1 .5 .6 .5 .9 .5-1.9 .5 1.8 .5-.6 .5 1.9 .5-1.1 .5 .2 .5-.4 .5 .5 .5-1.6 .5 2.1 .5-.6 .5-1.8 .5 1.5 .5-.3 .5 1.1 .5-1.3 .5 .2 .5 .3 .5-.4 .5 1.4 .5-.9 .5-.9 .5 .7 .5-.3 .5 1.3 .5-2 .5-.5 .5 2.9 .5-1.6 .5 .9 .5-.8 .5-.4 .5 .7 .5-.3 .5-.5 .5-1 .5 1.7 .5 .8 .5-.2 .5-1.9 .5 2.1 .5-2.1 .5 .7 .5 .4 .5 0 .5-.6 .5 .3 .5 .3 .5 0 .5 .5 .5 .1 .5-.5 .5-.7 .5 1.1 .5-.5 .5-.6 .5-1.2 .5 1.9 .5 .4 .5 .2 .5-1.5 .5 .7 .5-1.2 .5 1.4 .5 0 .5-.8 .5 1 .5 .4 .5 0 .5-1.4 .5 .7 .5 .7 .5-.9 .5-.1 .5 .1 .5 .8 .5-.8 .5-1.2 .5 1.8 .5 1.7 .5-1.8 .5 .7 .5-.8 .5-.4 .5-.6 .5 1.1 .5-.3 .5 .6 .5-.5 .5 .4 .5-2 .5 1.7 .5 .2 .5-.2 .5 .7 .5-1 .5 .5 .5-1.9 .5 2 .5 0 .5-1.2 .5-1 .5 .9 .5 .6 .5 1.3 .5-2.1 .5 1.2 .5 .1 .5-.1 .5-.9 .5 1 .5-1.5 .5-.4 .5 1.3 .5-.6 .5-1 .5 2.6 .5-.4 .5-.1 .5-1.2 .5 .2 .5-.7 .4 1.1 .5-.2 .5 .1 .5 1.1 .5-1.6 .5 .2 .5-1.1 .5 2.1 .5-.5 .5-2.9 .5-.4 .5 2.1 .5-.8 .5-2.4 .5-1 .5-3.2 .5 1 .5 1.7 .5 .8 .5 .9 .5 1.6 .5 .2 .5 2.6 .5-1.4 .5 0 .5-.7 .5 2.6 .5-1.2 .5 .7 .5-.5 .5 .3 .5-.1 .5-.5 .5 .8 .5-.9 .5 .8 .5 .1 .5 .3 .5-1.3 .5 2.5 .5-1.7 .5-1 .5-.4 .5 1.3 .5-.2 .5 .5 .5-1.7 .5 1.1 .5 .3 .5 .3 .5-2.2 .5 .8 .5-.4 .5 .3 .5-.5 .5-.2 .5-1.6 .5-.2 .5-3.4 .5-1.5 .5-1.5 .5-5 .5 2 .5 2 .5 1.8 .5 3.4 .5 2.1 .5 .1 .5 0 .5 2 .5-.5 .5 1.7 .5-1.5 .5 3 .5 .4 .5-2.4 .5-.9 .5 1.9 .5-.6 .5 .3 .5-1.1 .5 .2 .5 1.5 .5-1.4 .5-.6 .5 2 .5 0 .5-.8 .5-.6 .5 1.9 .5-1.8 .5 .4 .5-2 .5-.4 .5 .9 .5 1 .5-1.7 .5 .8 .5 .6 .5 1.7 .5-.8 .5 .6 .5 .5 .5-.1 .5 .8 .5-2.3 .5 1.3 .5 .1 .5-1.2 .5 1 .5 .1 .5-.4 .5-.2 .5 1.4 .5-.7 .5-.3 .5 .3 .5-.6 .5 .6 .5 .2 .5-1 .5 .6 .5 0 .5 .2 .5-.5 .5 .3 .5-.3 .5-.3 .5 .2 .5-.8 .5 1.7 .5-.2 .5-.9 .5-.1 .5 .1 .5-.3 .5 .1 .5 1.2 .5-.6 .5 .9 .5-.3 .5 0 .5-1.3 .5 2.3 .5-1.5 .5-1.6 .5 1.6 .5-.1 .5 .7 .5-1.2 .5 .9 .4-.4 .5 1.2 .5-1.2 .5 .6 .5 .4 .5-1.4 .5 .9 .5-.2 .5 1.2 .5-.8 .5-1 .5 2 .5-1.8 .5 .3 .5 .2 .5 .3 .5-.9 .5 .3 .5-.1 .5 .4 .5-.7 .5 .3 .5-.8 .5 2.4 .5-.9 .5 .6 .5-1.6 .5-.8 .5 .1 .5 .3 .5 1.4 .5-.7 .5-.1 .5-.6 .5 2.3 .5-2.4 .5 .9 .5 0 .5 .1 .5 0 .5 .4 .5 1.7 .5-1.1 .5-.7 .5-1 .5 2 .5 0 .5-1.6 .5 .8 .5-2.2 .5 1 .5 1.7 .5-2.2 .5 1.8 .5 .4 .5-2 .5 1 .5 1.3 .5 .7 .5-1.8 .5 1.1 .5-1.8 .5 .1 .5 .9 .5 .3 .5-.5 .5 .8 .5-.2 .5 .4 .5-.5 .5-.5 .5 .1 .5-.2 .5 .2 .5 .7 .5 0 .5 .2 .5-.3 .5 0 .5-1.3 .5 .3 .5-.1 .5-.2 .5-1.3 .5 2.4 .5-1.4 .5 .3 .5 0 .5 1.8 .5-.9 .5 .8 .5-1.2 .5 .7 .5 0 .5-.8 .5 .3 .5-1.5 .5 .5 .5 .9 .5-1.9 .5 2 .5-.1 .5-.6 .5 1.1 .5-.2 .5 .5 .5-.7 .5 .3 .5-.3 .5-1.3 .5 1.1 .5-.1 .5 .2 .5-.1 .5 .6 .5-.7 .5-.5 .5 1 .5-2 .5 .5 .5 2 .5-2.1 .5 1.4 .5-1.1 .5 1.4 .5-.3 .5 .5 .5-.3 .5 .5 .5-1.7 .5 1.9 .5-1.5 .5 1 .5-.8 .5 1 .5-.5 .5-.2 .5 .3 .5-.5 .5 .1 .5 1.1 .5-.7 .5-.3 .5-.4 .5 1.2 .5-1.5 .5 .5 .5-.8 .5 .4 .5 .3 .5 .4 .4-.3 .5 .8 .5-2.1 .5 3 .5-1.2 .5-.1 .5-1 .5 1.4 .5-1.3 .5 .5 .5 .2 .5 .3 .5 0 .5-1.1 .5-.3 .5 2 .5-.4 .5-.2 .5-.1 .5 .1 .5-1.8 .5 1.4 .5 .7 .5-.6 .5 .5 .5-.3 .5-.6 .5-.3 .5 .5 .5 .9 .5-2 .5 1.9 .5-2.1 .5 2.9 .5-1.6 .5 .2 .5-.5 .5 1.1 .5-1.3 .5 1.6 .5 .6 .5-1.6 .5-.7 .5 1.3 .5-1.2 .5 .3 .5 .4 .5 .6 .5-1.6 .5 1.3 .5-.1 .5-.5 .5 .6 .5-.5 .5-.4 .5-1.2 .5-.4 .5 1.8 .5 .5 .5-1.3 .5 .4 .5 1.4 .5-.7 .5-2 .5 1.7 .5-.8 .5 .4 .5-.5 .5-1 .5 1.9 .5-3.9 .5 .5 .5 .7 .5-2.4 .5-1.7 .5-4 .5-2.7 .5-5.8 .5-4 .5-.6 .5 4.9 .5 3.7 .5 4.8 .5 3 .5 1.8 .5 .8 .5 2.2 .5 .9 .5-.9 .5 .8 .5 .1 .5-.7 .5 1.9 .5 .4 .5-.4 .5 .3 .5 0 .5 .9 .5-.3 .5 .2 .5-1.3 .5 1 .5-.3 .5-.8 .5 1.2 .5-1.6 .5 .4 .5 1.7 .5-.3 .5-1.9 .5 1.7 .5-.1 .5-.3 .5-.7 .5 .7 .5 .7 .5 .9 .5-.7 .5-1.3 .5 1.2 .5 1 .5-1.7 .5-.8 .5 1.8 .5-1.3 .5 .5 .5 .2 .5-.4 .5 .2 .5 .5 .5 .1 .5-.4 .5 .4 .5-.3 .5-.8 .5 1.9 .5-1.1 .5 .1 .5 .4 .5-.8 .5-1 .5-.2 .5 .9 .5 1.1 .5-.5 .5 .2 .5-.8 .5-.7 .5 .8 .5-1.2 .5 .8 .4 1 .5-.9 .5-.6 .5 1.5 .5-.1 .5-.2 .5-1.5 .5 1.9 .5-.8 .5 .7 .5 .4 .5-.5 .5 .6 .5-.4 .5-.9 .5 0 .5 1.8 .5 .3 .5-1.9 .5 .5 .5 .1 .5 .3 .5-1.8 .5 1.8 .5-.5 .5 .1 .5-.4 .5 1.3 .5-1.3 .5 1.6 .5-.1 .5-1.6 .5 1.1 .5 0 .5-.9 .5-1.4 .5 1.4 .5 .5 .5 1.4 .5-.7 .5-.2 .5-.6 .5 .5 .5-1.3 .5 0 .5-.4 .5 .2 .5 .7 .5 1.6 .5-2.5 .5 1.2 .5-.2 .5-1.4 .5 1.3 .5-1.5 .5 2.4 .5-.2 .5-1.2 .5 .3 .5-.1 .5-.1 .5 1 .5-1.4 .5 .6 .5-.6 .5 1.7 .5-.7 .5 .6 .5-1.4 .5-1.3 .5 2.4 .5-.2 .5 .4 .5-.7 .5 .5 .5 .2 .5-1.1 .5-1.2 .5 2.1 .5-.4 .5-.4 .5-.6 .5 2.2 .5-1.2 .5 0 .5-.8 .5 .1 .5 .7 .5-1.1 .5 1.9 .5-1.3 .5 1.3 .5-.8 .5-.7 .5 2.1 .5-1.6 .5-.3 .5 1 .5-.4 .5-.2 .5-1.6 .5 .2 .5 2 .5-1.1 .5 .8 .5-1.1 .5 .9 .5-1.6 .5 1.1 .5 1.3 .5-1 .5-.4 .5 .1 .5 .1 .5 1.3 .5-1.4 .5 .1 .5-.9 .5 .5 .5-.4 .5-1.4 .5-1.4 .5 .3 .5 .2 .5-2.1 .5-.3 .5 1.3 .5-.4 .5-.5 .5 3.5 .5-.4 .5 .1 .5 .7 .5 .9 .5-.5 .5 1.9 .5-.9 .5 .2 .5-.2 .5-.6 .5 .6 .5 1.2 .5-1.6 .5 .2 .5 .4 .5-.8 .5 1.2 .5-1.5 .5 1.2 .5-1 .4 .5 .5 0 .5 2.2 .5-2.4 .5 1.2 .5-.4 .5-.9 .5 1.2 .5-.7 .5-1.1 .5-.1 .5 1.4 .5 0 .5-1.3 .5 1.2 .5-.3 .5 .6 .5-.9 .5 .6 .5-.1 .5 .5 .5 .4 .5 .7 .5-2.7 .5 1.4 .5-.9 .5-.2 .5-.5 .5 .9 .5 .5 .5-.3 .5 .4 .5 0 .5 .2 .5-.3 .5 .1 .5-.1 .5-.4 .5-.7 .5-.1 .5 1.4 .5-1.1 .5 1.3 .5-.9 .5-.2 .5 .4 .5 .3 .5 1.1 .5-1.6 .5 0 .5 .6 .5 .5 .5-.8 .5-.3 .5 .8 .5-.2 .5 .1 .5-1.3 .5 1.5 .5-.4 .5 .7 .5-1 .5 .5 .5-.5 .5 1.8 .5-2.7 .5 .4 .5 .1 .5-1.6 .5 1.8 .5 1.6 .5-.6 .5 .2 .5-.9 .5-.3 .5 .3 .5-.8 .5-.3 .5 2 .5-.8 .5 1.1 .5-2.1 .5 1.1 .5-1.2 .5 2.3 .5-1.1 .5-.8 .5 0 .5 1.7 .5-1.8 .5 .7 .5 .1 .5-.7 .5 1.9 .5 .2 .5-1.8 .5 .6 .5 .4 .5-.1 .5 .1 .5-1.4 .5 .9 .5-1.1 .5 1 .5 .4 .5 .3 .5-2.2 .5 1.8 .5-1.3 .5 1.4 .5 0 .5-.2 .5 .6 .5-.5 .5-.8 .5 .3 .5 .6 .5-1.5 .5 1 .5 .5 .5-1.1 .5 1.7 .5-.1 .5-.4 .5-.5 .5-.1 .5 .6 .5-.1 .5 .4 .5-1.2 .5 1 .5 .3 .5-1.5 .5 .8 .5-.1 .5-.1 .5 .8 .5-.8 .5 .6 .5-.2 .5 .3 .5-.8 .5-.3 .5 1 .5-.5 .5 .6 .5-.9 .5-.1 .5 .9 .5-.4 .5-.2 .4 .6 .5-.6 .5 .2 .5 .3 .5-1.2 .5 1.5 .5-.7 .5-.2 .5 .2 .5-.4 .5-.9 .5 1.4 .5-.4 .5 1.5 .5-.1 .5-1.4 .5 .6 .5 .5 .5-.5 .5-.4 .5-.1 .5-.5 .5 1.4 .5-.2 .5-.3 .5-.1 .5 1.2 .5-.9 .5 .6 .5-1.8 .5 .3 .5 0 .5 1.1 .5-.8 .5 1.2 .5-.8 .5 .6 .5-1 .5 .9 .5-.8 .5 .1 .5-.6 .5-.6 .5 .5 .5 1 .5 0 .5-1.4 .5 .4 .5-.2 .5 1.4 .5-1 .5-.1 .5 1 .5-.7 .5 .7 .5 .2 .5-.9 .5-.8 .5 1 .5 1.7 .5-2.3 .5 1.7 .5-1.4 .5-.2 .5 1.7 .5-1.3 .5-1.2 .5 .5 .5 .4 .5 .2 .5 1.3 .5-.3 .5-.6 .5 .3 .5-.7 .5-.8 .5 1.2 .5-.2 .5 .8 .5-.4 .5 .6 .5-1.1 .5 0 .5 0 .5-.3 .5 1.3 .5-.6 .5-1 .5 .4 .5 1.8 .5 .3 .5-.6 .5-.9 .5 1 .5-1.1 .5-.8 .5 .8 .5-.8 .5 .6 .5 1.8 .5-1.2 .5-.3 .5 .5 .5-.9 .5 .5 .5-.9 .5-.3 .5 .6 .5-.5 .5-.7 .5 1.2 .5-.4 .5 .1 .5 1.7 .5-.6 .5 .3 .5-.9 .5-.6 .5 .1 .5 1.9 .5-3.2 .5 1.6 .5 .5 .5-1.2 .5 1.8 .5-1.3 .5 .6 .5 1.1 .5-.5 .5-.8 .5 .1 .5 1.1 .5 .3 .5-.9 .5-1.7 .5 1 .5 1.1 .5-1.3 .5 .3 .5-.5 .5 .4 .5 1 .5-.2 .5-1.3 .5 1.7 .5-1.9 .5 1.7 .5 0 .5-1.6 .5-.4 .5 2.1 .4-.3 .5-.3 .5-.7 .5 .8 .5-1.3 .5 1.6 .5 1.1 .5-1.8 .5 .9 .5-1.4 .5 .9 .5-.4 .5 .5 .5-.6 .5-1 .5 2 .5-1.6 .5 1.6 .5-1.6 .5 1.4 .5-.3 .5-.6 .5 1 .5-.5 .5 1 .5-.7 .5 .4 .5-2.3 .5 2.4 .5-1.1 .5 0 .5-.8 .5 .4 .5 .3 .5 .3 .5 0 .5-.3 .5 .3 .5 .6 .5-1 .5-.1 .5 1.2 .5-.5 .5-1 .5 1.2 .5-.2 .5 1.3 .5-.9 .5-.1 .5-.6 .5-.6 .5 .6 .5-.1 .5-.1 .5 1.1 .5-1.6 .5 2 .5-2 .5-.3 .5 1.7 .5-.8 .5-.4 .5 .8 .5-.6 .5 .4 .5-.3 .5 .3 .5-.7 .5 1.1 .5-.8 .5 .4 .5-1.7 .5 1.9 .5-.7 .5 .2 .5-.1 .5-.1 .5-.3 .5 1.3 .5-1 .5 .2 .5-.1 .5-.3 .5 1.3 .5-1.3 .5 .8 .5-.9 .5-.4 .5-.1 .5 1.5 .5-1.8 .5 .2 .5 .7 .5 .9 .5-1 .5 1.3 .5-.9 .5 0 .5 1.2 .5-.7 .5-.7 .5-.1 .5 1 .5 .4 .5-1.3 .5 .1 .5 .9 .5-1.3 .5 .7 .5-.1 .5-.4 .5-.7 .5-1.2 .5 1.3 .5-1.2 .5 .4 .5-1.4 .5-.9 .5 .4 .5-1.2 .5-1 .5 2 .5 .1 .5 .3 .5 1.8 .5 .5 .5 1 .5 .3 .5 .2 .5-1.2 .5 .5 .5-1.2 .5 1.5 .5-.4 .5-1.5 .5 2 .5-.3 .5-1.6 .5-.8 .5 .9 .5-.3 .5-1.2 .5-.1 .5-.5 .5-2.3 .5-.2 .5 .6 .5 3 .5-.3 .5 1.5 .5 .8 .4 .6 .5-.1 .5 1.2 .5-.8 .5-.2 .5-.8 .5 .5 .5 .3 .5 .8 .5-1.1 .5 .6 .5-.3 .5-1.8 .5 2.1 .5 1.1 .5-2.3 .5 1.9 .5-1.7 .5 .6 .5 .2 .5 .8 .5-.7 .5 .1 .5 .6 .5 .1 .5-.8 .5 .4 .5 .7 .5-.7 .5-1 .5 .7 .5-1.1 .5 2.7 .5-1.5 .5-1.3 .5 .9 .5 .6 .5 .2 .5-.6 .5-.2 .5-.4 .5 1.4 .5 .2 .5-.7 .5-.1 .5 0 .5-.5 .5 .1 .5 .7 .5-.2 .5 .1 .5-.8 .5 1.1 .5-1.3 .5 1.6 .5-1 .5 .3 .5-.7 .5 .4 .5-.4 .5 .6 .5-1.4 .5 2.1 .5-.6 .5 .3 .5-.6 .5 .5 .5-.9 .5-.1 .5 .3 .5-.8 .5 1.7 .5-.8 .5 .1 .5-.5 .5 1 .5 .4 .5-1 .5 1 .5-.5 .5-.1 .5-1.4 .5 .6 .5 1.5 .5-.1 .5 .9 .5-2.1 .5 1 .5-1.6 .5 .4 .5-.1 .5 .1 .5 .9 .5 .8 .5-.9 .5-1 .5 1.9 .5-.7 .5-1.4 .5 2.1 .5-1 .5 .6 .5-1.1 .5 .1 .5 .7 .5-1.5 .5 1.2 .5 .7 .5-.4 .5-.4 .5-.2 .5 0 .5 1.4 .5-.9 .5-.1 .5-.8 .5 1 .5 .3 .5-2.3 .5 2.9 .5-.6 .5-.7 .5-1.2 .5 3.1 .5-1.3 .5-.9 .5-.7 .5 1.9 .5-2.2 .5 1.4 .5-.2 .5-.7 .5 .3 .5 .1 .5 1.2 .5-.4 .5 .6 .5-1.7 .5 1.8 .5-.7 .5 .6 .5-1.1 .5 .6 .5-1.1 .5 1.6 .5-.8 .5-.6 .5 .4 .5 .1 .5-1.4 .5 1.4 .4-.9 .5 .8 .5 .2 .5 1.6 .5-1.4 .5-1.3 .5 1.4 .5-1.3 .5 .1 .5 .2 .5 1.2 .5 .6 .5-.7 .5-1.5 .5 1.1 .5 .5 .5-2.5 .5 1.6 .5 2.2 .5-3 .5 .3 .5-.1 .5 1.9 .5-.3 .5-.1 .5 .3 .5-1.4 .5-.9 .5 1.8 .5-1.6 .5 1.7 .5-.1 .5-.3 .5 .9 .5-.7 .5-1.2 .5 .3 .5 1.1 .5-1 .5 1 .5-.7 .5 .4 .5-.9 .5 .6 .5-1.1 .5 .7 .5 1 .5-1 .5-.2 .5 1.4 .5-.1 .5-1.4 .5 1 .5 .2 .5-1 .5 .1 .5 .4 .5 1.3 .5-1.2 .5 0 .5-2 .5 2.3 .5 .4 .5-1.5 .5 1.4 .5-.3 .5 .3 .5-.6 .5 0 .5 1.9 .5-.5 .5-2.1 .5-.5 .5 1.5 .5 .1 .5-.3 .5-.2 .5 1.2 .5-3.4 .5 1.6 .5 1.2 .5-.1 .5-.1 .5-.9 .5 1.9 .5-.6 .5-.1 .5-.3 .5-1.4 .5 .6 .5-.5 .5 .9 .5-1.2 .5 1.1 .5-.5 .5 .5 .5-1.7 .5 .8 .5 .9 .5 .4 .5-1.6 .5 1.4 .5 1.3 .5-2.1 .5-.6 .5-1.1 .5-.2 .5 .2 .5-.6 .5-.4 .5-.1 .5-3.1 .5 .3 .5 1.2 .5 .2 .5 .8 .5 1.1 .5-.2 .5 .6 .5 2.1 .5 .8 .5-.1 .5 .2 .5 .5 .5 0 .5-1.4 .5 .5 .5-1.8 .5 2.5 .5-.7 .5 0 .5 .7 .5-1.7 .5 1.1 .5-.8 .5 1.9 .5-2.2 .5 .6 .5 .7 .5 .9 .5-1.2 .5-1.1 .5 .5 .5 .8 .5 .1 .5-1.3 .5 1.7 .5-1.6 .5-.1 .5 .5 .5-1 .4-.2 .5 .4 .5-2 .5 1 .5-1 .5 .7 .5-1 .5 1.5 .5 0 .5 .6 .5 .2 .5-.4 .5 1.2 .5 .4 .5-.2 .5 .3 .5 .1 .5-.4 .5-.2 .5 .5 .5 .1 .5 .4 .5 .4 .5-1.1 .5-.1 .5 1.8 .5-1.5 .5 0 .5-.5 .5 .9 .5-1.9 .5 1 .5 .4 .5-.3 .5 .7 .5 .6 .5-.5 .5-.6 .5-1.5 .5 1.2 .5 1.5 .5 .2 .5-.7 .5 .2 .5 0 .5-1.7 .5 .8 .5-.1 .5 .8 .5 .4 .5-.8 .5 1.4 .5-1.5 .5-.3 .5 0 .5-1.1 .5 2 .5-.9 .5 .9 .5-.2 .5 .1 .5-1.6 .5 .9 .5 .1 .5 .4 .5-1 .5 0 .5 1.6 .5-1.9 .5 1.2 .5-.9 .5 1.4 .5-1 .5 .1 .5-.4 .5-.8 .5 2.8 .5-1.4 .5 1.2 .5-.6 .5-1.2 .5 .3 .5 .8 .5-.3 .5-.6 .5 .8 .5 .3 .5 .3 .5 .4 .5-1.2 .5-.3 .5 0 .5-1.7 .5 2.9 .5 .2 .5-4 .5 2.9 .5-.5 .5 .2 .5-1.1 .5 1.2 .5-1.5 .5 2.1 .5 .2 .5 .2 .5-2.2 .5 .4 .5 .4 .5 1.5 .5-1.2 .5 1.4 .5-1.1 .5 .4 .5-1.6 .5-.2 .5 .7 .5-.3 .5-.2 .5 1.5 .5 .8 .5-1.8 .5 .5 .5 1.1 .5-.9 .5 .5 .5-.1 .5 .4 .5 0 .5-.7 .5-.9 .5 1.5 .5-1.6 .5 .9 .5 .3 .5 1.8 .5-1.6 .5-.2 .5-.6 .5 .1 .5-1 .5-.5 .5 1.5 .5 .3 .5-.5 .5 .1 .5 0 .5 1.6 .5-1.9 .5 1.9 .5-1.9 .5 .3 .4 .1 .5 .5 .5 .6 .5-.4 .5 0 .5-.7 .5-.4 .5-.3 .5-1 .5 2.3 .5-1.8 .5-.6 .5-.3 .5 .8 .5-.4 .5 1.8 .5 .3 .5-1.2 .5 1.6 .5-.3 .5-.3 .5 .1 .5-.4 .5 .9 .5-2 .5 1.9 .5-.6 .5-1.7 .5 1.5 .5 .4 .5 .3 .5-.3 .5-.8 .5 .9 .5-.1 .5-2.6 .5 1.6 .5 .6 .5-.2 .5 .6 .5 1.4 .5-1.5 .5-.4 .5 .3 .5-.6 .5 .2 .5-.1 .5 1 .5-.8 .5 .4 .5 .2 .5-1 .5 1.2 .5 .8 .5-1.4 .5 .4 .5 .6 .5 .2 .5-.8 .5-.4 .5 .6 .5-1.2 .5 .2 .5 .2 .5 .7 .5-1.2 .5 1.1 .5-1.5 .5 .5 .5 .1 .5 1.1 .5 .9 .5-2.5 .5 1.4 .5-.3 .5 .4 .5-.7 .5 1 .5-2.2 .5 2.3 .5 .4 .5-1.7 .5 .7 .5-1 .5 .6 .5 .1 .5-1.8 .5 2.7 .5-.2 .5 .9 .5-1.5 .5 .2 .5 .8 .5-2.3 .5 1.8 .5-.7 .5 1.8 .5-1.6 .5 .9 .5-1.1 .5-2.1 .5 3.5 .5-.3 .5 0 .5-1 .5 1.2 .5-1.7 .5 .1 .5 1.4 .5-.1 .5 .8 .5-2 .5 .9 .5 .1 .5 .4 .5-1.7 .5 .9 .5-.3 .5 .7 .5 1.8 .5-1.7 .5 .7 .5-.7 .5-.8 .5 .5 .5-.2 .5-.1 .5 .7 .5-.2 .5-1 .5-1 .5 1.2 .5 .7 .5 .8 .5-.9 .5 .2 .5 .4 .5 .1 .5-1.4 .5 .4 .5 .6 .5-.9 .5-.2 .5 .4 .5 .3 .5 .8 .5-1.2 .5-.3 .5 .4 .5 .9 .5-2 .4 1.6 .5 .5 .5-1 .5-.2 .5-.4 .5 .2 .5 .6 .5 1 .5-.5 .5-.7 .5-.8 .5 .2 .5 1.7 .5-1.9 .5 1.8 .5-.6 .5 .6 .5-.4 .5-.7 .5 .4 .5-.3 .5-.7 .5 .8 .5 .1 .5-.8 .5 .6 .5 .8 .5-.6 .5-.8 .5 2 .5-1.7 .5 1.4 .5-.6 .5 .6 .5-.6 .5-1.1 .5 1.8 .5-1.5 .5-.5 .5-.1 .5 1.5 .5-.7 .5 0 .5-.8 .5 2.6 .5-.9 .5 .3 .5-.7 .5 .8 .5-1.3 .5 1.4 .5-1 .5-.3 .5 .9 .5-.3 .5 0 .5-1.5 .5 .5 .5-.3 .5 .4 .5 .7 .5-.8 .5 .7 .5-.8 .5 .6 .5 .6 .5 .5 .5 .5 .5-1.2 .5 .1 .5 .9 .5-2.4 .5 .4 .5 1.5 .5 .1 .5 .7 .5-.1 .5-.1 .5-.6 .5-.6 .5 .9 .5-2.3 .5 1.2 .5-1 .5 1 .5-2 .5 2.5 .5-.4 .5 .9 .5-2.1 .5 1 .5 .9 .5-2 .5 1.2 .5-1.5 .5 3 .5-2.1 .5 .7 .5 .2 .5-1.6 .5 .9 .5-.8 .5 1.7 .5 .6 .5-2.8 .5 1.7 .5-1 .5 1.3 .5 .2 .5 .2 .5-.2 .5-1.7 .5 .2 .5 1 .5 .5 .5-1.1 .5 .3 .5 .7 .5-.3 .5 .8 .5-1.7 .5 1.2 .5-.3 .5 0 .5-.2 .5-.3 .5 1.5 .5-1.5 .5 .8 .5-.3 .5-.5 .5 .7 .5 0 .5 1 .5-1.8 .5 1 .5 0 .5 .3 .5-1.2 .5 .7 .5-1.2 .5 1.2 .5 .6 .5 .3 .5-2.8 .5 1.4 .5 .6 .5-1.7 .5 3.3 .5-1.7 .5-1.5 .4 3.7 .5-2.1 .5-1.8 .5 .8 .5 .1 .5 .5 .5 1.4 .5-1.8 .5 .1 .5 .4 .5 .4 .5-.2 .5-1.2 .5 1.7 .5-1.3 .5 0 .5 2.5 .5-3.2 .5 1.3 .5-.8 .5 1.3 .5-.2 .5-1 .5 .4 .5-.1 .5 .8 .5-1.7 .5 1.6 .5-.1 .5-.2 .5-.3 .5 .8 .5 0 .5-.3 .5-.1 .5 .4 .5 0 .5-1.3 .5-.1 .5 .6 .5-.2 .5 .1 .5 .3 .5 1.2 .5-1 .5 .1 .5 .5 .5-1.2 .5 .3 .5-1.2 .5 .8 .5 1.1 .5-.8 .5 .1 .5 1.4 .5 .1 .5-1.2 .5-.7 .5-.3 .5 .9 .5-.8 .5 .8 .5-.4 .5 .3 .5-.2 .5 1.2 .5-1 .5 1.3 .5-1.5 .5 1.5 .5-2 .5 1 .5-.5 .5-.5 .5 2.3 .5-1.4 .5-.8 .5-.5 .5 1.6 .5 .1 .5-.4 .5-.6 .5 .1 .5-.6 .5 .5 .5 .2 .5 .7 .5 .1 .5-1.4 .5-.7 .5 2.9 .5-1.3 .5-.7 .5 .8 .5-.8 .5 .2 .5-1.5 .5 1.5 .5 1.5 .5-.6 .5-.8 .5 .3 .5 .4 .5 .3 .5-1.4 .5 .4 .5 .3 .5 .5 .5-.9 .5 .6 .5 .2 .5-.6 .5 .4 .5 .4 .5-1.8 .5 1 .5 0 .5 1.2 .5-3.1 .5 .7 .5-.6 .5 .2 .5 .8 .5-1.1 .5 .6 .5 0 .5-.1 .5 .8 .5-.3 .5-.7 .5 .4 .5 .7 .5-.5 .5 .9 .5-.3 .5-.2 .5 .2 .5-.5 .5 1.1 .5-.6 .5-.1 .5 .4 .5 1.8 .5-.7 .5-1.3 .5-.3 .5 1.3 .5-1.3 .5 1.6 .5-1.3 .5 1.3 .4 .7 .5-1.7 .5 .7 .5 .1 .5 1.2 .5 .1 .5-2.5 .5 1.7 .5-.2 .5-.6 .5 .2 .5-1.2 .5 .2 .5 .6 .5-1 .5 1.3 .5-.1 .5 1 .5-2 .5 1.9 .5-.7 .5-.1 .5-.2 .5 0 .5-.5 .5-.2 .5 1.7 .5-2.7 .5 2.5 .5-.5 .5-.1 .5 .6 .5-.7 .5 .1 .5 .3 .5-.5 .5 .8 .5-.1 .5-.7 .5 .4 .5-1 .5 .9 .5-.2 .5-1.1 .5 1 .5 .4 .5-1.1 .5-.3 .5 1 .5-.4 .5-.3 .5 .8 .5-.8 .5 .8 .5 .7 .5-.5 .5-.2 .5-.8 .5 1.7 .5-1.2 .5 1.5 .5-1.7 .5 .4 .5-.9 .5 1.2 .5-1.3 .5 1.1 .5 1.2 .5-.8 .5-1.5 .5 1.7 .5-1.6 .5 .7 .5-.2 .5 .1 .5 .2 .5-1.7 .5 2.5 .5-.8 .5-.7 .5 1 .5 .8 .5-1.8 .5 1.2 .5-.5 .5 .1 .5-.5 .5 .5 .5 .4 .5-1.6 .5 .6 .5 .1 .5 0 .5-.9 .5 .9 .5-.5 .5 1.2 .5-.3 .5 .1 .5 .2 .5-.7 .5-.4 .5 1.3 .5-.8 .5-.2 .5 1.7 .5-2.3 .5 1.7 .5 .4 .5-1.3 .5-.2 .5 .8 .5-.9 .5-.9 .5 2.3 .5 .4 .5-2.2 .5 1.5 .5-.4 .5-.2 .5 .6 .5-.9 .5 .1 .5 .3 .5 .1 .5-2 .5 2.7 .5-.5 .5 .3 .5-.9 .5-.8 .5 1.2 .5-.2 .5 .2 .5-.5 .5-1.6 .5-.7 .5-.1 .5-.4 .5-1.2 .5-.9 .5 .6 .5-1 .5 2.2 .5-.8 .5 3.7 .5-2.1 .5 3.2 .5-.5 .5 .3 .5 0 .4-.8 .5 .3 .5 1.2 .5-1.9 .5 .6 .5 .9 .5-1.2 .5 1.9 .5-2.2 .5 .3 .5 .6 .5-.6 .5 .4 .5 .2 .5-.1 .5 .4 .5 0 .5 0 .5-.1 .5-.1 .5 .2 .5 0 .5 .4 .5 .6 .5-1.7 .5 1.8 .5-.7 .5 .1 .5-1.1 .5 .6 .5 0 .5-.4 .5 .7 .5-1.4 .5 .2 .5 1.3 .5-.3 .5-1.5 .5 1.5 .5-.2 .5 .5 .5-.7 .5 0 .5-.7 .5 .6 .5-.2 .5 .7 .5-2 .5 1.5 .5 .9 .5-2.9 .5 2.5 .5-.2 .5-.2 .5 .1 .5-.8 .5 1.1 .5-.4 .5-1.6 .5 1.7 .5-1.4 .5 0 .5 .9 .5-.8 .5 .2 .5-.1 .5-.5 .5 .2 .5-1.7 .5 2.4 .5-.7 .5-1 .5 .5 .5 1.5 .5-1.6 .5-.3 .5 3 .5-.4 .5-.6 .5 1.1 .5-.8 .5 .3 .5-.1 .5 .2 .5-1.3 .5 .8 .5 .3 .5-1.1 .5-.1 .5 .9 .5 1.2 .5-1.2 .5 .9 .5 .1 .5 .1 .5-.5 .5-1.8 .5-.3 .5 .8 .5 .6 .5 .1 .5-.3 .5 .1 .5 .8 .5-1.4 .5 1.4 .5-.1 .5-1.7 .5 1.4 .5-.1 .5 .4 .5 0 .5-2 .5 3 .5-1.3 .5 .6 .5 0 .5-1.4 .5 .7 .5-.1 .5 1.8 .5-2.7 .5 2.2 .5-.5 .5-.8 .5-.7 .5 .7 .5 .6 .5-1.2 .5 .9 .5 .3 .5 0 .5-.8 .5 .8 .5 0 .5-2.1 .5 .7 .5-.2 .5 .4 .5 1.2 .5-.3 .5-.1 .5-.7 .5 1.1 .5-2 .5 .1 .5 1.5 .5-.9 .5 .9 .5-.3 .5-.1 .4-1.5 .5 0 .5-1 .5 1.1 .5-.2 .5-.5 .5 .3 .5 .4 .5 .7 .5-1 .5 .2 .5 .5 .5 .7 .5 1.2 .5-.6 .5-2.4 .5 .6 .5 .8 .5-1.2 .5 2.5 .5-1.2 .5-.3 .5 .9 .5 .4 .5-.5 .5 .3 .5 .7 .5-1.5 .5 .8 .5-1.4 .5 .5 .5 1.7 .5-1.3 .5-.2 .5 1.4 .5-1 .5 1.1 .5 .7 .5 .3 .5-1.9 .5 .5 .5-.7 .5 1.7 .5-.9 .5 1.7 .5-2.4 .5 .3 .5-2.2 .5 1.7 .5 0 .5 .9 .5 .4 .5-1.4 .5 .5 .5 .6 .5-.5 .5 .5 .5 .7 .5-1.6 .5 .7 .5 .6 .5-.8 .5 1.1 .5-1.4 .5 1.1 .5-.7 .5 .3 .5-.9 .5 1.3 .5-1.7 .5 1.7 .5-.8 .5 .2 .5 .8 .5-2.1 .5 1.7 .5-.3 .5-.7 .5 1 .5-.6 .5 1.4 .5-1.8 .5 1.6 .5-.1 .5-.8 .5-.8 .5 .5 .5-1 .5 .5 .5 .1 .5 .7 .5-1.3 .5 1.3 .5-.6 .5 1 .5-.2 .5-.9 .5 .6 .5 0 .5-.6 .5 .2 .5 .1 .5-.6 .5-.2 .5 1.1 .5-1.5 .5 1.7 .5 .2 .5-.9 .5 .6 .5-.9 .5 1.1 .5 1.8 .5-1.9 .5-.4 .5 0 .5-1 .5 .5 .5 .3 .5-.3 .5 .6 .5 .8 .5-1.9 .5 .5 .5 .6 .5-1 .5 .2 .5 1 .5 .1 .5-.2 .5-1 .5 1.2 .5 .2 .5-1 .5 .4 .5-.2 .5 0 .5-.2 .5 .7 .5-.9"/>
</g>
<rect x="1228" y="62" width="911" height="616.5" fill="#fff" stroke="none"/>
<g clip-path="url(#ci)" fill="none" stroke-width="6.5" stroke-linejoin="round" stroke-linecap="round" shape-rendering="crispEdges">
<path stroke="#ff0000" d="M1228.0 575.2l1.5-.6 1.5-.5 1.5 1.4 1.5-1.2 1.5-1.3 1.5 1.9 1.5-.3 1.5-.4 1.5 .1 1.5-.4 1.5-.3 1.5 .1 1.5 1.9 1.5-1.7 1.5 .4 1.5 1 1.5-1.4 1.5 .3 1.5-.2 1.5-.5 1.5 1 1.5 .1 1.5-.5 1.5 .1 1.5 .4 1.5 .1 1.5 .6 1.5-.6 1.5 0 1.5-.8 1.5-.4 1.5 1.5 1.5-1.2 1.5 .9 1.5-.4 1.5-.5 1.5 .6 1.5 .8 1.5-.2 1.5-1 1.5 .1 1.5-.9 1.5 .4 1.5 .4 1.5 .3 1.5 .2 1.5-.4 1.5 .9 1.5-1.2 1.5 .9 1.5-.9 1.5 .3 1.5 .3 1.5 .3 1.5-.8 1.5 .2 1.5 .1 1.5 .3 1.5 .6 1.5-.4 1.5-.6 1.5 .1 1.5 .8 1.5 0 1.5-.1 1.5-.6 1.5-.5 1.5 .1 1.5 .5 1.5-.7 1.5 .5 1.5 1.3 1.5-1 1.5 .3 1.5-1 1.5 1.3 1.5-1 1.5 .3 1.5 0 1.5 0 1.5-.4 1.5 .7 1.5 .7 1.5-1.2 1.5 .6 1.5-1.1 1.5 .8 1.5-.5 1.5 1.1 1.5-1 1.5 .6 1.5-.3 1.5-.7 1.5 .7 1.5-.1 1.5 .5 1.5-.6 1.5-.8 1.5 .4 1.5 .2 1.5 .7 1.5-.6 1.5 .7 1.5-.7 1.5 .4 1.5 .3 1.5-.4 1.5-1 1.5 1.5 1.5-.7 1.5 .5 1.5-1.9 1.5 1.4 1.5 0 1.5-.2 1.5 .2 1.5-.5 1.5 0 1.5 .8 1.5-.4 1.5 .5 1.5-.2 1.5-.6 1.5 .4 1.5-.2 1.5 .4 1.5 .7 1.5-.9 1.5-.3 1.5 1.4 1.5-1.3 1.5-.3 1.5 .2 1.5-.9 1.5 1.9 1.5-.2 1.5 0 1.5-.3 1.5-.4 1.5-.2 1.5-.2 1.5 .8 1.5 .1 1.5-.1 1.5-.9 1.5 1.5 1.5-1.4 1.5 .4 1.5 0 1.5-.3 1.5-1 1.5 .6 1.5 .3 1.5 .9 1.5-.8 1.5 .4 1.5-.9 1.5 .5 1.5 .8 1.5 .3 1.5-.8 1.5 .1 1.5-.3 1.5-.1 1.5 0 1.5 .5 1.5-.9 1.5-.3 1.5 .9 1.5-.7 1.5 .5 1.5-.8 1.5 .6 1.5-.4 1.5-.1 1.5 .6 1.5-.7 1.5-1 1.5 .6 1.5 .4 1.5 1 1.5-1.1 1.5-.5 1.5 .3 1.5 .8 1.5-.4 1.5 0 1.5 0 1.5 .4 1.5-1.5 1.5 1.3 1.5-.4 1.5-.9 1.5 .9 1.5 .3 1.5-.9 1.5 .6 1.5-1.8 1.5 .3 1.5 1.1 1.5-.3 1.5 .3 1.5-.2 1.5 .2 1.5-1.3 1.5-.1 1.5 1.4 1.5-.5 1.5-.2 1.5-.2 1.5 .9 1.5-1.3 1.5 .5 1.5 .5 1.5-1.1 1.5-.1 1.5 .1 1.5-1 1.5 1.6 1.5-.1 1.5 .4 1.5-1.1 1.5 .2 1.5 .1 1.5 .5 1.5-.8 1.5 0 1.5-.7 1.5 .5 1.5-.2 1.5 .5 1.5-.3 1.5-1 1.5-.1 1.5 .7 1.5-.5 1.5 .4 1.5 .4 1.5-1.4 1.5 .8 1.5-.8 1.5 .5 1.5-.1 1.5-.6 1.5-.7 1.5 .9 1.5-.5 1.5 .7 1.5-.1 1.5 .4 1.5-.2 1.5-1.4 1.5 .1 1.5 .4 1.5 .4 1.5 .1 1.5-.5 1.5 .5 1.5-.7 1.5 1.1 1.5-.9 1.5-.1 1.5 0 1.5 .2 1.5 .8 1.5-.7 1.5 .3 1.5-.9 1.5 .7 1.5 0 1.5 0 1.5-1.1 1.5-.1 1.5 .5 1.5 .2 1.5-1 1.5 .4 1.5 .4 1.5-2.2 1.5 0 1.5 .1 1.5-.1 1.5-.8 1.5-.2 1.5-.1 1.5-1.6 1.5-.9 1.5 .3 1.5-2.6 1.5 .3 1.5-1 1.5-1.7 1.5-1.7 1.5-.8 1.5-1.6 1.5 .1 1.5-1.9 1.5-1.4 1.5-1 1.5-1.2 1.5-.9 1.5-1.7 1.5-2 1.5-1.2 1.5-2 1.5-1.9 1.5-.9 1.5-2.4 1.5-2 1.5-1.9 1.5-2.4 1.5-3.2 1.5-3.4 1.5-2.7 1.5-4.4 1.5-3.3 1.5-6.4 1.5-5 1.5-6.9 1.5-4.6 1.5-5.8 1.5-6.6 1.5-6.8 1.5-9.2 1.5-10.5 1.5-12.2 1.5-13.3 1.5-12.1 1.5-11.5 1.5-9.7 1.5-9.8 1.5-24.7 1.5-32.4 1.5-24 1.5-24 1.5-16.4 1.5-13 1.5-12.5 1.5-25.1 1.5-28.7 1.5-20.3 1.5-13.1 1.5-5.8 1.5-3.3 1.5-2 1.5-1.4 1.5 .3 1.5-1.5 1.5 1.6 1.5-1.5 1.5 3.6 1.5 10 1.5 17.4 1.5 20.6 1.5 25 1.5 24.9 1.5 25.9 1.5 22.7 1.5 20.7 1.5 19.4 1.5 21.2 1.5 24.1 1.5 29.5 1.5 25.2 1.5 17.1 1.5 13.6 1.5 8.3 1.5 8.9 1.5 14.1 1.5 16.4 1.5 14.8 1.5 13.3 1.5 12 1.5 3.9 1.5 6 1.5 3.1 1.5 2.8 1.5-.9 1.5 2 1.5 1.6 1.5 1.3 1.5 .4 1.5 1.7 1.5-.1 1.5 .8 1.5 .5 1.5 .9 1.5 .3 1.5-.7 1.5 1.7 1.5-.6 1.5 .4 1.5 .4 1.5 .6 1.5 .7 1.5 .3 1.5-.9 1.5 1 1.5 .8 1.5 .1 1.5-.2 1.5-.3 1.5 .8 1.5-.3 1.5-.5 1.5-.5 1.5 1.7 1.5 .5 1.5 .5 1.5-.3 1.5-.3 1.5-.3 1.5 .3 1.5 .3 1.5-.9 1.5 .8 1.5-.2 1.5 .7 1.5 0 1.5-1.4 1.5 .3 1.5 .9 1.5 .4 1.5-.7 1.5 .6 1.5-.1 1.5-.2 1.5 0 1.5 .6 1.5 .4 1.5-.9 1.5 .7 1.5-.2 1.5-.4 1.5 0 1.5-.2 1.5 .6 1.5 .2 1.5-.4 1.5-.8 1.5 1 1.5-.2 1.5-.1 1.5 .8 1.5-1.1 1.5 .3 1.5 .3 1.5 .7 1.5-1.4 1.5 .7 1.5-1.2 1.5 .7 1.5 .2 1.5-.6 1.5 1 1.5-.2 1.5-.6 1.5 .5 1.5-.5 1.5 .3 1.5 0 1.5 .8 1.5-1.2 1.5 .8 1.5 .3 1.5-.6 1.5 .2 1.5 .8 1.5-1.7 1.5 0 1.5 .9 1.5-.3 1.5 .7 1.5-1.1 1.5 .3 1.5 .3 1.5-1.5 1.5 1.9 1.5-.7 1.5-.6 1.5 .2 1.5 0 1.5 1 1.5-1.2 1.5 1.1 1.5-1 1.5 .5 1.5-.4 1.5 .1 1.5 .6 1.5-.6 1.5-.3 1.5 .8 1.5 .6 1.5-1.2 1.5-.1 1.5-.2 1.5-.4 1.5 .3 1.5 .6 1.5-.6 1.5 .5 1.5-.1 1.5 .3 1.5 .4 1.5-.8 1.5-.7 1.5 .8 1.5 .2 1.5 .6 1.5-.9 1.5-.4 1.5-.2 1.5 .8 1.5-.4 1.5 .7 1.5 .1 1.5-.7 1.5 .3 1.5-.3 1.5 .3 1.5-1 1.5 .2 1.5 1.4 1.5-1.7 1.5 .2 1.5 .9 1.5-.8 1.5 .3 1.5-.3 1.5 1.3 1.5-.9 1.5 1 1.5-.8 1.5-1 1.5 1 1.5-1.1 1.5 1.5 1.5-1.7 1.5 1.8 1.5-.3 1.5 .5 1.5-.6 1.5 0 1.5-.4 1.5-.1 1.5-.1 1.5 .2 1.5 .1 1.5 1.4 1.5-1.1 1.5-.7 1.5 1.2 1.5-.6 1.5-.5 1.5 .5 1.5-.5 1.5 .7 1.5-.5 1.5 .8 1.5-1.3 1.5 .8 1.5-.8 1.5 1.7 1.5-1.6 1.5 1.7 1.5-1.2 1.5 .7 1.5-1 1.5 .2 1.5 1 1.5-1.5 1.5 1 1.5-1.2 1.5 2 1.5-.5 1.5-1.6 1.5 .8 1.5 .8 1.5 .6 1.5-1.2 1.5-1 1.5 1.7 1.5-1.1 1.5 .4 1.5-.3 1.5-.5 1.5-.5 1.5 2.1 1.5-.8 1.5 0 1.5-.4 1.5 .6 1.5-.8 1.5-.1 1.5-.1 1.5-.1 1.5 1 1.5-1 1.5 1.9 1.5-1.1 1.5-.2 1.5 .1 1.5 1 1.5-2.1 1.5 1.2 1.5 1"/>
<path stroke="#000000" d="M1228.0 641.7l1.5-.4 1.5-.4 1.5 1.5 1.5-1.5 1.5 1.3 1.5-1.6 1.5-.3 1.5 .8 1.5-.2 1.5-1.1 1.5 1.3 1.5 1.4 1.5-1.5 1.5 .4 1.5-.3 1.5 0 1.5 .2 1.5-.1 1.5-.1 1.5 .2 1.5 .1 1.5-.2 1.5-.9 1.5 .3 1.5-.1 1.5 .5 1.5 .9 1.5-.6 1.5-.4 1.5 1.3 1.5-.7 1.5-.8 1.5 .7 1.5 .3 1.5-.1 1.5-.8 1.5 .4 1.5-.5 1.5-.3 1.5 1 1.5-1.4 1.5 1 1.5 .7 1.5-.3 1.5-.3 1.5 .2 1.5-.1 1.5 .6 1.5-.4 1.5 .1 1.5-.8 1.5 .3 1.5-.2 1.5 .9 1.5-.1 1.5-.4 1.5 .4 1.5-.5 1.5-.1 1.5 .4 1.5-.1 1.5 1.1 1.5-2 1.5 1.2 1.5-1 1.5 .9 1.5-.9 1.5-.4 1.5 1.7 1.5-.9 1.5 1 1.5-1.3 1.5-.1 1.5 1.1 1.5-1 1.5 .4 1.5-.5 1.5 .3 1.5-1 1.5 .9 1.5 .2 1.5 .5 1.5 .1 1.5-.6 1.5 .1 1.5-.1 1.5 1.2 1.5-1.6 1.5 .9 1.5-.4 1.5-.8 1.5 1 1.5 .3 1.5-.4 1.5-.8 1.5 .9 1.5 0 1.5-.6 1.5 .8 1.5-1.4 1.5 .2 1.5 .5 1.5 .1 1.5 .5 1.5 .1 1.5-1 1.5 1 1.5 .3 1.5-.4 1.5-.6 1.5 0 1.5-.4 1.5-.6 1.5 .6 1.5-.3 1.5 .9 1.5-.1 1.5 .1 1.5 0 1.5 .1 1.5-.6 1.5 .1 1.5 .4 1.5 .6 1.5-1.8 1.5 .4 1.5 .4 1.5-.4 1.5 .2 1.5 .3 1.5-.4 1.5 .8 1.5-.1 1.5 .1 1.5-.2 1.5 .2 1.5-2.1 1.5 2.1 1.5-1 1.5 1.7 1.5-1.6 1.5 .6 1.5-1 1.5 .1 1.5 .8 1.5 0 1.5 .7 1.5-.4 1.5 .2 1.5 .4 1.5-2 1.5 1.7 1.5-1.3 1.5 .6 1.5-.2 1.5 .5 1.5-.1 1.5-.1 1.5-.6 1.5-.8 1.5 1.1 1.5-.1 1.5 0 1.5 .3 1.5 .7 1.5-.4 1.5-.4 1.5-.6 1.5-.4 1.5 1.5 1.5-.5 1.5-.3 1.5-.9 1.5 .6 1.5 .5 1.5-.2 1.5-.5 1.5 .3 1.5-.3 1.5-.2 1.5 1 1.5-.5 1.5-.3 1.5-.5 1.5 .9 1.5-1.5 1.5 .8 1.5-.8 1.5-.7 1.5 .8 1.5-1 1.5 .9 1.5-.7 1.5 .7 1.5-.4 1.5-.7 1.5 .5 1.5-.3 1.5 1.2 1.5-.1 1.5-.5 1.5 0 1.5 .7 1.5-1.2 1.5-.2 1.5 .7 1.5-.6 1.5-.9 1.5 1.3 1.5-.9 1.5 .6 1.5 0 1.5-1.1 1.5 .1 1.5 .3 1.5-1.1 1.5 .1 1.5 .5 1.5-.1 1.5-.6 1.5 .4 1.5 .2 1.5-.6 1.5-.1 1.5 .3 1.5-.6 1.5 .1 1.5 .2 1.5-.9 1.5 .7 1.5 .4 1.5-.8 1.5 1.2 1.5-.5 1.5 .5 1.5-.8 1.5 .3 1.5-.4 1.5-.6 1.5 .8 1.5-.7 1.5 .6 1.5-.9 1.5 .5 1.5-.2 1.5 .8 1.5-.9 1.5 .7 1.5-.3 1.5 .5 1.5-1.1 1.5 .7 1.5-.1 1.5-.2 1.5-.2 1.5 .6 1.5-1.6 1.5 1.1 1.5-.7 1.5 .5 1.5 .2 1.5-.4 1.5-.4 1.5-.4 1.5-.3 1.5 .3 1.5 .6 1.5-1.1 1.5 2.1 1.5-1.5 1.5-.4 1.5 .9 1.5-.1 1.5-.5 1.5-.7 1.5 .3 1.5 .3 1.5-.5 1.5-1.8 1.5 1.1 1.5 .1 1.5-1.8 1.5-1.2 1.5 0 1.5-.1 1.5-.8 1.5-.7 1.5-2.3 1.5 .6 1.5-.7 1.5-.5 1.5-.2 1.5-2.2 1.5-.1 1.5-1.2 1.5-1.6 1.5-2.3 1.5-.5 1.5-2.6 1.5-1.5 1.5-2.3 1.5-1.3 1.5-1.6 1.5-.3 1.5-2.2 1.5-1.7 1.5-2.1 1.5-2 1.5-2.4 1.5-2 1.5-1.7 1.5-4.2 1.5-2.6 1.5-5 1.5-4.9 1.5-3.3 1.5-4.9 1.5-3.6 1.5-5.4 1.5-4.2 1.5-7.1 1.5-7.8 1.5-7.9 1.5-9.8 1.5-10.6 1.5-9.7 1.5-10.2 1.5-11.7 1.5-14.5 1.5-13.5 1.5-15.3 1.5-16.3 1.5-15.5 1.5-12.4 1.5-17.1 1.5-21.9 1.5-23.1 1.5-27 1.5-21.7 1.5-16.8 1.5-13.7 1.5-10.5 1.5-9.8 1.5-8.9 1.5-9.5 1.5-6.7 1.5-4.5 1.5-.9 1.5-1 1.5 7.4 1.5 13.6 1.5 11.7 1.5 24 1.5 18.9 1.5 27.4 1.5 39.5 1.5 34 1.5 32.8 1.5 19.7 1.5 16.3 1.5 17.9 1.5 18.7 1.5 17 1.5 16.4 1.5 16.4 1.5 14.2 1.5 14.9 1.5 13.6 1.5 12.1 1.5 8.1 1.5 7.3 1.5 5.2 1.5 3.4 1.5 3.9 1.5 2.1 1.5 3.5 1.5 1.7 1.5 2.8 1.5 1.7 1.5 .9 1.5-.3 1.5 1.4 1.5 1.4 1.5 .8 1.5 .8 1.5 1.1 1.5-.3 1.5 .3 1.5 .5 1.5 1.9 1.5 .4 1.5-.4 1.5 .6 1.5 1.1 1.5-.7 1.5 .8 1.5 .2 1.5-.1 1.5 .4 1.5 .3 1.5-.7 1.5-.6 1.5 .9 1.5-.6 1.5 0 1.5 1.4 1.5-.8 1.5 .4 1.5 .4 1.5-.5 1.5 .9 1.5 .8 1.5-1.4 1.5 .5 1.5-1.3 1.5 1 1.5 1.5 1.5-.9 1.5-.2 1.5 .6 1.5-.4 1.5 1.1 1.5-.9 1.5-.2 1.5 .2 1.5-1.3 1.5 1.8 1.5 .1 1.5-1.3 1.5-.5 1.5 1.2 1.5 .5 1.5 .7 1.5-1.3 1.5 .1 1.5 .4 1.5 .7 1.5-1.2 1.5 .3 1.5-.2 1.5 .9 1.5 .4 1.5 .3 1.5-.3 1.5-.4 1.5-.8 1.5 .6 1.5 .4 1.5-.3 1.5-.9 1.5 .3 1.5-.1 1.5 .8 1.5-.4 1.5-.4 1.5 .6 1.5-.2 1.5-.6 1.5 1 1.5-.6 1.5-.1 1.5-.5 1.5 .6 1.5 .2 1.5-1.6 1.5 .8 1.5 .2 1.5 .5 1.5-1.1 1.5 1.9 1.5-1.3 1.5-.4 1.5 .4 1.5 .5 1.5-.5 1.5-.4 1.5 .5 1.5 0 1.5-.1 1.5-.6 1.5 .7 1.5 2 1.5-2.4 1.5 .2 1.5-1.3 1.5 1.2 1.5 .1 1.5-.4 1.5 .1 1.5-.5 1.5 1 1.5-.4 1.5-.7 1.5 .4 1.5 .4 1.5-.1 1.5 1.3 1.5-1.5 1.5 .1 1.5-.6 1.5 .8 1.5-.8 1.5 .7 1.5-.6 1.5-.1 1.5 0 1.5 1.5 1.5-1.7 1.5 1.2 1.5-.6 1.5-.7 1.5 .5 1.5-.3 1.5 .7 1.5 .4 1.5 .5 1.5-1.4 1.5-.1 1.5 0 1.5 .4 1.5-.5 1.5 1.5 1.5-1.1 1.5-.1 1.5-1.5 1.5 1.8 1.5-.7 1.5 1.9 1.5-1 1.5-.5 1.5 .5 1.5 .8 1.5-.9 1.5 .2 1.5-1.5 1.5 .6 1.5-.2 1.5 .9 1.5-1.1 1.5-.1 1.5 .7 1.5 .1 1.5 .5 1.5 .5 1.5-.1 1.5-.7 1.5 .1 1.5-1.2 1.5 1.7 1.5-1.1 1.5 .2 1.5 .2 1.5-.5 1.5 .4 1.5 .7 1.5 .2 1.5 .3 1.5-.6 1.5-.7 1.5 .5 1.5-.8 1.5-.8 1.5 1.6 1.5-.5 1.5 0 1.5-.4 1.5 1.7 1.5-1 1.5 .7 1.5-.7 1.5 .1 1.5-.1 1.5 .8 1.5-1.9 1.5 .9 1.5-.2 1.5 .6 1.5-.6 1.5 .3 1.5-.3 1.5-.2 1.5 .7 1.5 .4 1.5-.4 1.5-1 1.5 .4 1.5 .8 1.5-.6 1.5 .7 1.5-.5 1.5 .8 1.5-1.4 1.5 .7 1.5 .4 1.5-.2 1.5-1 1.5 .2 1.5 .3 1.5-.4 1.5 .3 1.5 0 1.5 .1 1.5 0 1.5-.2 1.5 .8 1.5 .2 1.5-.7"/>
<path stroke="#0000ff" d="M1228.0 505.8l1.5-.1 1.5-.9 1.5 1.2 1.5-.1 1.5-.4 1.5-.7 1.5 .5 1.5-.5 1.5 .7 1.5-.6 1.5-.5 1.5 0 1.5 .3 1.5-.2 1.5 .8 1.5 .2 1.5-.4 1.5-.3 1.5 .1 1.5-.2 1.5-.1 1.5 .7 1.5-.6 1.5 .6 1.5-.8 1.5-.2 1.5 .9 1.5 1.4 1.5-1.5 1.5-.5 1.5 1.3 1.5-.8 1.5-.3 1.5-.4 1.5 1 1.5-.6 1.5-.3 1.5 .3 1.5 .8 1.5-.1 1.5-1.1 1.5-.5 1.5 2 1.5-.8 1.5 1.1 1.5-1 1.5 .1 1.5-.3 1.5 0 1.5 .2 1.5-.1 1.5 .8 1.5-1 1.5-.1 1.5 .9 1.5-1.2 1.5 .4 1.5 .2 1.5-.9 1.5 1.1 1.5-.4 1.5 .6 1.5-.3 1.5-.9 1.5-.1 1.5 .3 1.5 .3 1.5 .1 1.5-.1 1.5 .5 1.5-1 1.5 .4 1.5 1.1 1.5-.8 1.5 0 1.5 .4 1.5-1.1 1.5 .9 1.5-.2 1.5-.4 1.5 .6 1.5 .7 1.5-.7 1.5-.2 1.5 .9 1.5-.5 1.5 .8 1.5-.4 1.5-.6 1.5-.5 1.5 .2 1.5 .8 1.5-1.4 1.5 2.1 1.5-2.8 1.5 1.7 1.5 .4 1.5-1.2 1.5-.7 1.5 .9 1.5 .1 1.5 .7 1.5-.5 1.5 .1 1.5-.2 1.5 .9 1.5-1.1 1.5 .2 1.5 .3 1.5 1.4 1.5-3.4 1.5 .5 1.5 .9 1.5-.2 1.5 .5 1.5 .4 1.5 0 1.5-.6 1.5-.3 1.5 .3 1.5-.3 1.5 1.5 1.5-.5 1.5-.8 1.5 .4 1.5-.7 1.5 .2 1.5 .1 1.5-.8 1.5 .6 1.5-.4 1.5 .6 1.5-1 1.5 .2 1.5 .6 1.5 .5 1.5-.6 1.5-.2 1.5-1.1 1.5 .5 1.5 .3 1.5-.2 1.5 0 1.5 .6 1.5 0 1.5-1.1 1.5-.2 1.5-.6 1.5 .9 1.5 .3 1.5 .3 1.5-1.2 1.5 .1 1.5-.3 1.5 1.7 1.5-.4 1.5-1.3 1.5 .3 1.5-.6 1.5 .1 1.5 1.4 1.5-1.5 1.5 0 1.5 0 1.5-.8 1.5-.3 1.5-.3 1.5 1.6 1.5-1.1 1.5 0 1.5 .8 1.5-1.3 1.5 .3 1.5-.3 1.5 .6 1.5-.5 1.5-.9 1.5 1.4 1.5 .1 1.5-.7 1.5-.4 1.5 0 1.5-.7 1.5 .3 1.5 .7 1.5-.5 1.5-1.1 1.5-.1 1.5 .6 1.5 .8 1.5-.6 1.5-.4 1.5 .5 1.5-1.1 1.5 .6 1.5-.5 1.5-.5 1.5 .8 1.5-1.1 1.5 .6 1.5 .6 1.5-1.4 1.5 1.4 1.5 0 1.5-.4 1.5-.7 1.5 0 1.5-.1 1.5 .1 1.5-.6 1.5 .7 1.5 .6 1.5-1.7 1.5 1.7 1.5-1.7 1.5 .1 1.5 .2 1.5 .2 1.5 .1 1.5 .8 1.5-.7 1.5 .3 1.5-1 1.5 .5 1.5-1.3 1.5 .2 1.5 2 1.5-1.4 1.5 .3 1.5 .1 1.5-.1 1.5-1.3 1.5 .8 1.5 1.2 1.5-.8 1.5-.9 1.5 .2 1.5-.3 1.5 .3 1.5-.1 1.5-.1 1.5-.5 1.5-.7 1.5 1.2 1.5-.2 1.5 .1 1.5 .3 1.5-.9 1.5 .8 1.5-.9 1.5 .6 1.5-.3 1.5-.9 1.5 .9 1.5-.4 1.5-.3 1.5-.2 1.5 0 1.5-.6 1.5-.4 1.5 .6 1.5 .4 1.5-.7 1.5 .4 1.5-1.5 1.5 1.7 1.5-.9 1.5-.4 1.5 0 1.5 .1 1.5-.3 1.5 0 1.5-1.1 1.5 1 1.5-.6 1.5-.7 1.5 1 1.5-.6 1.5 .8 1.5-1.4 1.5 1 1.5-.5 1.5-.9 1.5 .8 1.5-.3 1.5 0 1.5-1 1.5-1.2 1.5 .9 1.5 .1 1.5 .2 1.5-.1 1.5-.3 1.5-.7 1.5-.6 1.5-.7 1.5-.3 1.5-1.9 1.5-1.4 1.5-2.5 1.5-1.9 1.5-4.6 1.5-6.1 1.5-6.6 1.5-5.4 1.5-5.5 1.5-3.5 1.5-5.6 1.5-3.5 1.5-4.7 1.5-5.2 1.5-4.3 1.5-4.7 1.5-4.9 1.5-5.1 1.5-4.7 1.5-3.8 1.5-3.8 1.5-2.8 1.5-6.4 1.5-4.9 1.5-4.9 1.5-7.8 1.5-3.1 1.5-4 1.5-3.8 1.5-3.6 1.5-5 1.5-3.3 1.5-5.1 1.5-4.5 1.5-5.1 1.5-5.9 1.5-5.3 1.5-1.9 1.5 .7 1.5-1.8 1.5-.7 1.5 .1 1.5-.7 1.5 .4 1.5-.2 1.5 .6 1.5 1.4 1.5 .5 1.5 .6 1.5-.3 1.5 0 1.5-1.4 1.5-2.2 1.5-4 1.5-6 1.5-6 1.5-4.6 1.5-4.4 1.5-4.3 1.5-6.4 1.5-5.6 1.5-5.4 1.5-6.6 1.5-9.6 1.5-9.8 1.5-8.3 1.5-4.4 1.5-3.2 1.5-8.7 1.5-8.5 1.5-5.2 1.5-2.5 1.5-4 1.5-4.6 1.5-4.9 1.5-.4 1.5-.5 1.5 1.1 1.5 2.2 1.5 4.5 1.5 13.4 1.5 14.7 1.5 18.2 1.5 18.3 1.5 10.8 1.5 13.2 1.5 15 1.5 15.7 1.5 14.7 1.5 15.8 1.5 14.3 1.5 18 1.5 16.1 1.5 7.1 1.5 4.4 1.5 5.7 1.5 11.2 1.5 9.6 1.5 7.2 1.5 7.8 1.5 3.1 1.5 5.8 1.5 2.7 1.5 2.7 1.5 2.4 1.5 1.8 1.5 1.9 1.5-.1 1.5 2.6 1.5 .7 1.5 .7 1.5 1.4 1.5 1.4 1.5 1.3 1.5 .3 1.5 .8 1.5 2.2 1.5 .3 1.5-.1 1.5 .7 1.5 1.3 1.5 1 1.5-.1 1.5 .8 1.5 1.2 1.5-.8 1.5 1.5 1.5 .3 1.5 .1 1.5 1.2 1.5 .9 1.5-.2 1.5 .4 1.5 1.4 1.5-.2 1.5-.3 1.5 1 1.5 .4 1.5-.3 1.5-.8 1.5 .9 1.5-.1 1.5 1.6 1.5-1.1 1.5 1.6 1.5-.9 1.5 .2 1.5 .2 1.5 .9 1.5-1.4 1.5 .5 1.5 .2 1.5 .4 1.5-.4 1.5 .5 1.5 .5 1.5-.6 1.5 1 1.5-.6 1.5 0 1.5 .5 1.5-.5 1.5 .5 1.5-.6 1.5-.2 1.5 .9 1.5 .2 1.5-.4 1.5 .6 1.5-.7 1.5 1.4 1.5-1.3 1.5 .5 1.5-.3 1.5 0 1.5-.4 1.5 1.3 1.5-.9 1.5-.2 1.5 1 1.5 0 1.5-1 1.5 .8 1.5 .3 1.5-.5 1.5-.8 1.5 .7 1.5-.4 1.5-.2 1.5 .8 1.5 .3 1.5-1.6 1.5 1 1.5-.2 1.5 .7 1.5-.6 1.5-.4 1.5 1.6 1.5-.9 1.5 .8 1.5-.6 1.5-.6 1.5-.2 1.5-.1 1.5 .7 1.5 .3 1.5 .6 1.5-1.4 1.5 .8 1.5 .4 1.5 .3 1.5-.2 1.5-.2 1.5 .1 1.5-1.1 1.5 .8 1.5-.7 1.5 1.9 1.5-.6 1.5-.7 1.5 0 1.5 0 1.5 .5 1.5-.4 1.5 .1 1.5-.4 1.5 .8 1.5 .1 1.5-.9 1.5 1 1.5-.5 1.5 .6 1.5 .1 1.5-.8 1.5 .7 1.5 .3 1.5-1.3 1.5 .8 1.5-.6 1.5 .9 1.5-1.2 1.5 1.5 1.5-.7 1.5 .6 1.5 .8 1.5-1.1 1.5-.5 1.5-.1 1.5 1.1 1.5-1.1 1.5 0 1.5 1 1.5 .6 1.5-.5 1.5 .9 1.5-.3 1.5-.2 1.5-.2 1.5 0 1.5 .1 1.5 .3 1.5-.4 1.5-.9 1.5-.1 1.5 .4 1.5 .7 1.5-.8 1.5 .7 1.5 .3 1.5 .6 1.5-1.1 1.5 0 1.5-.1 1.5 0 1.5 .5 1.5 1.1 1.5-2.5 1.5 1.8 1.5 .2 1.5 .6 1.5 0 1.5-.5 1.5-1 1.5 .5 1.5 .3 1.5-.2 1.5 .9 1.5-.6 1.5-.3 1.5 .6 1.5 .6 1.5-.8 1.5-.2 1.5 .2 1.5 .5 1.5 .2 1.5-.5 1.5 0 1.5 .9 1.5 .9 1.5 .3 1.5-.1 1.5-1.6 1.5 .5 1.5-.1 1.5-.1 1.5 0 1.5 .4 1.5 .3 1.5 .5"/>
<path stroke="#00ff00" d="M1228.0 425.8l1.5-.9 1.5 0 1.5 .6 1.5-.1 1.5-.6 1.5 .3 1.5-1.1 1.5 1.2 1.5-.8 1.5 .8 1.5-1.8 1.5 1.6 1.5-.6 1.5 .3 1.5 .4 1.5-.4 1.5 1.2 1.5-.3 1.5-.8 1.5 1.2 1.5-1 1.5 .2 1.5 .8 1.5 .1 1.5-1 1.5 .4 1.5-.5 1.5 .6 1.5-.7 1.5 .8 1.5-1.5 1.5 1.1 1.5 .4 1.5-.5 1.5-1 1.5 1 1.5-.7 1.5 .3 1.5 .3 1.5 1 1.5-1.1 1.5-.6 1.5 1.6 1.5-1.1 1.5-.2 1.5 .2 1.5 0 1.5 .9 1.5-1.9 1.5 .7 1.5 .9 1.5-.4 1.5-.1 1.5-1 1.5 1.5 1.5-.8 1.5 1.1 1.5-2.1 1.5 1.5 1.5 .1 1.5 .6 1.5-.8 1.5-.4 1.5 .5 1.5-.4 1.5 .3 1.5-1.2 1.5 1.1 1.5 .1 1.5 0 1.5-.1 1.5 1 1.5 .1 1.5-.4 1.5-.6 1.5 .8 1.5-.7 1.5-.3 1.5-.1 1.5 .2 1.5 .9 1.5-.1 1.5 0 1.5-.5 1.5-.5 1.5 .5 1.5-.2 1.5-.3 1.5 .9 1.5-1.5 1.5 .1 1.5 .2 1.5 .3 1.5 .2 1.5 .5 1.5 .1 1.5-.7 1.5-.1 1.5 .4 1.5 .5 1.5-.3 1.5 .1 1.5 .1 1.5-.2 1.5-.2 1.5-1.2 1.5 .9 1.5-.4 1.5 .2 1.5 .3 1.5 .5 1.5 .2 1.5-1 1.5 .8 1.5 0 1.5-1.4 1.5 1.3 1.5-.2 1.5-1 1.5 1.1 1.5 .3 1.5 0 1.5-.7 1.5 .7 1.5 .2 1.5-.2 1.5-1.2 1.5 1.3 1.5-.8 1.5 0 1.5 1 1.5 .1 1.5 .1 1.5-2.5 1.5 2.4 1.5-1.9 1.5 1.4 1.5-1 1.5 .9 1.5 .4 1.5-.1 1.5-.7 1.5-1.3 1.5 1.1 1.5 .1 1.5 .3 1.5 .5 1.5-1 1.5 .9 1.5-.9 1.5 .1 1.5 .6 1.5 .2 1.5 .1 1.5-.8 1.5 .6 1.5-.9 1.5 1.8 1.5-.9 1.5-.3 1.5-.5 1.5 .1 1.5 .5 1.5-.5 1.5 .4 1.5-.6 1.5 .1 1.5 1 1.5-1.1 1.5 .3 1.5-.3 1.5 .8 1.5-.8 1.5 .3 1.5 .2 1.5-.2 1.5 .5 1.5-.2 1.5 0 1.5-.4 1.5 .1 1.5-.3 1.5 0 1.5-.1 1.5 1.3 1.5-.3 1.5-1.1 1.5 .6 1.5 .5 1.5-.6 1.5 1 1.5-1.6 1.5 .7 1.5-1.2 1.5 1.8 1.5-1 1.5 .5 1.5 .4 1.5-.6 1.5-.2 1.5-.2 1.5 1.2 1.5 .1 1.5-1.2 1.5 1 1.5-1.1 1.5-.9 1.5 .9 1.5-.1 1.5 .5 1.5 .1 1.5-.7 1.5 0 1.5 .3 1.5-1.3 1.5 1.7 1.5 .1 1.5-.5 1.5-.8 1.5 .6 1.5-.4 1.5 .1 1.5 1.3 1.5-1.1 1.5-.3 1.5 .7 1.5-1.2 1.5 1.7 1.5-.7 1.5-.1 1.5 0 1.5-1 1.5 1 1.5 0 1.5-.3 1.5-.5 1.5 .3 1.5 .8 1.5-1.2 1.5 .6 1.5 .2 1.5-1.2 1.5 .4 1.5 .4 1.5 .4 1.5-.5 1.5-.6 1.5 .3 1.5-1 1.5 1.2 1.5-.4 1.5-.2 1.5 .1 1.5-.1 1.5-.7 1.5 1.6 1.5-1.9 1.5 .6 1.5-.2 1.5-1.1 1.5 .6 1.5-.5 1.5-.4 1.5-.4 1.5 .8 1.5 .4 1.5-.2 1.5-.7 1.5 .1 1.5-1.6 1.5 1.3 1.5-.7 1.5 .5 1.5-.1 1.5-.6 1.5-.4 1.5-.2 1.5 .9 1.5-1.4 1.5 .1 1.5 .1 1.5 0 1.5-1.9 1.5 .6 1.5-1 1.5 .2 1.5 .3 1.5-1.6 1.5 .8 1.5-.5 1.5 .3 1.5-.6 1.5-.1 1.5-.5 1.5 .6 1.5-.3 1.5-.4 1.5-2 1.5 2 1.5-.8 1.5 .6 1.5-.3 1.5 0 1.5-.6 1.5 .2 1.5-.3 1.5-.9 1.5 .9 1.5-.8 1.5 .3 1.5 .3 1.5-.1 1.5-.7 1.5-.4 1.5-.6 1.5-.9 1.5 .2 1.5-.6 1.5-1.1 1.5-.1 1.5-1.8 1.5-.2 1.5-1.8 1.5-1.4 1.5-1.5 1.5-1.5 1.5-2.2 1.5-1.8 1.5-2.6 1.5-1.3 1.5-5.5 1.5-2.5 1.5-3.5 1.5-6 1.5-9.6 1.5-10.1 1.5-11.9 1.5-10.9 1.5-13.5 1.5-14.1 1.5-13.4 1.5-14.8 1.5-18.3 1.5-27.6 1.5-33.7 1.5-36.6 1.5-34 1.5-23.3 1.5-11.5 1.5-1.9 1.5 1.7 1.5 2.7 1.5 2.5 1.5 2.8 1.5 1 1.5 0 1.5 .7 1.5 7.9 1.5 15.9 1.5 21.2 1.5 23.4 1.5 24.6 1.5 23.7 1.5 41.6 1.5 21.4 1.5 12 1.5 11.5 1.5 9.8 1.5 9.5 1.5 9.3 1.5 10 1.5 10.2 1.5 9.4 1.5 10.9 1.5 7.8 1.5 3.9 1.5 4.6 1.5 4 1.5 1.7 1.5 2.4 1.5 2.6 1.5 1.5 1.5 1.6 1.5 .1 1.5 2.9 1.5 .6 1.5 1 1.5 2.2 1.5 .6 1.5-.3 1.5 2.8 1.5-.4 1.5 1.1 1.5 .3 1.5 2.1 1.5-.2 1.5 .8 1.5 .7 1.5-.1 1.5-.7 1.5 2.4 1.5-.7 1.5-.4 1.5 1 1.5 .3 1.5 .2 1.5 .4 1.5 .5 1.5 1 1.5-.4 1.5-.3 1.5 1.3 1.5-1 1.5 1.4 1.5-1.2 1.5-.8 1.5 1.8 1.5-.7 1.5 0 1.5 .2 1.5 .3 1.5 .4 1.5-.3 1.5-.6 1.5 1 1.5 .2 1.5-.4 1.5 .4 1.5 .3 1.5-1.3 1.5-.1 1.5 .7 1.5 1 1.5-1.3 1.5 1.5 1.5-.9 1.5 .6 1.5-.5 1.5 0 1.5 .1 1.5-.2 1.5-.1 1.5 .2 1.5 .2 1.5 0 1.5-.6 1.5 .6 1.5 .1 1.5 .5 1.5 0 1.5-.2 1.5 .1 1.5-.8 1.5 .4 1.5 .7 1.5-.2 1.5 .7 1.5 .3 1.5-.1 1.5-1.4 1.5 0 1.5 .2 1.5 .9 1.5-.5 1.5-.3 1.5-.5 1.5 .6 1.5-.1 1.5 .9 1.5 .7 1.5-2.2 1.5-.1 1.5 1.4 1.5-.1 1.5-.7 1.5 .5 1.5 .1 1.5-.9 1.5 1.1 1.5-.7 1.5 .4 1.5 .6 1.5-1.3 1.5 1.1 1.5-.1 1.5 .5 1.5-1.4 1.5 .7 1.5-1 1.5 .8 1.5 .8 1.5 .3 1.5-.7 1.5-1 1.5-.3 1.5 1.1 1.5-.6 1.5 .6 1.5-.2 1.5 0 1.5 .9 1.5-1.7 1.5 .6 1.5 .6 1.5 .4 1.5-1.5 1.5-.1 1.5 .4 1.5-.7 1.5 .3 1.5 1.4 1.5-1.3 1.5-.3 1.5 .5 1.5 .3 1.5-.5 1.5 .4 1.5 .5 1.5-.1 1.5-.6 1.5 .8 1.5 .2 1.5-.6 1.5-1.5 1.5 1.6 1.5-.7 1.5 .7 1.5-.9 1.5-.1 1.5 0 1.5 .1 1.5 1.2 1.5-1.3 1.5 0 1.5 .4 1.5-.8 1.5 .3 1.5-.2 1.5 1 1.5-1.3 1.5 .7 1.5 .2 1.5 .5 1.5-.2 1.5-.3 1.5-.8 1.5 1.9 1.5-.6 1.5-.5 1.5-1.1 1.5 .5 1.5-.3 1.5-.1 1.5 .2 1.5-.4 1.5 .1 1.5 .4 1.5 .1 1.5-.9 1.5 .9 1.5 1.1 1.5-1 1.5-.2 1.5 0 1.5 1.5 1.5-.8 1.5 .1 1.5-.2 1.5-.3 1.5 1.1 1.5-1.2 1.5-1.1 1.5 1.5 1.5 .3 1.5-.4 1.5 .2 1.5-.1 1.5 0 1.5 1 1.5-.3 1.5-.5 1.5-.2 1.5-.4 1.5-.4 1.5 0 1.5 0 1.5 .5 1.5 0 1.5 .6 1.5-.3 1.5-1.2 1.5 .2 1.5 .6 1.5 1.8 1.5-1.7 1.5 .6 1.5-.2 1.5-.4 1.5 .7 1.5-1.5 1.5 .6 1.5-.3 1.5 1.1 1.5 1 1.5-1.4 1.5-.4 1.5 0"/>
</g>
<path d="M1228 58V683" stroke="#000" stroke-width="8" fill="none"/>
<path d="M1224 678.5H2143" stroke="#000" stroke-width="9" fill="none"/>
<path d="M1379.8 676V673.0M1531.7 676V668.0M1683.5 676V673.0M1835.3 676V668.0M1987.2 676V673.0M1230 145.2H1239.0M1230 228.8H1234.5M1230 312.3H1239.0M1230 395.8H1234.5M1230 479.4H1239.0M1230 563.0H1234.5M1230 646.5H1239.0" stroke="#000" stroke-width="7" stroke-linecap="round" fill="none"/>
<path d="M277 62H2139V1436" stroke="#000" stroke-width="8" fill="none"/>
<path d="M348 139.9H471" stroke="#000" stroke-width="6" stroke-linecap="round"/>
<path d="M348 226.9H471" stroke="#f00" stroke-width="6" stroke-linecap="round"/>
<path d="M348 314.3H471" stroke="#00f" stroke-width="6" stroke-linecap="round"/>
<path d="M348 400.8H471" stroke="#0f0" stroke-width="6" stroke-linecap="round"/>
<g filter="url(#aa)"><text x="472.3" y="157.1" font-size="60.0">a 5# EL fresh</text><text x="474.6" y="244.3" font-size="60.0">b 8# EL fresh</text><text x="471.7" y="332.0" font-size="60.6">C 5# EL cycle later</text><text x="471.3" y="418.5" font-size="60.6">d 8# EL cycle later</text><text x="397.1" y="1515" font-size="69.5" text-anchor="middle">20</text><text x="629.4" y="1515" font-size="69.5" text-anchor="middle">30</text><text x="861.6" y="1515" font-size="69.5" text-anchor="middle">40</text><text x="1093.9" y="1515" font-size="69.5" text-anchor="middle">50</text><text x="1326.1" y="1515" font-size="69.5" text-anchor="middle">60</text><text x="1558.4" y="1515" font-size="69.5" text-anchor="middle">70</text><text x="1790.6" y="1515" font-size="69.5" text-anchor="middle">80</text><text x="2022.9" y="1515" font-size="69.5" text-anchor="middle">90</text><text x="317.1" y="551.2" font-size="69">003</text><text x="701.1" y="1044.1" font-size="69">006</text><text x="802.1" y="952.6" font-size="69">102</text><text x="929.2" y="1000.8" font-size="69">104</text><text x="2018.3" y="1085.1" font-size="67.5">d</text><text x="2021.1" y="1202.3" font-size="67.5">c</text><text x="2025.1" y="1301.0" font-size="67.5">b</text><text x="2021.6" y="1393.9" font-size="67.5">a</text><text x="965.3" y="1663.7" font-size="112">2θ (deg)</text><text transform="translate(134.8 1184.4) rotate(-90)" font-size="111.3">Intensity (a.u.)</text><text x="1228.0" y="724" font-size="45.6" text-anchor="middle">17</text><text x="1531.7" y="724" font-size="45.6" text-anchor="middle">18</text><text x="1835.3" y="724" font-size="45.6" text-anchor="middle">19</text><text x="1589.7" y="806.8" font-size="55">2θ (deg)</text><text transform="translate(1193.5 571.4) rotate(-90)" font-size="51.6">Intensity (a.u.)</text></g>
</svg></body></html>
